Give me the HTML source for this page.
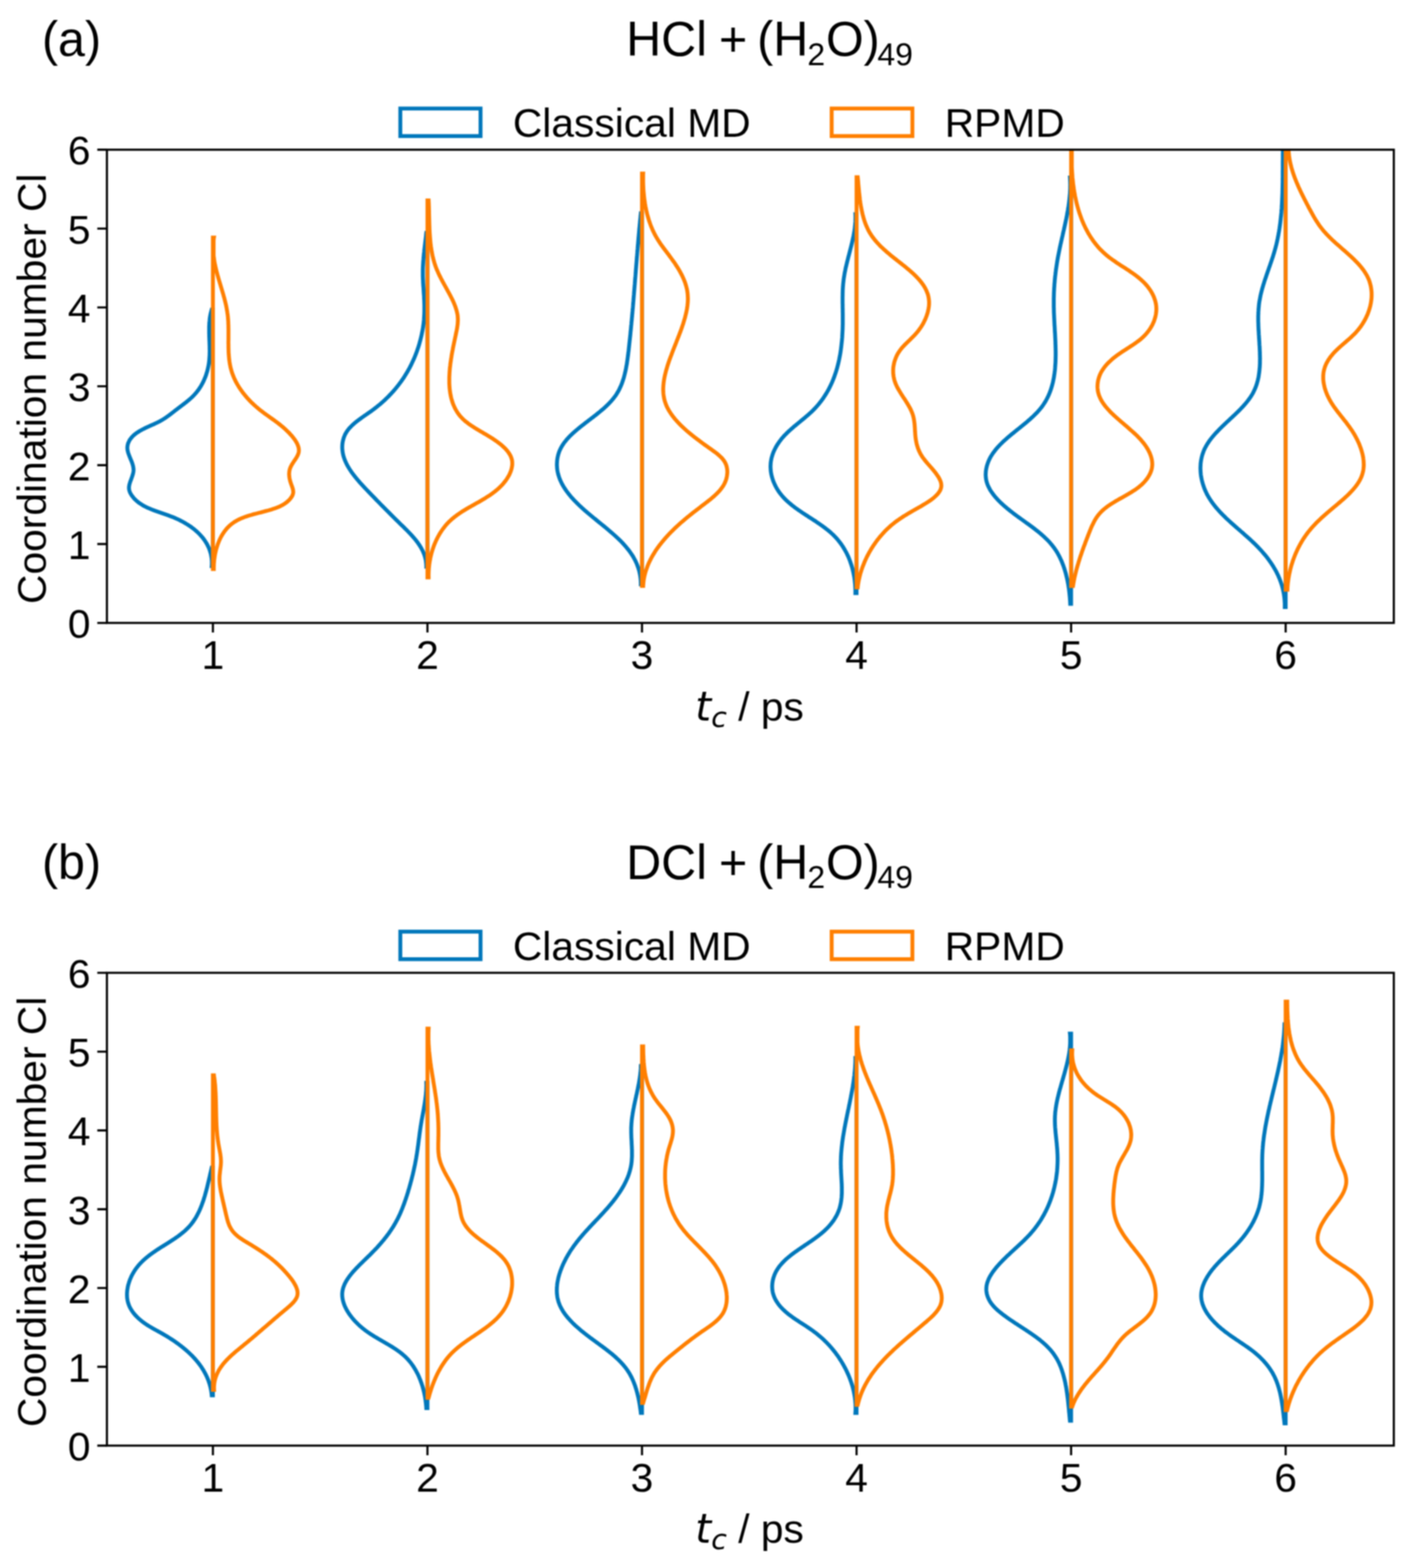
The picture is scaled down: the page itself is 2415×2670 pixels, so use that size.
<!DOCTYPE html>
<html lang="en"><head><meta charset="utf-8"><title>Coordination number Cl</title>
<style>html,body{margin:0;padding:0;background:#fff}svg{display:block}</style></head>
<body>
<svg xmlns="http://www.w3.org/2000/svg" width="2415" height="2670" viewBox="0 0 2415 2670" font-family='"Liberation Sans", Arial, Helvetica, sans-serif' fill="#000">
<rect width="2415" height="2670" fill="#fff"/>
<defs>
<filter id="soft" x="0" y="0" width="2415" height="2670" filterUnits="userSpaceOnUse" color-interpolation-filters="sRGB"><feGaussianBlur stdDeviation="0.8"/></filter>
<clipPath id="clipa"><rect x="182.1" y="254.9" width="2191.7" height="805.8"/></clipPath>
<clipPath id="clipb"><rect x="182.1" y="1656.5" width="2191.7" height="805.1"/></clipPath>
</defs>
<g filter="url(#soft)">
<rect width="2415" height="2670" fill="#fff"/>
<g clip-path="url(#clipa)" fill="none" stroke-width="6.6" stroke-linejoin="miter" stroke-miterlimit="4">
<path stroke="#0077BB" d="M362.6,527.0L360.6,527.0L360.2,528.4L359.8,529.9L359.4,531.3L359.0,532.7L358.7,534.1L358.4,535.6L358.1,537.0L357.9,538.5L357.6,539.9L357.4,541.3L357.2,542.8L357.1,544.2L356.9,545.7L356.8,547.1L356.6,548.6L356.5,550.0L356.4,551.5L356.4,553.0L356.3,554.4L356.2,555.9L356.2,557.3L356.2,558.8L356.2,560.3L356.2,561.7L356.2,563.2L356.2,564.7L356.2,566.1L356.2,567.6L356.3,569.1L356.3,570.5L356.3,572.0L356.4,573.5L356.4,574.9L356.5,576.4L356.5,577.9L356.6,579.3L356.7,580.8L356.7,582.3L356.8,583.7L356.8,585.2L356.9,586.7L356.9,588.1L357.0,589.6L357.0,591.1L357.0,592.5L357.0,594.0L357.1,595.5L357.1,596.9L357.1,598.4L357.1,599.9L357.0,601.3L357.0,602.8L357.0,604.2L356.9,605.7L356.8,607.1L356.7,608.6L356.6,610.0L356.5,611.5L356.4,612.9L356.2,614.4L356.1,615.8L355.9,617.3L355.7,618.7L355.5,620.1L355.2,621.6L355.0,623.0L354.7,624.4L354.4,625.8L354.1,627.3L353.8,628.7L353.4,630.1L353.1,631.5L352.7,632.9L352.3,634.3L351.8,635.6L351.4,637.0L351.0,638.4L350.5,639.8L350.0,641.1L349.5,642.5L348.9,643.8L348.4,645.1L347.8,646.5L347.2,647.8L346.6,649.1L346.0,650.4L345.3,651.7L344.7,653.0L344.0,654.2L343.3,655.5L342.6,656.7L341.8,658.0L341.0,659.2L340.3,660.4L339.5,661.6L338.6,662.8L337.8,664.0L336.9,665.2L336.0,666.3L335.1,667.5L334.2,668.6L333.3,669.7L332.3,670.8L331.3,671.9L330.3,673.0L329.3,674.0L328.2,675.1L327.2,676.1L326.1,677.1L325.0,678.1L323.9,679.1L322.8,680.1L321.6,681.1L320.5,682.0L319.3,683.0L318.2,683.9L317.0,684.9L315.8,685.8L314.6,686.7L313.5,687.6L312.3,688.5L311.1,689.4L309.9,690.3L308.8,691.2L307.6,692.1L306.4,692.9L305.3,693.8L304.1,694.7L303.0,695.5L301.9,696.4L300.7,697.3L299.6,698.1L298.5,699.0L297.4,699.8L296.3,700.7L295.3,701.5L294.2,702.4L293.1,703.2L292.0,704.0L291.0,704.9L289.9,705.7L288.8,706.5L287.7,707.3L286.6,708.1L285.5,708.9L284.4,709.7L283.3,710.5L282.2,711.2L281.0,712.0L279.9,712.8L278.7,713.5L277.5,714.2L276.3,715.0L275.1,715.7L273.8,716.4L272.6,717.1L271.3,717.8L270.0,718.4L268.6,719.1L267.3,719.8L265.9,720.4L264.5,721.1L263.2,721.7L261.8,722.4L260.4,723.0L258.9,723.6L257.5,724.3L256.1,724.9L254.7,725.5L253.2,726.2L251.8,726.8L250.4,727.5L249.0,728.1L247.6,728.8L246.2,729.5L244.8,730.2L243.4,730.9L242.0,731.6L240.7,732.3L239.4,733.0L238.1,733.8L236.8,734.6L235.5,735.4L234.3,736.2L233.0,737.0L231.9,737.9L230.7,738.7L229.6,739.6L228.5,740.5L227.4,741.5L226.4,742.5L225.4,743.5L224.5,744.5L223.6,745.6L222.7,746.7L221.9,747.8L221.1,748.9L220.4,750.1L219.8,751.4L219.2,752.6L218.6,753.9L218.1,755.2L217.7,756.5L217.4,757.8L217.2,759.2L217.0,760.5L216.9,761.8L216.9,763.2L217.0,764.5L217.1,765.9L217.4,767.3L217.7,768.6L218.0,770.0L218.4,771.3L218.9,772.7L219.4,774.1L219.9,775.4L220.4,776.8L221.0,778.2L221.6,779.6L222.1,781.0L222.7,782.4L223.3,783.7L223.8,785.1L224.4,786.5L224.9,787.9L225.4,789.3L225.8,790.7L226.2,792.1L226.6,793.6L226.9,795.0L227.1,796.4L227.3,797.8L227.4,799.3L227.4,800.7L227.3,802.1L227.1,803.6L226.9,805.0L226.5,806.5L226.2,807.9L225.7,809.3L225.3,810.8L224.8,812.2L224.3,813.7L223.7,815.1L223.2,816.6L222.7,818.0L222.1,819.4L221.6,820.9L221.2,822.3L220.8,823.7L220.4,825.1L220.1,826.5L219.9,827.9L219.7,829.2L219.7,830.6L219.7,832.0L219.9,833.3L220.1,834.6L220.5,835.9L220.9,837.2L221.4,838.5L222.0,839.7L222.7,841.0L223.4,842.2L224.2,843.3L225.0,844.5L225.8,845.6L226.7,846.7L227.5,847.7L228.4,848.8L229.4,849.8L230.3,850.7L231.3,851.7L232.3,852.6L233.3,853.5L234.4,854.3L235.4,855.2L236.5,856.0L237.6,856.8L238.8,857.6L239.9,858.3L241.1,859.1L242.2,859.8L243.4,860.5L244.7,861.2L245.9,861.8L247.1,862.5L248.4,863.1L249.7,863.8L251.0,864.4L252.3,865.0L253.6,865.5L254.9,866.1L256.3,866.7L257.6,867.2L259.0,867.8L260.4,868.3L261.7,868.8L263.1,869.4L264.5,869.9L265.9,870.4L267.3,870.9L268.8,871.4L270.2,871.9L271.6,872.4L273.1,872.9L274.5,873.4L275.9,873.9L277.4,874.4L278.8,874.9L280.3,875.4L281.7,875.9L283.2,876.4L284.6,876.9L286.1,877.4L287.5,878.0L289.0,878.5L290.4,879.1L291.9,879.6L293.3,880.2L294.8,880.7L296.2,881.3L297.6,881.9L299.0,882.5L300.5,883.2L301.9,883.8L303.3,884.4L304.7,885.1L306.1,885.8L307.4,886.5L308.8,887.2L310.2,887.9L311.5,888.6L312.9,889.4L314.2,890.1L315.5,890.9L316.8,891.7L318.1,892.5L319.4,893.3L320.7,894.1L322.0,894.9L323.2,895.8L324.5,896.6L325.7,897.5L326.9,898.4L328.1,899.3L329.3,900.2L330.5,901.1L331.6,902.1L332.7,903.0L333.9,904.0L335.0,905.0L336.0,905.9L337.1,906.9L338.2,908.0L339.2,909.0L340.2,910.0L341.2,911.1L342.2,912.2L343.1,913.2L344.1,914.3L345.0,915.4L345.9,916.6L346.7,917.7L347.6,918.8L348.4,920.0L349.2,921.2L350.0,922.4L350.7,923.6L351.5,924.8L352.2,926.0L352.9,927.2L353.5,928.5L354.1,929.8L354.8,931.0L355.3,932.3L355.9,933.6L356.4,934.9L356.9,936.3L357.4,937.6L357.8,939.0L358.2,940.3L358.6,941.7L359.0,943.1L359.3,944.5L359.6,945.9L359.8,947.4L360.1,948.8L360.3,950.3L360.5,951.8L360.6,953.2L360.7,954.7L360.8,956.3L360.8,957.8L360.8,959.3L360.8,960.9L360.7,962.4L360.6,964.0L362.6,964.0Z"/>
<path stroke="#FF7F00" d="M362.6,404.5L364.4,404.5L364.1,406.3L363.9,408.2L363.8,410.0L363.8,411.8L363.8,413.6L363.8,415.4L363.8,417.2L363.8,419.0L363.8,420.8L363.8,422.6L363.8,424.4L363.8,426.1L363.8,427.9L363.8,429.7L363.8,431.4L363.8,433.2L363.8,434.9L364.0,436.7L364.2,438.4L364.4,440.1L364.7,441.9L364.9,443.6L365.2,445.3L365.5,447.0L365.8,448.7L366.2,450.4L366.5,452.1L366.9,453.8L367.3,455.5L367.7,457.2L368.1,458.9L368.5,460.6L368.9,462.3L369.3,464.0L369.8,465.7L370.2,467.4L370.7,469.1L371.2,470.7L371.6,472.4L372.1,474.1L372.6,475.8L373.1,477.4L373.6,479.1L374.1,480.8L374.6,482.5L375.1,484.1L375.6,485.8L376.1,487.5L376.6,489.2L377.1,490.8L377.6,492.5L378.1,494.2L378.6,495.9L379.1,497.5L379.6,499.2L380.1,500.9L380.6,502.6L381.0,504.3L381.5,505.9L382.0,507.6L382.4,509.3L382.8,511.0L383.3,512.7L383.7,514.4L384.1,516.1L384.5,517.8L384.9,519.5L385.2,521.2L385.6,522.9L385.9,524.6L386.2,526.3L386.5,528.1L386.8,529.8L387.1,531.5L387.3,533.2L387.6,535.0L387.8,536.7L388.0,538.5L388.2,540.2L388.3,542.0L388.4,543.7L388.6,545.5L388.7,547.3L388.8,549.0L388.8,550.8L388.9,552.6L389.0,554.3L389.0,556.1L389.0,557.9L389.1,559.7L389.1,561.5L389.1,563.3L389.1,565.0L389.1,566.8L389.1,568.6L389.1,570.4L389.1,572.2L389.1,574.0L389.1,575.8L389.1,577.5L389.1,579.3L389.0,581.1L389.0,582.9L389.0,584.7L389.1,586.5L389.1,588.2L389.1,590.0L389.1,591.8L389.2,593.6L389.2,595.3L389.3,597.1L389.3,598.9L389.4,600.6L389.5,602.4L389.6,604.1L389.8,605.9L389.9,607.6L390.1,609.3L390.2,611.1L390.4,612.8L390.7,614.5L390.9,616.2L391.2,617.9L391.4,619.6L391.8,621.3L392.1,623.0L392.4,624.7L392.8,626.4L393.3,628.0L393.7,629.7L394.2,631.4L394.7,633.0L395.2,634.6L395.8,636.3L396.4,637.9L397.0,639.5L397.6,641.1L398.3,642.7L399.0,644.3L399.7,645.8L400.5,647.4L401.2,649.0L402.0,650.5L402.9,652.0L403.7,653.6L404.6,655.1L405.5,656.6L406.4,658.1L407.3,659.6L408.3,661.0L409.2,662.5L410.2,663.9L411.2,665.4L412.3,666.8L413.3,668.2L414.4,669.6L415.5,671.0L416.6,672.3L417.7,673.7L418.8,675.0L420.0,676.4L421.1,677.7L422.3,679.0L423.5,680.3L424.7,681.6L425.9,682.8L427.1,684.1L428.4,685.3L429.6,686.5L430.9,687.7L432.1,688.9L433.4,690.1L434.7,691.2L436.0,692.4L437.3,693.5L438.6,694.6L439.9,695.7L441.2,696.8L442.5,697.9L443.8,698.9L445.2,699.9L446.5,701.0L447.9,702.0L449.2,703.0L450.5,704.0L451.9,704.9L453.2,705.9L454.6,706.9L456.0,707.9L457.3,708.8L458.7,709.8L460.0,710.8L461.4,711.7L462.8,712.7L464.1,713.7L465.5,714.6L466.9,715.6L468.2,716.6L469.6,717.6L470.9,718.6L472.3,719.6L473.6,720.7L475.0,721.7L476.3,722.8L477.7,723.8L479.0,724.9L480.3,726.0L481.7,727.1L483.0,728.3L484.3,729.4L485.6,730.6L486.9,731.8L488.2,733.1L489.5,734.3L490.8,735.6L492.1,736.9L493.4,738.3L494.6,739.7L495.9,741.1L497.2,742.5L498.4,744.0L499.6,745.5L500.7,747.0L501.9,748.5L502.9,750.1L503.9,751.7L504.9,753.3L505.8,754.9L506.5,756.5L507.2,758.1L507.8,759.8L508.3,761.4L508.7,763.0L508.9,764.7L509.0,766.3L509.0,767.9L508.8,769.5L508.5,771.1L508.0,772.7L507.4,774.3L506.7,775.9L505.8,777.4L505.0,779.0L504.0,780.5L503.0,782.1L502.0,783.6L500.9,785.2L499.9,786.7L498.9,788.3L497.9,789.8L496.9,791.4L496.1,792.9L495.3,794.5L494.6,796.0L494.0,797.6L493.5,799.2L493.1,800.8L492.8,802.4L492.6,804.0L492.5,805.6L492.4,807.2L492.5,808.9L492.6,810.5L492.8,812.1L493.0,813.8L493.3,815.4L493.7,817.1L494.1,818.8L494.6,820.4L495.1,822.1L495.7,823.8L496.3,825.5L496.9,827.2L497.5,828.9L498.1,830.5L498.5,832.2L499.0,833.8L499.2,835.5L499.4,837.0L499.4,838.6L499.2,840.1L498.8,841.6L498.3,843.0L497.7,844.4L496.9,845.7L496.0,847.0L495.1,848.3L494.2,849.5L493.1,850.7L492.1,851.8L491.0,852.9L489.8,853.9L488.6,854.9L487.4,855.9L486.1,856.8L484.8,857.7L483.5,858.5L482.1,859.4L480.6,860.2L479.2,860.9L477.7,861.7L476.2,862.4L474.6,863.1L473.1,863.7L471.5,864.4L469.9,865.0L468.2,865.6L466.5,866.2L464.8,866.7L463.1,867.3L461.4,867.8L459.7,868.3L457.9,868.9L456.1,869.4L454.4,869.8L452.6,870.3L450.7,870.8L448.9,871.3L447.1,871.7L445.3,872.2L443.5,872.7L441.6,873.1L439.8,873.6L437.9,874.1L436.1,874.6L434.3,875.1L432.4,875.5L430.6,876.0L428.8,876.6L427.0,877.1L425.2,877.6L423.4,878.2L421.6,878.7L419.9,879.3L418.1,879.9L416.4,880.5L414.7,881.2L413.0,881.9L411.3,882.5L409.6,883.3L408.0,884.0L406.4,884.8L404.8,885.6L403.3,886.4L401.8,887.3L400.3,888.2L398.8,889.1L397.4,890.1L396.0,891.1L394.6,892.1L393.3,893.2L392.0,894.3L390.7,895.4L389.5,896.6L388.3,897.8L387.1,899.1L386.0,900.3L384.9,901.6L383.8,903.0L382.8,904.3L381.7,905.7L380.8,907.1L379.8,908.5L378.9,910.0L378.0,911.5L377.1,913.0L376.3,914.5L375.5,916.0L374.7,917.6L374.0,919.2L373.3,920.8L372.6,922.4L372.0,924.0L371.3,925.7L370.7,927.3L370.2,929.0L369.6,930.7L369.1,932.4L368.6,934.1L368.1,935.8L367.7,937.5L367.3,939.2L366.9,941.0L366.5,942.7L366.2,944.5L365.9,946.2L365.6,948.0L365.4,949.7L365.1,951.5L364.9,953.2L364.7,955.0L364.6,956.7L364.4,958.5L364.3,960.2L364.2,962.0L364.2,963.7L364.1,965.5L364.1,967.2L364.1,968.9L362.6,968.9Z"/>
<path stroke="#0077BB" d="M728.0,396.5L726.0,396.5L725.8,398.2L725.6,399.8L725.5,401.5L725.3,403.2L725.1,404.8L724.9,406.5L724.7,408.2L724.5,409.9L724.3,411.5L724.1,413.2L723.9,414.9L723.7,416.6L723.5,418.2L723.3,419.9L723.1,421.6L722.9,423.3L722.7,425.0L722.5,426.6L722.4,428.3L722.2,430.0L722.0,431.7L721.8,433.4L721.7,435.1L721.5,436.7L721.4,438.4L721.2,440.1L721.1,441.8L720.9,443.5L720.8,445.2L720.7,446.8L720.6,448.5L720.5,450.2L720.4,451.9L720.3,453.6L720.2,455.3L720.2,457.0L720.1,458.6L720.1,460.3L720.1,462.0L720.1,463.7L720.1,465.4L720.1,467.1L720.1,468.7L720.1,470.4L720.2,472.1L720.2,473.8L720.3,475.5L720.4,477.1L720.5,478.8L720.5,480.5L720.6,482.2L720.7,483.9L720.8,485.5L720.9,487.2L721.1,488.9L721.2,490.6L721.3,492.3L721.4,493.9L721.5,495.6L721.6,497.3L721.7,499.0L721.8,500.7L722.0,502.3L722.1,504.0L722.2,505.7L722.2,507.4L722.3,509.0L722.4,510.7L722.5,512.4L722.5,514.1L722.6,515.8L722.6,517.4L722.7,519.1L722.7,520.8L722.7,522.5L722.7,524.2L722.7,525.8L722.7,527.5L722.7,529.2L722.7,530.9L722.6,532.6L722.6,534.2L722.5,535.9L722.4,537.6L722.3,539.3L722.2,541.0L722.1,542.6L722.0,544.3L721.8,546.0L721.7,547.7L721.5,549.4L721.3,551.1L721.1,552.8L720.8,554.5L720.6,556.2L720.4,557.8L720.1,559.5L719.8,561.2L719.5,562.9L719.2,564.6L718.8,566.3L718.5,567.9L718.2,569.6L717.8,571.3L717.4,573.0L717.0,574.6L716.6,576.3L716.2,577.9L715.8,579.6L715.3,581.2L714.9,582.8L714.4,584.5L714.0,586.1L713.5,587.7L713.0,589.3L712.5,590.9L712.0,592.5L711.4,594.1L710.9,595.7L710.3,597.3L709.8,598.8L709.2,600.4L708.6,602.0L708.0,603.5L707.4,605.1L706.8,606.6L706.2,608.1L705.5,609.7L704.9,611.2L704.2,612.7L703.5,614.2L702.8,615.7L702.1,617.2L701.4,618.7L700.7,620.2L700.0,621.7L699.2,623.1L698.5,624.6L697.7,626.1L696.9,627.5L696.1,629.0L695.3,630.4L694.5,631.8L693.7,633.3L692.8,634.7L692.0,636.1L691.1,637.5L690.3,638.9L689.4,640.3L688.5,641.7L687.6,643.1L686.7,644.5L685.7,645.8L684.8,647.2L683.9,648.5L682.9,649.9L681.9,651.2L680.9,652.5L679.9,653.9L678.9,655.2L677.9,656.5L676.9,657.8L675.8,659.1L674.8,660.4L673.7,661.7L672.7,663.0L671.6,664.2L670.5,665.5L669.4,666.7L668.2,668.0L667.1,669.2L666.0,670.5L664.8,671.7L663.6,672.9L662.5,674.1L661.3,675.3L660.1,676.5L658.9,677.7L657.6,678.9L656.4,680.1L655.2,681.3L653.9,682.4L652.6,683.6L651.4,684.7L650.1,685.8L648.8,687.0L647.5,688.1L646.1,689.2L644.8,690.3L643.4,691.4L642.1,692.5L640.7,693.6L639.3,694.7L637.9,695.8L636.5,696.8L635.1,697.9L633.7,698.9L632.3,700.0L630.8,701.0L629.4,702.0L627.9,703.0L626.5,704.1L625.0,705.1L623.5,706.1L622.1,707.1L620.6,708.1L619.1,709.1L617.7,710.1L616.2,711.2L614.8,712.2L613.4,713.2L612.0,714.2L610.6,715.3L609.2,716.3L607.8,717.4L606.5,718.4L605.2,719.5L603.9,720.6L602.6,721.7L601.4,722.8L600.1,723.9L599.0,725.0L597.8,726.2L596.7,727.4L595.6,728.5L594.5,729.7L593.5,731.0L592.5,732.2L591.6,733.5L590.7,734.7L589.9,736.1L589.1,737.4L588.3,738.7L587.6,740.1L587.0,741.5L586.4,743.0L585.8,744.4L585.3,745.9L584.9,747.4L584.5,748.9L584.1,750.4L583.8,751.9L583.5,753.5L583.3,755.0L583.1,756.6L583.0,758.1L582.9,759.7L582.9,761.3L582.9,762.9L583.0,764.5L583.1,766.1L583.3,767.6L583.5,769.2L583.7,770.8L584.0,772.4L584.3,773.9L584.7,775.5L585.1,777.0L585.6,778.6L586.1,780.1L586.7,781.7L587.2,783.2L587.9,784.7L588.5,786.2L589.2,787.7L589.9,789.2L590.7,790.7L591.4,792.2L592.3,793.7L593.1,795.2L594.0,796.6L594.9,798.1L595.8,799.6L596.7,801.0L597.7,802.4L598.7,803.9L599.7,805.3L600.8,806.7L601.8,808.1L602.9,809.5L604.0,810.9L605.1,812.3L606.2,813.7L607.4,815.1L608.5,816.5L609.7,817.9L610.9,819.2L612.0,820.6L613.2,821.9L614.4,823.3L615.7,824.6L616.9,825.9L618.1,827.2L619.3,828.6L620.5,829.9L621.8,831.2L623.0,832.5L624.2,833.7L625.4,835.0L626.7,836.3L627.9,837.6L629.1,838.8L630.3,840.1L631.5,841.3L632.7,842.6L633.9,843.8L635.1,845.0L636.2,846.2L637.4,847.4L638.6,848.7L639.8,849.9L640.9,851.1L642.1,852.3L643.3,853.5L644.4,854.6L645.6,855.8L646.7,857.0L647.9,858.2L649.0,859.4L650.2,860.5L651.3,861.7L652.5,862.9L653.6,864.0L654.8,865.2L655.9,866.3L657.1,867.5L658.2,868.7L659.4,869.8L660.5,871.0L661.7,872.1L662.8,873.3L664.0,874.4L665.1,875.6L666.3,876.7L667.4,877.9L668.6,879.0L669.7,880.2L670.9,881.3L672.1,882.5L673.2,883.6L674.4,884.8L675.6,886.0L676.8,887.1L678.0,888.3L679.1,889.5L680.3,890.6L681.5,891.8L682.7,893.0L683.9,894.2L685.2,895.3L686.4,896.5L687.6,897.7L688.8,898.9L690.0,900.1L691.3,901.3L692.5,902.5L693.7,903.8L694.9,905.0L696.1,906.2L697.3,907.5L698.5,908.7L699.7,910.0L700.8,911.2L702.0,912.5L703.1,913.8L704.2,915.1L705.4,916.4L706.5,917.7L707.5,919.0L708.6,920.3L709.6,921.7L710.7,923.0L711.7,924.4L712.6,925.8L713.6,927.2L714.5,928.6L715.4,930.0L716.3,931.4L717.1,932.8L717.9,934.3L718.7,935.8L719.5,937.2L720.2,938.7L720.8,940.3L721.5,941.8L722.1,943.3L722.7,944.9L723.2,946.5L723.7,948.1L724.1,949.7L724.5,951.3L724.9,952.9L725.2,954.6L725.4,956.3L725.6,958.0L725.8,959.7L725.9,961.5L726.0,963.2L726.0,965.0L728.0,965.0Z"/>
<path stroke="#FF7F00" d="M728.0,341.3L730.0,341.3L730.1,343.1L730.2,344.9L730.3,346.7L730.3,348.5L730.4,350.3L730.5,352.1L730.5,354.0L730.6,355.8L730.6,357.7L730.7,359.6L730.7,361.4L730.7,363.3L730.8,365.2L730.8,367.1L730.9,369.0L730.9,370.9L731.0,372.8L731.0,374.7L731.1,376.7L731.1,378.6L731.2,380.5L731.2,382.5L731.3,384.4L731.4,386.4L731.4,388.3L731.5,390.3L731.6,392.2L731.7,394.2L731.8,396.1L731.9,398.1L732.1,400.0L732.2,402.0L732.3,403.9L732.5,405.9L732.7,407.8L732.8,409.7L733.0,411.7L733.2,413.6L733.4,415.6L733.7,417.5L733.9,419.4L734.2,421.3L734.5,423.3L734.8,425.2L735.1,427.1L735.4,429.0L735.8,430.9L736.1,432.7L736.5,434.6L736.9,436.5L737.4,438.4L737.8,440.2L738.3,442.1L738.8,443.9L739.3,445.7L739.8,447.5L740.4,449.3L741.0,451.1L741.6,452.9L742.2,454.7L742.9,456.4L743.6,458.2L744.3,459.9L745.1,461.6L745.8,463.3L746.6,465.1L747.4,466.8L748.2,468.5L749.0,470.2L749.9,471.8L750.7,473.5L751.6,475.2L752.5,476.9L753.4,478.6L754.3,480.3L755.2,481.9L756.1,483.6L757.1,485.3L758.0,487.0L758.9,488.7L759.9,490.4L760.8,492.1L761.8,493.8L762.7,495.6L763.7,497.3L764.6,499.0L765.6,500.8L766.5,502.5L767.4,504.3L768.3,506.1L769.2,507.8L770.1,509.6L771.0,511.4L771.8,513.2L772.6,515.0L773.4,516.8L774.1,518.6L774.8,520.4L775.5,522.2L776.1,524.0L776.7,525.9L777.3,527.7L777.8,529.5L778.2,531.3L778.6,533.1L779.0,534.9L779.3,536.7L779.5,538.5L779.6,540.2L779.7,542.0L779.8,543.8L779.8,545.6L779.7,547.3L779.6,549.1L779.5,550.9L779.3,552.7L779.1,554.5L778.8,556.2L778.6,558.0L778.3,559.8L777.9,561.6L777.6,563.4L777.2,565.2L776.8,567.0L776.5,568.8L776.1,570.7L775.7,572.5L775.3,574.4L774.9,576.2L774.5,578.1L774.1,580.0L773.7,581.9L773.3,583.8L772.9,585.7L772.5,587.6L772.1,589.5L771.7,591.5L771.3,593.4L771.0,595.3L770.6,597.3L770.2,599.2L769.9,601.2L769.5,603.2L769.2,605.1L768.9,607.1L768.6,609.1L768.2,611.0L768.0,613.0L767.7,615.0L767.4,617.0L767.1,619.0L766.9,620.9L766.7,622.9L766.4,624.9L766.2,626.9L766.0,628.8L765.9,630.8L765.7,632.8L765.6,634.7L765.5,636.7L765.4,638.6L765.3,640.6L765.2,642.5L765.2,644.5L765.2,646.4L765.2,648.3L765.2,650.2L765.2,652.2L765.3,654.1L765.4,656.0L765.5,657.8L765.6,659.7L765.8,661.6L766.0,663.4L766.2,665.3L766.5,667.1L766.7,668.9L767.0,670.7L767.4,672.5L767.7,674.3L768.1,676.1L768.5,677.8L769.0,679.6L769.5,681.3L770.0,683.0L770.5,684.7L771.1,686.4L771.7,688.0L772.4,689.7L773.1,691.3L773.8,692.9L774.6,694.5L775.3,696.0L776.2,697.6L777.1,699.1L778.0,700.6L778.9,702.1L779.9,703.5L780.9,705.0L782.0,706.4L783.1,707.8L784.3,709.2L785.5,710.5L786.7,711.8L788.0,713.1L789.3,714.4L790.7,715.6L792.1,716.9L793.6,718.1L795.1,719.2L796.6,720.4L798.1,721.6L799.7,722.7L801.3,723.8L803.0,724.9L804.6,726.0L806.3,727.1L808.0,728.2L809.7,729.3L811.5,730.4L813.2,731.4L815.0,732.5L816.8,733.5L818.6,734.6L820.4,735.7L822.2,736.7L824.0,737.8L825.9,738.9L827.7,739.9L829.5,741.0L831.3,742.1L833.1,743.2L835.0,744.4L836.8,745.5L838.6,746.6L840.3,747.8L842.1,749.0L843.9,750.2L845.6,751.4L847.3,752.6L849.0,753.9L850.6,755.2L852.3,756.4L853.9,757.7L855.4,759.1L856.9,760.4L858.3,761.8L859.8,763.1L861.1,764.5L862.4,765.9L863.6,767.4L864.8,768.8L865.9,770.3L866.9,771.8L867.8,773.3L868.7,774.8L869.5,776.3L870.2,777.9L870.8,779.4L871.3,781.0L871.7,782.6L872.1,784.2L872.3,785.9L872.4,787.5L872.4,789.2L872.4,790.9L872.3,792.6L872.0,794.2L871.7,795.9L871.4,797.6L870.9,799.3L870.4,801.0L869.8,802.7L869.2,804.4L868.5,806.0L867.7,807.7L866.8,809.4L866.0,811.0L865.0,812.6L864.0,814.2L863.0,815.8L861.9,817.4L860.8,818.9L859.6,820.4L858.4,821.9L857.2,823.4L856.0,824.8L854.7,826.2L853.4,827.5L852.0,828.9L850.7,830.2L849.3,831.5L847.9,832.7L846.4,834.0L845.0,835.2L843.5,836.4L842.0,837.6L840.5,838.7L839.0,839.9L837.4,841.0L835.8,842.1L834.3,843.2L832.7,844.2L831.0,845.3L829.4,846.3L827.8,847.3L826.1,848.4L824.5,849.4L822.8,850.4L821.1,851.4L819.5,852.3L817.8,853.3L816.1,854.3L814.4,855.3L812.7,856.2L811.0,857.2L809.3,858.1L807.6,859.1L805.9,860.1L804.2,861.0L802.5,862.0L800.8,863.0L799.1,863.9L797.4,864.9L795.7,865.9L794.0,866.9L792.4,867.9L790.7,868.9L789.1,869.9L787.4,870.9L785.8,872.0L784.2,873.0L782.6,874.1L781.0,875.2L779.5,876.3L777.9,877.4L776.4,878.6L774.9,879.7L773.4,880.9L771.9,882.1L770.4,883.3L769.0,884.5L767.6,885.8L766.2,887.1L764.8,888.4L763.5,889.8L762.2,891.1L760.9,892.5L759.7,893.9L758.4,895.4L757.2,896.9L756.1,898.4L754.9,899.9L753.8,901.4L752.7,903.0L751.6,904.6L750.6,906.2L749.5,907.8L748.5,909.4L747.6,911.1L746.6,912.8L745.7,914.5L744.8,916.2L744.0,917.9L743.1,919.6L742.3,921.4L741.5,923.2L740.8,924.9L740.0,926.7L739.3,928.5L738.6,930.3L738.0,932.2L737.4,934.0L736.7,935.9L736.2,937.7L735.6,939.6L735.1,941.4L734.6,943.3L734.1,945.2L733.7,947.1L733.2,949.0L732.8,950.9L732.5,952.8L732.1,954.7L731.8,956.6L731.5,958.5L731.2,960.4L731.0,962.3L730.8,964.2L730.6,966.1L730.4,968.0L730.3,969.9L730.2,971.8L730.1,973.7L730.0,975.6L730.0,977.5L729.9,979.4L730.0,981.2L730.0,983.1L728.0,983.1Z"/>
<path stroke="#0077BB" d="M1093.4,363.0L1091.4,363.0L1091.2,364.8L1091.0,366.7L1090.8,368.5L1090.7,370.4L1090.5,372.2L1090.3,374.0L1090.1,375.9L1089.9,377.7L1089.8,379.6L1089.6,381.4L1089.4,383.2L1089.3,385.1L1089.1,386.9L1088.9,388.7L1088.7,390.6L1088.6,392.4L1088.4,394.2L1088.3,396.1L1088.1,397.9L1087.9,399.7L1087.8,401.6L1087.6,403.4L1087.4,405.2L1087.3,407.1L1087.1,408.9L1087.0,410.7L1086.8,412.6L1086.7,414.4L1086.5,416.2L1086.3,418.0L1086.2,419.9L1086.0,421.7L1085.9,423.5L1085.7,425.4L1085.6,427.2L1085.4,429.0L1085.3,430.8L1085.1,432.7L1085.0,434.5L1084.8,436.3L1084.7,438.1L1084.5,440.0L1084.4,441.8L1084.3,443.6L1084.1,445.4L1084.0,447.3L1083.8,449.1L1083.7,450.9L1083.5,452.7L1083.4,454.6L1083.2,456.4L1083.1,458.2L1082.9,460.0L1082.8,461.9L1082.7,463.7L1082.5,465.5L1082.4,467.3L1082.2,469.2L1082.1,471.0L1081.9,472.8L1081.8,474.7L1081.6,476.5L1081.5,478.3L1081.4,480.1L1081.2,482.0L1081.1,483.8L1080.9,485.6L1080.8,487.4L1080.6,489.3L1080.5,491.1L1080.3,492.9L1080.2,494.7L1080.0,496.6L1079.9,498.4L1079.7,500.2L1079.6,502.0L1079.4,503.9L1079.3,505.7L1079.1,507.5L1079.0,509.4L1078.8,511.2L1078.7,513.0L1078.5,514.9L1078.4,516.7L1078.2,518.5L1078.1,520.3L1077.9,522.2L1077.8,524.0L1077.6,525.8L1077.4,527.7L1077.3,529.5L1077.1,531.3L1077.0,533.2L1076.8,535.0L1076.6,536.8L1076.5,538.7L1076.3,540.5L1076.1,542.3L1076.0,544.2L1075.8,546.0L1075.6,547.9L1075.4,549.7L1075.3,551.5L1075.1,553.4L1074.9,555.2L1074.7,557.1L1074.6,558.9L1074.4,560.7L1074.2,562.6L1074.0,564.4L1073.8,566.3L1073.7,568.1L1073.5,570.0L1073.3,571.8L1073.1,573.7L1072.9,575.5L1072.7,577.3L1072.5,579.2L1072.3,581.0L1072.1,582.9L1071.9,584.7L1071.7,586.6L1071.5,588.4L1071.3,590.3L1071.1,592.2L1070.9,594.0L1070.7,595.9L1070.5,597.7L1070.2,599.6L1070.0,601.4L1069.8,603.3L1069.6,605.1L1069.3,607.0L1069.1,608.8L1068.8,610.7L1068.6,612.5L1068.3,614.4L1068.0,616.2L1067.8,618.1L1067.5,619.9L1067.2,621.7L1066.8,623.5L1066.5,625.3L1066.2,627.2L1065.8,629.0L1065.4,630.8L1065.1,632.5L1064.6,634.3L1064.2,636.1L1063.8,637.8L1063.3,639.6L1062.9,641.3L1062.4,643.1L1061.9,644.8L1061.3,646.5L1060.8,648.2L1060.2,649.9L1059.6,651.6L1059.0,653.2L1058.3,654.9L1057.7,656.5L1057.0,658.1L1056.2,659.7L1055.5,661.3L1054.7,662.9L1053.9,664.5L1053.1,666.0L1052.2,667.5L1051.3,669.0L1050.4,670.5L1049.5,672.0L1048.5,673.5L1047.4,674.9L1046.4,676.3L1045.3,677.7L1044.2,679.1L1043.1,680.5L1041.9,681.9L1040.7,683.2L1039.5,684.5L1038.3,685.8L1037.0,687.2L1035.8,688.4L1034.5,689.7L1033.1,691.0L1031.8,692.3L1030.4,693.5L1029.1,694.8L1027.7,696.0L1026.3,697.2L1024.8,698.4L1023.4,699.6L1022.0,700.8L1020.5,702.0L1019.0,703.2L1017.5,704.4L1016.0,705.6L1014.5,706.8L1013.0,708.0L1011.5,709.1L1010.0,710.3L1008.5,711.5L1006.9,712.7L1005.4,713.8L1003.9,715.0L1002.3,716.2L1000.8,717.3L999.2,718.5L997.7,719.7L996.2,720.9L994.6,722.1L993.1,723.3L991.6,724.4L990.1,725.6L988.5,726.8L987.0,728.1L985.5,729.3L984.1,730.5L982.6,731.7L981.1,733.0L979.7,734.2L978.2,735.5L976.8,736.8L975.4,738.0L974.0,739.3L972.7,740.6L971.3,741.9L970.0,743.3L968.7,744.6L967.5,746.0L966.2,747.3L965.0,748.7L963.9,750.1L962.7,751.5L961.6,752.9L960.5,754.4L959.5,755.8L958.5,757.3L957.6,758.8L956.7,760.3L955.8,761.8L955.0,763.4L954.2,764.9L953.5,766.5L952.8,768.1L952.2,769.7L951.6,771.4L951.1,773.0L950.6,774.7L950.2,776.4L949.8,778.1L949.5,779.8L949.2,781.5L949.0,783.2L948.8,784.9L948.7,786.7L948.6,788.4L948.5,790.2L948.5,791.9L948.6,793.6L948.7,795.4L948.8,797.1L949.0,798.8L949.2,800.5L949.5,802.2L949.8,803.9L950.2,805.6L950.6,807.3L951.1,809.0L951.6,810.6L952.1,812.3L952.7,813.9L953.3,815.5L953.9,817.1L954.6,818.7L955.4,820.3L956.1,821.9L956.9,823.4L957.7,825.0L958.6,826.5L959.5,828.1L960.4,829.6L961.4,831.1L962.4,832.6L963.4,834.1L964.4,835.6L965.5,837.1L966.6,838.6L967.7,840.0L968.8,841.5L970.0,842.9L971.2,844.3L972.4,845.8L973.6,847.2L974.9,848.6L976.2,850.0L977.5,851.4L978.8,852.8L980.1,854.1L981.4,855.5L982.8,856.8L984.2,858.2L985.5,859.5L986.9,860.9L988.4,862.2L989.8,863.5L991.2,864.8L992.6,866.1L994.1,867.4L995.5,868.7L997.0,870.0L998.5,871.3L999.9,872.5L1001.4,873.8L1002.9,875.0L1004.4,876.3L1005.9,877.5L1007.4,878.8L1008.9,880.0L1010.4,881.3L1011.9,882.5L1013.4,883.7L1014.9,884.9L1016.4,886.2L1017.9,887.4L1019.4,888.6L1020.9,889.8L1022.4,891.0L1023.9,892.3L1025.4,893.5L1026.9,894.7L1028.4,895.9L1029.9,897.1L1031.3,898.3L1032.8,899.5L1034.3,900.8L1035.7,902.0L1037.2,903.2L1038.6,904.4L1040.1,905.7L1041.5,906.9L1042.9,908.1L1044.3,909.4L1045.7,910.6L1047.1,911.9L1048.5,913.1L1049.8,914.4L1051.2,915.6L1052.5,916.9L1053.9,918.2L1055.2,919.5L1056.5,920.7L1057.8,922.0L1059.0,923.3L1060.3,924.6L1061.5,926.0L1062.7,927.3L1063.9,928.6L1065.1,930.0L1066.3,931.3L1067.4,932.7L1068.5,934.1L1069.6,935.5L1070.7,936.8L1071.8,938.3L1072.8,939.7L1073.8,941.1L1074.8,942.5L1075.8,944.0L1076.7,945.5L1077.7,946.9L1078.6,948.4L1079.4,949.9L1080.3,951.5L1081.1,953.0L1081.9,954.5L1082.7,956.1L1083.4,957.7L1084.1,959.3L1084.8,960.9L1085.4,962.5L1086.0,964.2L1086.6,965.8L1087.2,967.5L1087.7,969.2L1088.2,970.9L1088.7,972.7L1089.1,974.4L1089.5,976.2L1089.8,978.0L1090.2,979.8L1090.4,981.6L1090.7,983.5L1090.9,985.3L1091.1,987.2L1091.2,989.1L1091.3,991.1L1091.4,993.0L1091.4,995.0L1093.4,995.0Z"/>
<path stroke="#FF7F00" d="M1093.4,295.6L1095.4,295.6L1095.3,297.6L1095.3,299.6L1095.3,301.6L1095.3,303.6L1095.3,305.7L1095.3,307.7L1095.3,309.8L1095.4,311.8L1095.4,313.9L1095.5,315.9L1095.6,318.0L1095.7,320.1L1095.8,322.2L1095.9,324.3L1096.1,326.4L1096.3,328.4L1096.5,330.5L1096.7,332.6L1096.9,334.7L1097.1,336.8L1097.4,338.9L1097.7,341.0L1098.0,343.1L1098.3,345.2L1098.6,347.3L1099.0,349.4L1099.3,351.5L1099.7,353.6L1100.2,355.7L1100.6,357.7L1101.1,359.8L1101.5,361.9L1102.0,363.9L1102.6,366.0L1103.1,368.0L1103.7,370.0L1104.3,372.0L1104.9,374.1L1105.5,376.1L1106.2,378.0L1106.9,380.0L1107.6,382.0L1108.3,383.9L1109.1,385.9L1109.9,387.8L1110.7,389.7L1111.5,391.6L1112.4,393.5L1113.3,395.4L1114.2,397.2L1115.1,399.0L1116.1,400.9L1117.1,402.7L1118.1,404.4L1119.2,406.2L1120.2,407.9L1121.3,409.7L1122.5,411.4L1123.6,413.1L1124.7,414.8L1125.9,416.5L1127.1,418.2L1128.3,419.8L1129.5,421.5L1130.7,423.2L1132.0,424.8L1133.2,426.5L1134.5,428.1L1135.7,429.8L1137.0,431.5L1138.2,433.1L1139.5,434.8L1140.7,436.5L1142.0,438.2L1143.2,439.9L1144.5,441.6L1145.7,443.3L1146.9,445.0L1148.2,446.7L1149.4,448.5L1150.6,450.3L1151.7,452.1L1152.9,453.9L1154.0,455.7L1155.2,457.5L1156.3,459.4L1157.3,461.2L1158.4,463.1L1159.4,465.0L1160.4,466.9L1161.4,468.8L1162.3,470.7L1163.2,472.6L1164.0,474.5L1164.9,476.4L1165.6,478.4L1166.4,480.3L1167.1,482.2L1167.7,484.2L1168.3,486.1L1168.8,488.0L1169.3,490.0L1169.8,491.9L1170.2,493.8L1170.5,495.7L1170.8,497.7L1171.0,499.6L1171.2,501.5L1171.3,503.5L1171.4,505.4L1171.5,507.3L1171.5,509.3L1171.5,511.2L1171.4,513.1L1171.3,515.1L1171.1,517.0L1170.9,519.0L1170.7,520.9L1170.4,522.9L1170.1,524.9L1169.8,526.8L1169.4,528.8L1169.0,530.8L1168.6,532.8L1168.1,534.8L1167.6,536.8L1167.1,538.8L1166.6,540.8L1166.0,542.9L1165.4,544.9L1164.8,546.9L1164.2,548.9L1163.6,551.0L1162.9,553.0L1162.2,555.0L1161.5,557.1L1160.8,559.1L1160.1,561.2L1159.3,563.2L1158.6,565.3L1157.8,567.3L1157.0,569.4L1156.2,571.4L1155.4,573.5L1154.6,575.5L1153.8,577.6L1153.0,579.6L1152.2,581.7L1151.4,583.8L1150.6,585.8L1149.8,587.9L1148.9,589.9L1148.1,592.0L1147.3,594.1L1146.5,596.1L1145.7,598.2L1144.9,600.2L1144.1,602.3L1143.4,604.3L1142.6,606.4L1141.8,608.4L1141.1,610.4L1140.3,612.5L1139.6,614.5L1138.9,616.6L1138.2,618.6L1137.6,620.6L1136.9,622.6L1136.3,624.7L1135.7,626.7L1135.1,628.7L1134.5,630.7L1134.0,632.7L1133.5,634.7L1133.0,636.7L1132.5,638.7L1132.1,640.6L1131.7,642.6L1131.3,644.6L1131.0,646.5L1130.7,648.5L1130.4,650.4L1130.2,652.4L1130.0,654.3L1129.8,656.3L1129.7,658.2L1129.6,660.1L1129.5,662.0L1129.5,663.9L1129.6,665.8L1129.7,667.7L1129.8,669.5L1130.0,671.4L1130.2,673.2L1130.5,675.1L1130.8,676.9L1131.1,678.7L1131.6,680.6L1132.0,682.4L1132.6,684.2L1133.2,685.9L1133.8,687.7L1134.5,689.5L1135.2,691.2L1136.0,693.0L1136.9,694.7L1137.8,696.4L1138.7,698.1L1139.7,699.8L1140.8,701.5L1141.9,703.2L1143.0,704.9L1144.2,706.5L1145.4,708.2L1146.6,709.8L1147.9,711.4L1149.2,713.1L1150.6,714.7L1152.0,716.3L1153.4,717.8L1154.9,719.4L1156.3,721.0L1157.9,722.5L1159.4,724.1L1161.0,725.6L1162.6,727.1L1164.2,728.6L1165.8,730.1L1167.5,731.6L1169.1,733.1L1170.8,734.6L1172.5,736.0L1174.3,737.5L1176.0,738.9L1177.8,740.3L1179.5,741.8L1181.3,743.2L1183.1,744.6L1184.9,745.9L1186.7,747.3L1188.5,748.7L1190.3,750.0L1192.1,751.4L1193.9,752.7L1195.7,754.1L1197.5,755.4L1199.3,756.7L1201.1,758.0L1202.9,759.3L1204.7,760.5L1206.4,761.8L1208.2,763.1L1210.0,764.3L1211.7,765.5L1213.4,766.8L1215.1,768.0L1216.8,769.2L1218.5,770.4L1220.1,771.7L1221.7,772.9L1223.2,774.2L1224.7,775.5L1226.1,776.8L1227.5,778.1L1228.8,779.4L1230.1,780.8L1231.3,782.2L1232.4,783.7L1233.4,785.2L1234.4,786.7L1235.2,788.3L1236.0,789.9L1236.7,791.6L1237.3,793.4L1237.7,795.2L1238.1,797.0L1238.4,798.9L1238.6,800.8L1238.7,802.8L1238.7,804.8L1238.5,806.8L1238.3,808.8L1238.0,810.8L1237.6,812.8L1237.2,814.8L1236.6,816.8L1235.9,818.7L1235.1,820.6L1234.3,822.5L1233.4,824.3L1232.4,826.1L1231.3,827.9L1230.1,829.6L1228.9,831.3L1227.6,833.0L1226.3,834.7L1224.9,836.3L1223.4,837.8L1221.9,839.4L1220.4,840.9L1218.8,842.4L1217.2,843.9L1215.6,845.4L1213.9,846.8L1212.2,848.3L1210.5,849.7L1208.8,851.1L1207.0,852.4L1205.3,853.8L1203.6,855.1L1201.8,856.5L1200.1,857.8L1198.4,859.1L1196.7,860.4L1195.0,861.7L1193.3,863.0L1191.7,864.3L1190.0,865.6L1188.4,866.8L1186.7,868.1L1185.1,869.4L1183.5,870.6L1181.8,871.9L1180.2,873.1L1178.6,874.4L1177.1,875.7L1175.5,876.9L1173.9,878.2L1172.3,879.5L1170.8,880.7L1169.2,882.0L1167.7,883.3L1166.1,884.6L1164.6,885.9L1163.1,887.2L1161.6,888.5L1160.0,889.8L1158.5,891.1L1157.0,892.5L1155.5,893.9L1154.0,895.2L1152.5,896.6L1151.0,898.0L1149.5,899.4L1148.0,900.9L1146.5,902.3L1145.1,903.8L1143.6,905.2L1142.1,906.7L1140.7,908.2L1139.2,909.7L1137.8,911.3L1136.4,912.8L1134.9,914.4L1133.5,916.0L1132.2,917.5L1130.8,919.1L1129.4,920.8L1128.1,922.4L1126.7,924.0L1125.4,925.7L1124.1,927.4L1122.8,929.0L1121.6,930.7L1120.3,932.4L1119.1,934.2L1117.9,935.9L1116.7,937.6L1115.6,939.4L1114.5,941.2L1113.4,943.0L1112.3,944.8L1111.2,946.6L1110.2,948.4L1109.2,950.2L1108.2,952.1L1107.3,953.9L1106.4,955.8L1105.5,957.7L1104.6,959.6L1103.8,961.5L1103.0,963.4L1102.3,965.4L1101.6,967.3L1100.9,969.3L1100.2,971.2L1099.6,973.2L1099.0,975.2L1098.5,977.2L1098.0,979.2L1097.5,981.2L1097.1,983.3L1096.7,985.3L1096.4,987.4L1096.1,989.4L1095.9,991.5L1095.7,993.6L1095.5,995.7L1095.4,997.8L1093.4,997.8Z"/>
<path stroke="#0077BB" d="M1458.8,364.8L1456.8,364.8L1456.9,366.7L1456.9,368.6L1456.9,370.5L1456.9,372.4L1456.8,374.3L1456.8,376.2L1456.7,378.0L1456.5,379.9L1456.4,381.8L1456.2,383.6L1456.0,385.5L1455.8,387.4L1455.6,389.2L1455.3,391.1L1455.1,392.9L1454.8,394.8L1454.5,396.6L1454.2,398.5L1453.8,400.3L1453.5,402.1L1453.1,404.0L1452.7,405.8L1452.3,407.6L1451.9,409.5L1451.5,411.3L1451.1,413.1L1450.7,414.9L1450.2,416.8L1449.8,418.6L1449.3,420.4L1448.9,422.2L1448.4,424.0L1447.9,425.8L1447.5,427.7L1447.0,429.5L1446.5,431.3L1446.1,433.1L1445.6,434.9L1445.1,436.7L1444.6,438.6L1444.2,440.4L1443.7,442.2L1443.3,444.0L1442.8,445.8L1442.4,447.6L1441.9,449.5L1441.5,451.3L1441.1,453.1L1440.6,454.9L1440.2,456.8L1439.8,458.6L1439.5,460.4L1439.1,462.2L1438.7,464.1L1438.4,465.9L1438.1,467.7L1437.8,469.6L1437.5,471.4L1437.2,473.3L1436.9,475.1L1436.7,477.0L1436.5,478.8L1436.3,480.7L1436.1,482.5L1435.9,484.4L1435.8,486.2L1435.6,488.1L1435.5,490.0L1435.4,491.8L1435.3,493.7L1435.2,495.6L1435.2,497.5L1435.1,499.3L1435.1,501.2L1435.1,503.1L1435.0,505.0L1435.0,506.9L1435.0,508.7L1435.0,510.6L1435.0,512.5L1435.0,514.4L1435.0,516.3L1435.1,518.2L1435.1,520.1L1435.1,522.0L1435.1,523.9L1435.2,525.8L1435.2,527.7L1435.2,529.5L1435.2,531.4L1435.3,533.3L1435.3,535.2L1435.3,537.1L1435.3,539.0L1435.3,540.9L1435.3,542.8L1435.3,544.7L1435.3,546.6L1435.3,548.5L1435.3,550.4L1435.3,552.3L1435.2,554.2L1435.2,556.0L1435.1,557.9L1435.1,559.8L1435.0,561.7L1434.9,563.6L1434.8,565.5L1434.7,567.3L1434.6,569.2L1434.5,571.1L1434.4,573.0L1434.3,574.8L1434.1,576.7L1434.0,578.6L1433.8,580.4L1433.6,582.3L1433.4,584.2L1433.2,586.0L1433.0,587.9L1432.8,589.7L1432.6,591.6L1432.3,593.4L1432.1,595.2L1431.8,597.1L1431.6,598.9L1431.3,600.7L1431.0,602.6L1430.7,604.4L1430.3,606.2L1430.0,608.0L1429.6,609.8L1429.3,611.6L1428.9,613.4L1428.5,615.2L1428.1,617.0L1427.7,618.7L1427.3,620.5L1426.8,622.3L1426.4,624.0L1425.9,625.8L1425.4,627.6L1424.9,629.3L1424.4,631.0L1423.8,632.8L1423.3,634.5L1422.7,636.2L1422.1,637.9L1421.5,639.6L1420.9,641.3L1420.3,643.0L1419.6,644.7L1419.0,646.4L1418.3,648.1L1417.6,649.7L1416.9,651.4L1416.1,653.0L1415.4,654.7L1414.6,656.3L1413.8,657.9L1413.0,659.5L1412.2,661.2L1411.3,662.8L1410.5,664.3L1409.6,665.9L1408.7,667.5L1407.8,669.1L1406.8,670.6L1405.9,672.2L1404.9,673.7L1403.9,675.2L1402.9,676.7L1401.9,678.3L1400.8,679.8L1399.7,681.2L1398.6,682.7L1397.5,684.2L1396.3,685.6L1395.2,687.1L1394.0,688.5L1392.8,690.0L1391.6,691.4L1390.3,692.8L1389.0,694.2L1387.7,695.6L1386.4,696.9L1385.1,698.3L1383.7,699.6L1382.3,701.0L1380.9,702.3L1379.5,703.6L1378.0,704.9L1376.6,706.2L1375.1,707.5L1373.6,708.8L1372.1,710.1L1370.6,711.4L1369.1,712.6L1367.5,713.9L1366.0,715.2L1364.4,716.4L1362.9,717.7L1361.3,719.0L1359.8,720.2L1358.3,721.5L1356.7,722.8L1355.2,724.1L1353.6,725.3L1352.1,726.6L1350.6,727.9L1349.1,729.2L1347.6,730.5L1346.1,731.9L1344.6,733.2L1343.2,734.5L1341.8,735.9L1340.3,737.2L1339.0,738.6L1337.6,740.0L1336.2,741.4L1334.9,742.8L1333.6,744.3L1332.4,745.7L1331.1,747.2L1329.9,748.7L1328.8,750.2L1327.6,751.7L1326.5,753.3L1325.5,754.8L1324.4,756.4L1323.4,758.0L1322.5,759.6L1321.5,761.2L1320.7,762.8L1319.8,764.5L1319.0,766.1L1318.2,767.8L1317.5,769.4L1316.8,771.1L1316.2,772.8L1315.6,774.5L1315.1,776.2L1314.6,777.9L1314.1,779.6L1313.7,781.4L1313.4,783.1L1313.1,784.8L1312.8,786.6L1312.6,788.3L1312.5,790.1L1312.4,791.8L1312.3,793.6L1312.3,795.3L1312.4,797.1L1312.5,798.8L1312.6,800.6L1312.8,802.3L1313.0,804.1L1313.3,805.8L1313.6,807.6L1314.0,809.3L1314.4,811.0L1314.9,812.7L1315.4,814.4L1315.9,816.1L1316.5,817.8L1317.1,819.5L1317.8,821.2L1318.5,822.8L1319.2,824.5L1320.0,826.1L1320.8,827.7L1321.6,829.3L1322.5,830.9L1323.4,832.5L1324.4,834.0L1325.4,835.6L1326.4,837.1L1327.4,838.6L1328.5,840.0L1329.6,841.5L1330.8,842.9L1332.0,844.3L1333.2,845.7L1334.4,847.0L1335.6,848.4L1336.9,849.7L1338.2,851.0L1339.6,852.3L1340.9,853.5L1342.3,854.8L1343.7,856.0L1345.1,857.2L1346.6,858.4L1348.0,859.6L1349.5,860.8L1351.0,862.0L1352.5,863.1L1354.0,864.3L1355.5,865.4L1357.1,866.5L1358.7,867.6L1360.2,868.8L1361.8,869.8L1363.4,870.9L1365.0,872.0L1366.6,873.1L1368.2,874.2L1369.9,875.2L1371.5,876.3L1373.1,877.4L1374.8,878.4L1376.4,879.5L1378.0,880.6L1379.7,881.6L1381.3,882.7L1383.0,883.7L1384.6,884.8L1386.2,885.9L1387.9,886.9L1389.5,888.0L1391.1,889.1L1392.7,890.2L1394.3,891.3L1395.9,892.4L1397.5,893.5L1399.1,894.6L1400.7,895.7L1402.2,896.9L1403.8,898.0L1405.3,899.1L1406.8,900.3L1408.3,901.5L1409.8,902.7L1411.3,903.9L1412.8,905.1L1414.2,906.3L1415.6,907.6L1417.0,908.9L1418.4,910.1L1419.7,911.4L1421.0,912.8L1422.3,914.1L1423.6,915.5L1424.8,916.8L1426.1,918.2L1427.3,919.7L1428.4,921.1L1429.6,922.5L1430.7,924.0L1431.8,925.5L1432.9,927.0L1433.9,928.5L1435.0,930.1L1436.0,931.6L1436.9,933.2L1437.9,934.8L1438.8,936.4L1439.7,938.0L1440.6,939.6L1441.5,941.2L1442.3,942.9L1443.1,944.6L1443.9,946.2L1444.7,947.9L1445.4,949.6L1446.1,951.3L1446.8,953.1L1447.5,954.8L1448.1,956.6L1448.7,958.3L1449.3,960.1L1449.9,961.8L1450.4,963.6L1451.0,965.4L1451.5,967.2L1451.9,969.0L1452.4,970.8L1452.8,972.7L1453.3,974.5L1453.6,976.3L1454.0,978.2L1454.3,980.0L1454.7,981.9L1455.0,983.7L1455.2,985.6L1455.5,987.4L1455.7,989.3L1455.9,991.2L1456.1,993.1L1456.3,994.9L1456.4,996.8L1456.5,998.7L1456.6,1000.6L1456.7,1002.5L1456.8,1004.3L1456.8,1006.2L1456.8,1008.1L1456.8,1010.0L1458.8,1010.0Z"/>
<path stroke="#FF7F00" d="M1458.8,301.7L1460.8,301.7L1461.0,303.7L1461.2,305.7L1461.4,307.8L1461.5,309.8L1461.7,311.9L1461.9,314.0L1462.1,316.1L1462.3,318.2L1462.5,320.3L1462.7,322.4L1462.9,324.5L1463.1,326.7L1463.3,328.8L1463.5,331.0L1463.8,333.1L1464.0,335.3L1464.3,337.4L1464.5,339.6L1464.8,341.7L1465.1,343.9L1465.4,346.0L1465.8,348.2L1466.1,350.3L1466.5,352.4L1466.9,354.6L1467.3,356.7L1467.7,358.8L1468.2,360.9L1468.6,363.0L1469.1,365.1L1469.7,367.2L1470.2,369.2L1470.8,371.3L1471.4,373.3L1472.0,375.3L1472.7,377.3L1473.4,379.3L1474.1,381.3L1474.9,383.2L1475.7,385.1L1476.5,387.0L1477.4,388.9L1478.3,390.8L1479.2,392.6L1480.2,394.4L1481.2,396.2L1482.3,397.9L1483.4,399.6L1484.5,401.3L1485.7,403.0L1486.9,404.7L1488.2,406.3L1489.4,407.9L1490.7,409.5L1492.1,411.1L1493.4,412.7L1494.8,414.2L1496.3,415.7L1497.7,417.3L1499.2,418.8L1500.7,420.3L1502.2,421.7L1503.8,423.2L1505.4,424.7L1507.0,426.1L1508.6,427.5L1510.2,429.0L1511.9,430.4L1513.6,431.8L1515.3,433.2L1517.0,434.7L1518.7,436.1L1520.5,437.5L1522.2,438.9L1524.0,440.3L1525.8,441.7L1527.5,443.1L1529.3,444.5L1531.1,445.9L1532.9,447.3L1534.7,448.7L1536.4,450.1L1538.2,451.5L1540.0,452.9L1541.7,454.3L1543.5,455.8L1545.2,457.2L1546.9,458.6L1548.6,460.1L1550.3,461.5L1552.0,463.0L1553.6,464.4L1555.2,465.9L1556.8,467.4L1558.3,468.9L1559.9,470.4L1561.3,471.9L1562.8,473.4L1564.2,475.0L1565.6,476.5L1566.9,478.1L1568.2,479.7L1569.5,481.3L1570.7,482.9L1571.8,484.5L1573.0,486.1L1574.0,487.8L1575.0,489.5L1576.0,491.2L1576.8,492.9L1577.7,494.7L1578.4,496.4L1579.1,498.2L1579.8,500.0L1580.4,501.8L1580.9,503.7L1581.3,505.5L1581.6,507.4L1581.9,509.3L1582.1,511.3L1582.3,513.3L1582.3,515.2L1582.3,517.3L1582.2,519.3L1582.0,521.4L1581.7,523.4L1581.4,525.5L1581.0,527.6L1580.5,529.7L1580.0,531.8L1579.4,533.9L1578.7,536.0L1578.0,538.1L1577.2,540.2L1576.4,542.2L1575.5,544.3L1574.5,546.3L1573.5,548.4L1572.5,550.4L1571.4,552.4L1570.2,554.3L1569.0,556.3L1567.7,558.2L1566.4,560.0L1565.1,561.9L1563.7,563.7L1562.3,565.4L1560.8,567.1L1559.3,568.8L1557.8,570.4L1556.3,572.0L1554.7,573.6L1553.2,575.2L1551.6,576.7L1550.0,578.3L1548.4,579.8L1546.8,581.3L1545.3,582.8L1543.7,584.3L1542.2,585.8L1540.7,587.3L1539.3,588.9L1537.8,590.4L1536.4,592.0L1535.1,593.6L1533.8,595.2L1532.6,596.9L1531.4,598.6L1530.3,600.3L1529.2,602.0L1528.2,603.8L1527.3,605.6L1526.4,607.5L1525.6,609.4L1524.9,611.3L1524.2,613.2L1523.6,615.1L1523.0,617.1L1522.6,619.0L1522.2,621.0L1521.8,623.0L1521.5,625.0L1521.3,627.0L1521.2,629.0L1521.1,631.0L1521.2,633.1L1521.2,635.1L1521.4,637.1L1521.6,639.1L1521.9,641.1L1522.3,643.1L1522.7,645.1L1523.2,647.1L1523.8,649.1L1524.5,651.0L1525.2,653.0L1526.0,654.9L1526.9,656.8L1527.8,658.7L1528.8,660.6L1529.8,662.5L1530.9,664.3L1532.0,666.2L1533.1,668.1L1534.3,669.9L1535.4,671.8L1536.6,673.6L1537.8,675.5L1539.0,677.3L1540.3,679.2L1541.5,681.0L1542.7,682.9L1543.8,684.8L1545.0,686.6L1546.1,688.5L1547.3,690.4L1548.3,692.3L1549.4,694.2L1550.4,696.1L1551.3,698.0L1552.2,700.0L1553.0,701.9L1553.8,703.9L1554.5,705.9L1555.1,707.9L1555.6,709.9L1556.1,712.0L1556.5,714.0L1556.8,716.1L1557.1,718.2L1557.4,720.3L1557.6,722.4L1557.8,724.5L1557.9,726.6L1558.1,728.7L1558.2,730.9L1558.3,733.0L1558.4,735.1L1558.6,737.2L1558.7,739.3L1558.9,741.3L1559.1,743.4L1559.3,745.5L1559.6,747.5L1559.9,749.5L1560.3,751.5L1560.7,753.5L1561.1,755.5L1561.6,757.5L1562.2,759.4L1562.8,761.3L1563.4,763.3L1564.2,765.2L1564.9,767.1L1565.8,768.9L1566.7,770.8L1567.6,772.6L1568.7,774.5L1569.8,776.3L1570.9,778.1L1572.2,779.9L1573.5,781.6L1574.9,783.4L1576.3,785.2L1577.7,786.9L1579.2,788.7L1580.7,790.4L1582.3,792.1L1583.8,793.9L1585.4,795.6L1586.9,797.4L1588.4,799.2L1589.9,800.9L1591.3,802.7L1592.8,804.5L1594.1,806.3L1595.4,808.1L1596.6,809.8L1597.8,811.6L1598.9,813.4L1599.8,815.1L1600.7,816.9L1601.4,818.6L1602.1,820.3L1602.6,822.0L1602.9,823.7L1603.1,825.4L1603.2,827.0L1603.1,828.7L1602.8,830.3L1602.4,831.8L1601.9,833.4L1601.2,834.9L1600.4,836.4L1599.4,837.9L1598.4,839.4L1597.3,840.8L1596.0,842.2L1594.6,843.6L1593.2,845.0L1591.7,846.4L1590.1,847.8L1588.4,849.1L1586.7,850.4L1584.9,851.7L1583.0,853.0L1581.1,854.3L1579.2,855.5L1577.2,856.8L1575.2,858.0L1573.2,859.2L1571.2,860.4L1569.2,861.6L1567.2,862.8L1565.1,863.9L1563.1,865.1L1561.1,866.2L1559.1,867.3L1557.2,868.4L1555.3,869.5L1553.3,870.6L1551.5,871.7L1549.6,872.8L1547.7,873.9L1545.9,875.0L1544.1,876.1L1542.3,877.2L1540.5,878.3L1538.7,879.4L1537.0,880.5L1535.3,881.7L1533.5,882.8L1531.8,884.0L1530.2,885.1L1528.5,886.3L1526.8,887.5L1525.2,888.7L1523.6,889.9L1522.0,891.2L1520.4,892.5L1518.8,893.8L1517.2,895.1L1515.7,896.5L1514.1,897.9L1512.6,899.3L1511.1,900.7L1509.6,902.2L1508.1,903.6L1506.7,905.1L1505.2,906.7L1503.8,908.2L1502.4,909.8L1501.0,911.4L1499.6,913.0L1498.2,914.6L1496.9,916.3L1495.5,918.0L1494.2,919.6L1492.9,921.4L1491.6,923.1L1490.4,924.8L1489.2,926.6L1487.9,928.4L1486.7,930.2L1485.6,932.0L1484.4,933.8L1483.3,935.7L1482.2,937.6L1481.1,939.4L1480.0,941.3L1479.0,943.2L1478.0,945.1L1477.0,947.1L1476.0,949.0L1475.1,951.0L1474.2,952.9L1473.3,954.9L1472.4,956.9L1471.6,958.9L1470.8,960.9L1470.0,962.9L1469.2,964.9L1468.5,966.9L1467.8,969.0L1467.1,971.0L1466.5,973.1L1465.8,975.1L1465.2,977.2L1464.7,979.3L1464.2,981.3L1463.7,983.4L1463.2,985.5L1462.8,987.6L1462.3,989.6L1462.0,991.7L1461.6,993.8L1461.3,995.9L1461.0,998.0L1460.8,1000.1L1458.8,1000.1Z"/>
<path stroke="#0077BB" d="M1824.2,302.4L1822.2,302.4L1822.3,304.5L1822.4,306.5L1822.5,308.6L1822.6,310.7L1822.6,312.7L1822.7,314.8L1822.6,316.9L1822.6,318.9L1822.6,321.0L1822.5,323.1L1822.4,325.1L1822.3,327.2L1822.2,329.3L1822.0,331.4L1821.8,333.4L1821.6,335.5L1821.4,337.6L1821.2,339.6L1821.0,341.7L1820.7,343.8L1820.5,345.8L1820.2,347.9L1819.9,350.0L1819.6,352.0L1819.2,354.1L1818.9,356.2L1818.6,358.3L1818.2,360.3L1817.8,362.4L1817.5,364.4L1817.1,366.5L1816.7,368.6L1816.3,370.6L1815.9,372.7L1815.4,374.8L1815.0,376.8L1814.6,378.9L1814.1,380.9L1813.7,383.0L1813.2,385.1L1812.8,387.1L1812.3,389.2L1811.9,391.2L1811.4,393.3L1810.9,395.3L1810.5,397.4L1810.0,399.4L1809.6,401.4L1809.1,403.5L1808.6,405.5L1808.2,407.6L1807.7,409.6L1807.3,411.6L1806.8,413.7L1806.3,415.7L1805.9,417.7L1805.5,419.8L1805.0,421.8L1804.6,423.8L1804.2,425.8L1803.8,427.8L1803.4,429.9L1803.0,431.9L1802.6,433.9L1802.2,435.9L1801.8,437.9L1801.5,439.9L1801.1,441.9L1800.8,443.9L1800.4,445.9L1800.1,447.9L1799.8,449.9L1799.5,451.9L1799.2,453.9L1798.9,455.9L1798.6,457.9L1798.3,459.9L1798.1,461.9L1797.8,463.9L1797.6,465.9L1797.4,467.9L1797.1,469.9L1796.9,471.9L1796.7,473.9L1796.5,475.9L1796.3,477.9L1796.2,479.9L1796.0,481.9L1795.8,483.9L1795.7,485.9L1795.6,487.9L1795.4,489.9L1795.3,492.0L1795.2,494.0L1795.1,496.0L1795.0,498.0L1794.9,500.1L1794.9,502.1L1794.8,504.2L1794.8,506.2L1794.7,508.2L1794.7,510.3L1794.7,512.4L1794.7,514.4L1794.7,516.5L1794.7,518.6L1794.7,520.7L1794.7,522.7L1794.8,524.8L1794.8,526.9L1794.9,529.0L1794.9,531.2L1795.0,533.3L1795.1,535.4L1795.2,537.5L1795.3,539.6L1795.4,541.8L1795.5,543.9L1795.6,546.1L1795.7,548.2L1795.8,550.3L1795.9,552.5L1796.0,554.6L1796.2,556.8L1796.3,558.9L1796.4,561.1L1796.5,563.3L1796.6,565.4L1796.8,567.6L1796.9,569.7L1797.0,571.9L1797.1,574.0L1797.2,576.2L1797.3,578.3L1797.4,580.5L1797.5,582.7L1797.5,584.8L1797.6,587.0L1797.7,589.1L1797.7,591.2L1797.8,593.4L1797.8,595.5L1797.9,597.7L1797.9,599.8L1797.9,601.9L1797.9,604.0L1797.9,606.2L1797.8,608.3L1797.8,610.4L1797.7,612.5L1797.7,614.6L1797.6,616.7L1797.5,618.8L1797.3,620.8L1797.2,622.9L1797.0,625.0L1796.9,627.0L1796.7,629.1L1796.5,631.1L1796.2,633.2L1796.0,635.2L1795.7,637.2L1795.4,639.2L1795.1,641.2L1794.8,643.2L1794.4,645.2L1794.0,647.1L1793.6,649.1L1793.2,651.0L1792.7,653.0L1792.2,654.9L1791.7,656.8L1791.1,658.7L1790.6,660.6L1790.0,662.5L1789.3,664.4L1788.7,666.2L1788.0,668.1L1787.2,669.9L1786.5,671.7L1785.7,673.5L1784.9,675.3L1784.0,677.0L1783.1,678.8L1782.2,680.5L1781.2,682.3L1780.2,684.0L1779.2,685.7L1778.1,687.3L1777.0,689.0L1775.9,690.6L1774.7,692.3L1773.5,693.9L1772.2,695.5L1770.9,697.0L1769.6,698.6L1768.2,700.1L1766.8,701.7L1765.4,703.2L1763.9,704.7L1762.4,706.2L1760.9,707.7L1759.4,709.1L1757.8,710.6L1756.2,712.0L1754.6,713.5L1753.0,714.9L1751.3,716.3L1749.7,717.8L1748.0,719.2L1746.3,720.6L1744.6,722.0L1742.9,723.4L1741.2,724.8L1739.5,726.2L1737.7,727.6L1736.0,729.0L1734.3,730.3L1732.6,731.7L1730.8,733.1L1729.1,734.5L1727.4,735.9L1725.7,737.3L1723.9,738.7L1722.2,740.1L1720.5,741.5L1718.9,742.9L1717.2,744.3L1715.5,745.7L1713.9,747.2L1712.3,748.6L1710.7,750.1L1709.1,751.5L1707.6,753.0L1706.0,754.5L1704.5,756.0L1703.0,757.5L1701.6,759.0L1700.2,760.5L1698.8,762.0L1697.4,763.6L1696.1,765.2L1694.8,766.8L1693.6,768.4L1692.4,770.0L1691.2,771.6L1690.1,773.3L1689.0,775.0L1687.9,776.7L1686.9,778.4L1686.0,780.1L1685.1,781.9L1684.3,783.7L1683.5,785.5L1682.8,787.3L1682.1,789.2L1681.5,791.1L1680.9,792.9L1680.4,794.8L1680.0,796.7L1679.6,798.6L1679.3,800.6L1679.0,802.5L1678.9,804.4L1678.8,806.3L1678.7,808.3L1678.8,810.2L1678.9,812.1L1679.1,814.0L1679.4,815.9L1679.7,817.7L1680.1,819.6L1680.7,821.5L1681.2,823.3L1681.9,825.1L1682.6,826.9L1683.5,828.7L1684.3,830.5L1685.3,832.2L1686.2,834.0L1687.3,835.7L1688.4,837.4L1689.6,839.1L1690.8,840.7L1692.0,842.4L1693.3,844.0L1694.6,845.7L1696.0,847.3L1697.4,848.8L1698.9,850.4L1700.3,851.9L1701.8,853.5L1703.4,855.0L1704.9,856.5L1706.5,857.9L1708.0,859.4L1709.6,860.8L1711.2,862.2L1712.9,863.6L1714.5,865.0L1716.1,866.4L1717.8,867.7L1719.5,869.1L1721.1,870.4L1722.8,871.7L1724.5,873.0L1726.2,874.3L1727.9,875.6L1729.6,876.9L1731.3,878.2L1733.0,879.4L1734.8,880.7L1736.5,881.9L1738.2,883.2L1739.9,884.4L1741.7,885.6L1743.4,886.9L1745.1,888.1L1746.8,889.3L1748.5,890.6L1750.2,891.8L1751.9,893.0L1753.6,894.3L1755.3,895.5L1757.0,896.8L1758.7,898.0L1760.3,899.3L1762.0,900.5L1763.6,901.8L1765.3,903.1L1766.9,904.4L1768.5,905.6L1770.1,907.0L1771.7,908.3L1773.2,909.6L1774.8,910.9L1776.3,912.3L1777.8,913.7L1779.3,915.1L1780.8,916.5L1782.2,917.9L1783.7,919.3L1785.1,920.8L1786.5,922.2L1787.8,923.7L1789.2,925.3L1790.5,926.8L1791.8,928.4L1793.0,929.9L1794.2,931.5L1795.5,933.2L1796.6,934.8L1797.8,936.5L1798.9,938.2L1800.0,940.0L1801.0,941.7L1802.0,943.5L1803.0,945.3L1804.0,947.2L1804.9,949.0L1805.8,950.9L1806.7,952.8L1807.6,954.7L1808.4,956.6L1809.2,958.6L1809.9,960.6L1810.7,962.5L1811.4,964.5L1812.1,966.5L1812.8,968.6L1813.4,970.6L1814.0,972.6L1814.6,974.7L1815.2,976.7L1815.7,978.8L1816.2,980.9L1816.7,983.0L1817.2,985.1L1817.7,987.1L1818.1,989.2L1818.5,991.3L1818.9,993.4L1819.3,995.5L1819.6,997.6L1819.9,999.7L1820.3,1001.8L1820.6,1003.9L1820.8,1006.0L1821.1,1008.1L1821.3,1010.1L1821.5,1012.2L1821.7,1014.2L1821.9,1016.3L1822.1,1018.3L1822.2,1020.3L1822.4,1022.3L1822.5,1024.3L1822.6,1026.3L1822.7,1028.3L1824.2,1028.3Z"/>
<path stroke="#FF7F00" d="M1824.2,246.9L1825.7,246.9L1825.6,249.1L1825.5,251.4L1825.4,253.7L1825.4,256.0L1825.4,258.2L1825.4,260.5L1825.4,262.8L1825.4,265.2L1825.4,267.5L1825.4,269.8L1825.4,272.1L1825.4,274.5L1825.4,276.8L1825.4,279.2L1825.4,281.5L1825.4,283.9L1825.5,286.2L1825.6,288.6L1825.8,291.0L1825.9,293.3L1826.1,295.7L1826.2,298.1L1826.4,300.5L1826.6,302.8L1826.9,305.2L1827.1,307.6L1827.3,310.0L1827.6,312.4L1827.9,314.7L1828.2,317.1L1828.6,319.5L1828.9,321.8L1829.3,324.2L1829.6,326.6L1830.1,328.9L1830.5,331.3L1830.9,333.6L1831.4,336.0L1831.9,338.3L1832.4,340.6L1832.9,342.9L1833.4,345.3L1834.0,347.6L1834.6,349.9L1835.2,352.2L1835.9,354.4L1836.5,356.7L1837.2,359.0L1837.9,361.2L1838.6,363.5L1839.4,365.7L1840.2,367.9L1841.0,370.1L1841.8,372.3L1842.6,374.5L1843.5,376.6L1844.4,378.8L1845.3,380.9L1846.3,383.1L1847.3,385.2L1848.3,387.3L1849.3,389.3L1850.4,391.4L1851.5,393.4L1852.6,395.5L1853.7,397.5L1854.9,399.4L1856.1,401.4L1857.3,403.4L1858.6,405.3L1859.9,407.2L1861.2,409.1L1862.5,411.0L1863.9,412.8L1865.3,414.6L1866.7,416.4L1868.2,418.2L1869.7,420.0L1871.2,421.7L1872.8,423.4L1874.4,425.1L1876.0,426.7L1877.7,428.4L1879.4,430.0L1881.1,431.5L1882.8,433.1L1884.6,434.6L1886.5,436.1L1888.3,437.6L1890.2,439.0L1892.1,440.5L1894.0,441.9L1896.0,443.3L1898.0,444.6L1900.0,446.0L1902.0,447.4L1904.0,448.7L1906.0,450.0L1908.1,451.4L1910.1,452.7L1912.1,454.0L1914.2,455.3L1916.2,456.6L1918.3,458.0L1920.3,459.3L1922.3,460.6L1924.4,462.0L1926.4,463.4L1928.4,464.7L1930.3,466.1L1932.3,467.5L1934.2,469.0L1936.1,470.4L1938.0,471.9L1939.9,473.4L1941.7,474.9L1943.5,476.5L1945.2,478.1L1946.9,479.7L1948.6,481.3L1950.2,483.0L1951.8,484.8L1953.3,486.5L1954.8,488.3L1956.2,490.2L1957.6,492.1L1958.9,494.0L1960.2,496.0L1961.4,498.0L1962.5,500.1L1963.5,502.1L1964.5,504.2L1965.4,506.3L1966.2,508.5L1966.9,510.6L1967.6,512.8L1968.1,515.0L1968.6,517.2L1968.9,519.4L1969.2,521.6L1969.3,523.8L1969.4,526.1L1969.3,528.3L1969.2,530.5L1968.9,532.8L1968.6,535.0L1968.2,537.2L1967.7,539.4L1967.1,541.6L1966.4,543.8L1965.7,545.9L1964.9,548.1L1963.9,550.2L1963.0,552.3L1961.9,554.3L1960.8,556.3L1959.6,558.3L1958.3,560.3L1957.0,562.2L1955.6,564.1L1954.2,565.9L1952.7,567.7L1951.1,569.5L1949.5,571.2L1947.8,572.9L1946.1,574.5L1944.4,576.0L1942.6,577.6L1940.7,579.1L1938.9,580.5L1937.0,581.9L1935.0,583.4L1933.1,584.7L1931.1,586.1L1929.1,587.5L1927.1,588.8L1925.0,590.1L1923.0,591.5L1920.9,592.8L1918.8,594.1L1916.8,595.4L1914.7,596.8L1912.6,598.1L1910.5,599.5L1908.5,600.9L1906.5,602.3L1904.4,603.7L1902.4,605.2L1900.4,606.7L1898.5,608.2L1896.5,609.7L1894.6,611.3L1892.8,612.9L1891.0,614.6L1889.2,616.2L1887.5,617.9L1885.8,619.6L1884.2,621.4L1882.7,623.2L1881.2,625.0L1879.8,626.9L1878.5,628.8L1877.2,630.7L1876.0,632.7L1874.9,634.7L1873.9,636.8L1873.0,638.8L1872.2,641.0L1871.5,643.1L1870.9,645.2L1870.3,647.4L1869.9,649.6L1869.6,651.8L1869.3,654.0L1869.2,656.1L1869.1,658.3L1869.2,660.5L1869.4,662.6L1869.6,664.7L1870.0,666.8L1870.4,668.8L1871.0,670.8L1871.6,672.8L1872.4,674.8L1873.2,676.7L1874.1,678.7L1875.1,680.6L1876.1,682.5L1877.2,684.3L1878.4,686.2L1879.7,688.0L1881.0,689.8L1882.4,691.6L1883.9,693.4L1885.4,695.1L1886.9,696.9L1888.5,698.6L1890.2,700.4L1891.8,702.1L1893.6,703.8L1895.3,705.5L1897.1,707.2L1899.0,708.9L1900.8,710.6L1902.7,712.2L1904.6,713.9L1906.5,715.6L1908.4,717.2L1910.4,718.9L1912.3,720.6L1914.3,722.3L1916.2,723.9L1918.2,725.6L1920.1,727.3L1922.1,729.0L1924.0,730.7L1925.9,732.4L1927.9,734.1L1929.7,735.8L1931.6,737.5L1933.5,739.2L1935.3,741.0L1937.1,742.7L1938.8,744.5L1940.5,746.3L1942.2,748.1L1943.8,749.9L1945.4,751.8L1946.9,753.6L1948.4,755.5L1949.8,757.4L1951.2,759.3L1952.5,761.2L1953.7,763.2L1954.9,765.2L1956.0,767.2L1957.0,769.2L1958.0,771.2L1958.8,773.3L1959.6,775.3L1960.3,777.4L1960.9,779.5L1961.4,781.5L1961.8,783.6L1962.1,785.7L1962.3,787.7L1962.4,789.8L1962.4,791.9L1962.2,793.9L1962.0,795.9L1961.6,798.0L1961.1,800.0L1960.5,801.9L1959.8,803.9L1959.0,805.8L1958.0,807.8L1957.0,809.7L1955.9,811.5L1954.7,813.4L1953.5,815.2L1952.1,816.9L1950.7,818.7L1949.2,820.4L1947.7,822.0L1946.0,823.7L1944.4,825.3L1942.6,826.8L1940.8,828.3L1939.0,829.8L1937.1,831.2L1935.2,832.6L1933.2,834.0L1931.2,835.3L1929.2,836.6L1927.1,837.9L1925.0,839.2L1922.9,840.4L1920.8,841.7L1918.6,842.9L1916.5,844.2L1914.3,845.4L1912.2,846.6L1910.0,847.8L1907.8,849.0L1905.7,850.2L1903.5,851.5L1901.4,852.7L1899.3,853.9L1897.2,855.2L1895.1,856.5L1893.1,857.7L1891.0,859.1L1889.0,860.4L1887.1,861.7L1885.2,863.1L1883.3,864.6L1881.5,866.0L1879.7,867.5L1878.0,869.0L1876.3,870.6L1874.7,872.2L1873.2,873.9L1871.7,875.6L1870.3,877.3L1869.0,879.1L1867.7,880.9L1866.5,882.8L1865.3,884.7L1864.2,886.7L1863.1,888.7L1862.1,890.7L1861.1,892.8L1860.1,894.8L1859.1,896.9L1858.2,899.0L1857.3,901.2L1856.5,903.3L1855.6,905.5L1854.7,907.7L1853.9,909.9L1853.0,912.0L1852.2,914.2L1851.3,916.4L1850.5,918.6L1849.7,920.8L1848.8,923.0L1848.0,925.3L1847.2,927.5L1846.3,929.7L1845.5,931.9L1844.7,934.2L1843.9,936.4L1843.1,938.6L1842.3,940.9L1841.6,943.1L1840.8,945.4L1840.0,947.6L1839.3,949.9L1838.6,952.1L1837.9,954.4L1837.1,956.7L1836.5,958.9L1835.8,961.2L1835.1,963.5L1834.5,965.8L1833.8,968.0L1833.2,970.3L1832.6,972.6L1832.1,974.9L1831.5,977.2L1831.0,979.5L1830.4,981.8L1829.9,984.1L1829.5,986.4L1829.0,988.7L1828.6,991.0L1828.2,993.3L1827.8,995.6L1827.4,997.9L1824.2,997.9Z"/>
<path stroke="#0077BB" d="M2189.6,246.9L2185.1,246.9L2185.1,249.1L2185.0,251.3L2185.0,253.4L2184.9,255.6L2184.9,257.8L2184.9,260.0L2184.8,262.2L2184.8,264.4L2184.8,266.6L2184.8,268.8L2184.8,271.0L2184.8,273.2L2184.7,275.4L2184.7,277.6L2184.7,279.8L2184.7,282.0L2184.7,284.2L2184.7,286.4L2184.7,288.6L2184.6,290.8L2184.6,293.0L2184.6,295.2L2184.6,297.4L2184.6,299.6L2184.6,301.8L2184.5,304.0L2184.5,306.2L2184.5,308.4L2184.5,310.6L2184.4,312.8L2184.4,315.1L2184.3,317.3L2184.3,319.5L2184.2,321.7L2184.2,323.9L2184.1,326.1L2184.1,328.3L2184.0,330.5L2183.9,332.7L2183.8,334.9L2183.7,337.1L2183.6,339.3L2183.5,341.5L2183.4,343.7L2183.3,345.9L2183.2,348.1L2183.0,350.3L2182.9,352.5L2182.8,354.7L2182.6,356.9L2182.4,359.1L2182.3,361.2L2182.1,363.4L2181.9,365.6L2181.7,367.8L2181.4,370.0L2181.2,372.2L2181.0,374.3L2180.7,376.5L2180.5,378.7L2180.2,380.9L2179.9,383.0L2179.6,385.2L2179.3,387.4L2179.0,389.5L2178.6,391.7L2178.3,393.8L2177.9,396.0L2177.5,398.1L2177.2,400.3L2176.7,402.4L2176.3,404.6L2175.9,406.7L2175.4,408.8L2175.0,411.0L2174.5,413.1L2174.0,415.2L2173.5,417.3L2172.9,419.4L2172.4,421.6L2171.8,423.7L2171.2,425.8L2170.6,427.9L2170.0,430.0L2169.4,432.1L2168.7,434.2L2168.1,436.3L2167.4,438.3L2166.7,440.4L2166.0,442.5L2165.3,444.6L2164.6,446.7L2163.9,448.7L2163.2,450.8L2162.5,452.9L2161.7,455.0L2161.0,457.0L2160.3,459.1L2159.6,461.2L2158.8,463.3L2158.1,465.3L2157.4,467.4L2156.7,469.5L2156.0,471.6L2155.3,473.7L2154.6,475.7L2153.9,477.8L2153.2,479.9L2152.6,482.0L2151.9,484.1L2151.3,486.2L2150.7,488.3L2150.0,490.4L2149.5,492.5L2148.9,494.6L2148.4,496.7L2147.8,498.9L2147.3,501.0L2146.8,503.1L2146.4,505.3L2146.0,507.4L2145.6,509.6L2145.2,511.7L2144.8,513.9L2144.5,516.0L2144.2,518.2L2144.0,520.4L2143.8,522.6L2143.6,524.8L2143.4,527.0L2143.3,529.2L2143.1,531.4L2143.1,533.6L2143.0,535.9L2142.9,538.1L2142.9,540.3L2142.9,542.5L2142.9,544.8L2142.9,547.0L2143.0,549.3L2143.1,551.5L2143.1,553.8L2143.2,556.0L2143.3,558.3L2143.4,560.5L2143.5,562.8L2143.7,565.0L2143.8,567.3L2143.9,569.5L2144.1,571.8L2144.2,574.0L2144.3,576.3L2144.5,578.5L2144.6,580.8L2144.8,583.0L2144.9,585.3L2145.0,587.5L2145.2,589.7L2145.3,592.0L2145.4,594.2L2145.5,596.4L2145.6,598.6L2145.7,600.9L2145.7,603.1L2145.8,605.3L2145.8,607.5L2145.9,609.6L2145.9,611.8L2145.8,614.0L2145.8,616.2L2145.8,618.3L2145.7,620.5L2145.6,622.6L2145.5,624.8L2145.3,626.9L2145.1,629.0L2144.9,631.1L2144.7,633.2L2144.4,635.3L2144.1,637.3L2143.8,639.4L2143.5,641.5L2143.1,643.5L2142.6,645.5L2142.2,647.5L2141.6,649.5L2141.1,651.5L2140.5,653.5L2139.9,655.5L2139.2,657.4L2138.5,659.3L2137.7,661.3L2136.9,663.2L2136.0,665.0L2135.1,666.9L2134.2,668.8L2133.2,670.6L2132.1,672.4L2131.0,674.2L2129.8,676.0L2128.6,677.8L2127.3,679.5L2126.0,681.3L2124.7,683.0L2123.3,684.7L2121.9,686.5L2120.5,688.1L2119.0,689.8L2117.5,691.5L2115.9,693.2L2114.4,694.8L2112.8,696.5L2111.2,698.1L2109.5,699.8L2107.9,701.4L2106.2,703.0L2104.5,704.7L2102.8,706.3L2101.1,707.9L2099.4,709.5L2097.7,711.1L2095.9,712.7L2094.2,714.4L2092.5,716.0L2090.7,717.6L2089.0,719.2L2087.3,720.8L2085.6,722.4L2083.9,724.1L2082.2,725.7L2080.5,727.3L2078.8,729.0L2077.2,730.6L2075.6,732.2L2074.0,733.9L2072.4,735.6L2070.8,737.2L2069.3,738.9L2067.8,740.6L2066.3,742.3L2064.9,744.0L2063.5,745.8L2062.1,747.5L2060.8,749.3L2059.5,751.0L2058.3,752.8L2057.1,754.6L2055.9,756.4L2054.8,758.3L2053.8,760.1L2052.8,762.0L2051.8,763.8L2050.9,765.8L2050.1,767.7L2049.4,769.6L2048.7,771.6L2048.0,773.5L2047.4,775.5L2046.9,777.5L2046.4,779.6L2046.0,781.6L2045.6,783.6L2045.3,785.7L2045.0,787.7L2044.8,789.8L2044.7,791.9L2044.6,794.0L2044.5,796.1L2044.5,798.1L2044.6,800.2L2044.7,802.3L2044.8,804.4L2045.0,806.5L2045.2,808.6L2045.5,810.7L2045.9,812.8L2046.3,814.8L2046.7,816.9L2047.2,819.0L2047.7,821.0L2048.3,823.1L2048.9,825.1L2049.6,827.1L2050.3,829.2L2051.0,831.2L2051.8,833.1L2052.6,835.1L2053.5,837.0L2054.4,839.0L2055.3,840.9L2056.3,842.8L2057.4,844.7L2058.4,846.5L2059.5,848.3L2060.7,850.1L2061.8,851.9L2063.1,853.7L2064.3,855.5L2065.6,857.2L2066.9,858.9L2068.2,860.7L2069.6,862.4L2070.9,864.0L2072.4,865.7L2073.8,867.4L2075.3,869.0L2076.7,870.6L2078.2,872.3L2079.8,873.9L2081.3,875.5L2082.9,877.0L2084.5,878.6L2086.1,880.2L2087.7,881.8L2089.3,883.3L2091.0,884.9L2092.6,886.4L2094.3,887.9L2096.0,889.5L2097.7,891.0L2099.4,892.5L2101.1,894.0L2102.8,895.5L2104.5,897.1L2106.3,898.6L2108.0,900.1L2109.7,901.6L2111.5,903.1L2113.2,904.6L2114.9,906.1L2116.7,907.6L2118.4,909.1L2120.1,910.7L2121.9,912.2L2123.6,913.7L2125.3,915.2L2127.0,916.8L2128.7,918.3L2130.4,919.9L2132.0,921.4L2133.7,923.0L2135.3,924.5L2137.0,926.1L2138.6,927.7L2140.2,929.3L2141.8,930.9L2143.3,932.5L2144.9,934.2L2146.4,935.8L2147.9,937.4L2149.4,939.1L2150.9,940.8L2152.3,942.5L2153.8,944.2L2155.2,945.9L2156.6,947.6L2157.9,949.3L2159.3,951.1L2160.6,952.8L2161.8,954.6L2163.1,956.4L2164.3,958.2L2165.6,960.0L2166.7,961.8L2167.9,963.6L2169.0,965.4L2170.1,967.3L2171.2,969.2L2172.3,971.1L2173.3,972.9L2174.3,974.8L2175.2,976.8L2176.2,978.7L2177.1,980.6L2177.9,982.6L2178.8,984.6L2179.6,986.6L2180.3,988.6L2181.1,990.6L2181.8,992.6L2182.4,994.6L2183.1,996.7L2183.7,998.8L2184.2,1000.8L2184.8,1002.9L2185.2,1005.0L2185.7,1007.2L2186.1,1009.3L2186.5,1011.5L2186.8,1013.6L2187.1,1015.8L2187.4,1018.0L2187.6,1020.2L2187.8,1022.4L2187.9,1024.7L2188.1,1026.9L2188.1,1029.2L2188.1,1031.5L2188.1,1033.8L2189.6,1033.8Z"/>
<path stroke="#FF7F00" d="M2189.6,246.9L2194.6,246.9L2194.5,249.2L2194.5,251.4L2194.6,253.7L2194.7,255.9L2194.8,258.2L2194.9,260.4L2195.2,262.7L2195.4,264.9L2195.7,267.1L2196.0,269.4L2196.4,271.6L2196.8,273.8L2197.2,276.0L2197.7,278.2L2198.2,280.4L2198.8,282.6L2199.3,284.8L2199.9,287.0L2200.6,289.2L2201.2,291.4L2201.9,293.5L2202.6,295.7L2203.4,297.9L2204.1,300.0L2204.9,302.2L2205.7,304.3L2206.6,306.4L2207.4,308.6L2208.3,310.7L2209.2,312.8L2210.1,314.9L2211.0,317.0L2211.9,319.1L2212.9,321.2L2213.8,323.2L2214.8,325.3L2215.8,327.4L2216.8,329.4L2217.8,331.5L2218.8,333.5L2219.8,335.5L2220.8,337.5L2221.8,339.6L2222.9,341.6L2223.9,343.5L2224.9,345.5L2225.9,347.5L2227.0,349.5L2228.0,351.4L2229.0,353.4L2230.0,355.3L2231.1,357.2L2232.1,359.1L2233.1,361.0L2234.2,362.9L2235.2,364.8L2236.3,366.7L2237.3,368.6L2238.4,370.4L2239.5,372.3L2240.6,374.1L2241.7,375.9L2242.9,377.7L2244.1,379.5L2245.3,381.3L2246.5,383.1L2247.7,384.8L2249.0,386.6L2250.3,388.3L2251.7,390.0L2253.1,391.8L2254.5,393.5L2256.0,395.1L2257.5,396.8L2259.0,398.5L2260.6,400.1L2262.2,401.8L2263.8,403.4L2265.4,405.0L2267.1,406.7L2268.8,408.3L2270.5,409.9L2272.3,411.5L2274.0,413.1L2275.8,414.7L2277.6,416.2L2279.4,417.8L2281.2,419.4L2283.0,421.0L2284.8,422.6L2286.6,424.2L2288.4,425.7L2290.2,427.3L2292.0,428.9L2293.8,430.5L2295.6,432.1L2297.4,433.7L2299.1,435.3L2300.9,436.9L2302.6,438.5L2304.3,440.1L2306.0,441.7L2307.6,443.4L2309.3,445.0L2310.9,446.7L2312.4,448.3L2314.0,450.0L2315.5,451.7L2316.9,453.4L2318.4,455.1L2319.7,456.9L2321.1,458.6L2322.4,460.4L2323.6,462.1L2324.8,463.9L2325.9,465.8L2327.0,467.6L2328.1,469.4L2329.0,471.3L2329.9,473.2L2330.8,475.1L2331.6,477.0L2332.3,479.0L2332.9,481.0L2333.5,483.0L2334.0,485.0L2334.5,487.0L2334.9,489.0L2335.2,491.1L2335.5,493.2L2335.7,495.2L2335.9,497.3L2336.0,499.4L2336.0,501.5L2336.0,503.7L2335.9,505.8L2335.8,507.9L2335.6,510.0L2335.3,512.2L2335.0,514.3L2334.7,516.4L2334.2,518.5L2333.8,520.7L2333.2,522.8L2332.7,524.9L2332.0,527.0L2331.3,529.1L2330.6,531.2L2329.8,533.3L2329.0,535.4L2328.1,537.4L2327.1,539.5L2326.2,541.5L2325.1,543.6L2324.0,545.6L2322.9,547.5L2321.7,549.5L2320.5,551.5L2319.2,553.4L2317.9,555.3L2316.6,557.2L2315.1,559.0L2313.7,560.9L2312.2,562.7L2310.7,564.4L2309.1,566.2L2307.5,567.9L2305.8,569.6L2304.1,571.2L2302.4,572.9L2300.7,574.5L2298.9,576.1L2297.1,577.7L2295.3,579.2L2293.5,580.8L2291.7,582.4L2289.9,583.9L2288.1,585.5L2286.3,587.0L2284.5,588.6L2282.8,590.1L2281.0,591.7L2279.3,593.3L2277.6,594.9L2275.9,596.5L2274.3,598.1L2272.7,599.7L2271.2,601.4L2269.7,603.1L2268.3,604.8L2266.9,606.5L2265.5,608.3L2264.3,610.1L2263.0,611.9L2261.9,613.7L2260.8,615.6L2259.8,617.4L2258.8,619.3L2257.9,621.2L2257.1,623.2L2256.4,625.1L2255.8,627.1L2255.2,629.1L2254.7,631.1L2254.3,633.1L2254.0,635.2L2253.8,637.2L2253.6,639.3L2253.6,641.4L2253.6,643.4L2253.6,645.5L2253.8,647.6L2254.0,649.8L2254.3,651.9L2254.7,654.0L2255.1,656.1L2255.6,658.2L2256.1,660.3L2256.7,662.4L2257.4,664.5L2258.1,666.6L2258.9,668.7L2259.7,670.8L2260.6,672.9L2261.6,674.9L2262.5,676.9L2263.6,679.0L2264.6,681.0L2265.8,683.0L2266.9,684.9L2268.1,686.9L2269.4,688.8L2270.6,690.7L2271.9,692.6L2273.3,694.5L2274.6,696.3L2276.0,698.2L2277.4,700.0L2278.8,701.9L2280.2,703.7L2281.7,705.5L2283.1,707.4L2284.6,709.2L2286.0,711.0L2287.5,712.9L2288.9,714.7L2290.4,716.6L2291.9,718.4L2293.3,720.3L2294.7,722.2L2296.1,724.1L2297.5,726.0L2298.9,727.9L2300.2,729.8L2301.6,731.8L2302.9,733.8L2304.1,735.8L2305.4,737.8L2306.6,739.8L2307.8,741.9L2308.9,743.9L2310.0,746.0L2311.1,748.1L2312.1,750.2L2313.1,752.3L2314.1,754.4L2315.0,756.5L2315.8,758.6L2316.6,760.8L2317.4,762.9L2318.1,765.0L2318.8,767.2L2319.4,769.3L2320.0,771.5L2320.5,773.6L2321.0,775.7L2321.4,777.9L2321.8,780.0L2322.0,782.1L2322.3,784.2L2322.4,786.3L2322.5,788.4L2322.6,790.5L2322.6,792.6L2322.5,794.7L2322.3,796.7L2322.1,798.7L2321.8,800.8L2321.4,802.8L2320.9,804.8L2320.4,806.7L2319.8,808.7L2319.1,810.6L2318.4,812.5L2317.5,814.4L2316.6,816.3L2315.6,818.1L2314.6,819.9L2313.5,821.7L2312.3,823.5L2311.1,825.3L2309.8,827.1L2308.5,828.8L2307.1,830.5L2305.7,832.2L2304.2,833.9L2302.7,835.6L2301.1,837.3L2299.5,838.9L2297.9,840.6L2296.3,842.2L2294.6,843.8L2292.9,845.4L2291.1,847.0L2289.4,848.6L2287.6,850.2L2285.8,851.8L2284.0,853.3L2282.2,854.9L2280.4,856.4L2278.6,857.9L2276.8,859.5L2275.0,861.0L2273.2,862.5L2271.3,864.0L2269.6,865.5L2267.8,867.0L2266.0,868.5L2264.2,870.0L2262.5,871.5L2260.7,873.0L2259.0,874.5L2257.3,876.0L2255.6,877.5L2253.9,879.0L2252.2,880.5L2250.5,882.0L2248.9,883.5L2247.3,885.1L2245.7,886.6L2244.1,888.2L2242.5,889.7L2240.9,891.3L2239.4,892.9L2237.9,894.5L2236.4,896.1L2234.9,897.8L2233.4,899.4L2232.0,901.1L2230.6,902.8L2229.2,904.5L2227.8,906.2L2226.5,908.0L2225.2,909.8L2223.9,911.6L2222.6,913.4L2221.4,915.3L2220.1,917.1L2218.9,919.0L2217.8,920.9L2216.6,922.8L2215.5,924.8L2214.4,926.7L2213.3,928.7L2212.3,930.7L2211.2,932.7L2210.2,934.7L2209.3,936.7L2208.3,938.8L2207.4,940.8L2206.5,942.9L2205.6,945.0L2204.8,947.1L2204.0,949.2L2203.2,951.3L2202.4,953.4L2201.7,955.6L2201.0,957.7L2200.3,959.9L2199.6,962.0L2199.0,964.2L2198.4,966.4L2197.8,968.6L2197.3,970.8L2196.8,973.0L2196.3,975.2L2195.8,977.4L2195.4,979.6L2195.0,981.9L2194.6,984.1L2194.3,986.3L2194.0,988.5L2193.7,990.8L2193.4,993.0L2193.2,995.2L2193.0,997.5L2192.8,999.7L2192.7,1002.0L2192.6,1004.2L2189.6,1004.2Z"/>
</g>
<rect x="182.1" y="254.9" width="2191.7" height="805.8" fill="none" stroke="#000" stroke-width="3.6" stroke-linejoin="miter"/>
<path d="M362.6,1060.7v16.4M728.0,1060.7v16.4M1093.4,1060.7v16.4M1458.8,1060.7v16.4M1824.2,1060.7v16.4M2189.6,1060.7v16.4M182.1,1060.7h-16.4M182.1,926.4h-16.4M182.1,792.1h-16.4M182.1,657.8h-16.4M182.1,523.5h-16.4M182.1,389.2h-16.4M182.1,254.9h-16.4" stroke="#000" stroke-width="3.6" fill="none"/>
<g font-size="69.4">
<text x="362.6" y="1139.4" text-anchor="middle">1</text>
<text x="728.0" y="1139.4" text-anchor="middle">2</text>
<text x="1093.4" y="1139.4" text-anchor="middle">3</text>
<text x="1458.8" y="1139.4" text-anchor="middle">4</text>
<text x="1824.2" y="1139.4" text-anchor="middle">5</text>
<text x="2189.6" y="1139.4" text-anchor="middle">6</text>
<text x="154.0" y="1086.1" text-anchor="end">0</text>
<text x="154.0" y="951.8" text-anchor="end">1</text>
<text x="154.0" y="817.5" text-anchor="end">2</text>
<text x="154.0" y="683.2" text-anchor="end">3</text>
<text x="154.0" y="548.9" text-anchor="end">4</text>
<text x="154.0" y="414.6" text-anchor="end">5</text>
<text x="154.0" y="280.3" text-anchor="end">6</text>
<text transform="translate(77.5,662.0) rotate(-90)" text-anchor="middle">Coordination number Cl</text>
<text x="1184.0" y="1226.5"><tspan font-family='"DejaVu Sans", "Liberation Sans", sans-serif' font-style="italic" font-size="69.4">t</tspan><tspan font-family='"DejaVu Sans", "Liberation Sans", sans-serif' font-style="italic" font-size="48.58" dy="11.0">c</tspan><tspan dy="-11.0"> / ps</tspan></text>
<rect x="681.8" y="184.8" width="136.6" height="46.9" fill="none" stroke="#0077BB" stroke-width="6.6"/>
<text x="873.5" y="233.0">Classical MD</text>
<rect x="1416.4" y="184.8" width="137.5" height="46.9" fill="none" stroke="#FF7F00" stroke-width="6.6"/>
<text x="1609.0" y="233.0">RPMD</text>
</g>
<g font-size="82.5">
<text x="71.4" y="95.0">(a)</text>
<text y="95.0"><tspan x="1066.5">HCl</tspan><tspan x="1201.5"> + </tspan><tspan x="1289.6">(H</tspan><tspan x="1375.0" dy="15.7" font-size="54.45">2</tspan><tspan x="1406.7" dy="-15.7">O)</tspan><tspan x="1494.3" dy="15.7" font-size="54.45">49</tspan></text>
</g>
<g clip-path="url(#clipb)" fill="none" stroke-width="6.6" stroke-linejoin="miter" stroke-miterlimit="4">
<path stroke="#0077BB" d="M362.6,1988.1L360.6,1988.1L360.3,1989.3L360.0,1990.5L359.7,1991.8L359.5,1993.0L359.2,1994.2L358.9,1995.5L358.6,1996.7L358.3,1998.0L358.0,1999.2L357.7,2000.5L357.5,2001.7L357.2,2003.0L356.9,2004.2L356.6,2005.5L356.3,2006.7L356.0,2008.0L355.7,2009.3L355.4,2010.5L355.1,2011.8L354.8,2013.1L354.5,2014.3L354.2,2015.6L353.9,2016.8L353.6,2018.1L353.3,2019.4L353.0,2020.6L352.7,2021.9L352.4,2023.2L352.0,2024.4L351.7,2025.7L351.4,2026.9L351.1,2028.2L350.7,2029.5L350.4,2030.7L350.0,2032.0L349.7,2033.2L349.3,2034.4L349.0,2035.7L348.6,2036.9L348.2,2038.2L347.8,2039.4L347.4,2040.6L347.1,2041.9L346.7,2043.1L346.3,2044.3L345.9,2045.5L345.4,2046.7L345.0,2047.9L344.6,2049.1L344.1,2050.3L343.7,2051.5L343.3,2052.7L342.8,2053.9L342.3,2055.0L341.9,2056.2L341.4,2057.4L340.9,2058.5L340.4,2059.7L339.9,2060.8L339.4,2062.0L338.8,2063.1L338.3,2064.2L337.8,2065.3L337.2,2066.4L336.6,2067.5L336.1,2068.6L335.5,2069.7L334.9,2070.8L334.3,2071.8L333.7,2072.9L333.1,2073.9L332.4,2075.0L331.8,2076.0L331.1,2077.0L330.4,2078.0L329.8,2079.0L329.1,2080.0L328.4,2081.0L327.7,2082.0L326.9,2082.9L326.2,2083.9L325.4,2084.8L324.7,2085.7L323.9,2086.7L323.1,2087.6L322.3,2088.5L321.5,2089.3L320.7,2090.2L319.8,2091.1L319.0,2091.9L318.1,2092.8L317.2,2093.6L316.4,2094.4L315.5,2095.3L314.6,2096.1L313.7,2096.9L312.8,2097.7L311.8,2098.4L310.9,2099.2L309.9,2100.0L309.0,2100.7L308.0,2101.5L307.1,2102.2L306.1,2103.0L305.1,2103.7L304.1,2104.5L303.2,2105.2L302.2,2105.9L301.2,2106.6L300.1,2107.3L299.1,2108.0L298.1,2108.7L297.1,2109.4L296.1,2110.1L295.0,2110.8L294.0,2111.5L292.9,2112.1L291.9,2112.8L290.8,2113.5L289.8,2114.2L288.7,2114.8L287.7,2115.5L286.6,2116.2L285.5,2116.9L284.5,2117.5L283.4,2118.2L282.3,2118.9L281.2,2119.6L280.1,2120.2L279.1,2120.9L278.0,2121.6L276.9,2122.3L275.8,2123.0L274.7,2123.6L273.6,2124.3L272.5,2125.0L271.4,2125.7L270.4,2126.4L269.3,2127.1L268.2,2127.8L267.1,2128.6L266.0,2129.3L264.9,2130.0L263.9,2130.7L262.8,2131.5L261.7,2132.2L260.7,2132.9L259.6,2133.7L258.5,2134.4L257.5,2135.2L256.4,2136.0L255.4,2136.8L254.4,2137.5L253.4,2138.3L252.3,2139.1L251.3,2139.9L250.3,2140.8L249.3,2141.6L248.3,2142.4L247.3,2143.3L246.4,2144.1L245.4,2145.0L244.5,2145.9L243.5,2146.7L242.6,2147.6L241.7,2148.5L240.7,2149.5L239.8,2150.4L239.0,2151.3L238.1,2152.3L237.2,2153.2L236.4,2154.2L235.5,2155.2L234.7,2156.2L233.9,2157.2L233.1,2158.2L232.3,2159.3L231.5,2160.3L230.8,2161.4L230.0,2162.5L229.3,2163.5L228.6,2164.6L227.9,2165.8L227.3,2166.9L226.6,2168.0L226.0,2169.2L225.3,2170.3L224.7,2171.5L224.1,2172.7L223.6,2173.8L223.0,2175.0L222.5,2176.2L222.0,2177.4L221.5,2178.6L221.0,2179.9L220.6,2181.1L220.2,2182.3L219.7,2183.5L219.4,2184.8L219.0,2186.0L218.6,2187.2L218.3,2188.5L218.0,2189.7L217.7,2191.0L217.5,2192.2L217.3,2193.5L217.1,2194.7L216.9,2196.0L216.7,2197.2L216.6,2198.4L216.5,2199.7L216.4,2200.9L216.3,2202.2L216.3,2203.4L216.3,2204.6L216.3,2205.8L216.4,2207.1L216.4,2208.3L216.5,2209.5L216.6,2210.7L216.8,2211.9L217.0,2213.0L217.2,2214.2L217.4,2215.4L217.7,2216.5L218.0,2217.7L218.3,2218.8L218.7,2220.0L219.1,2221.1L219.5,2222.2L219.9,2223.3L220.4,2224.4L220.9,2225.4L221.4,2226.5L222.0,2227.6L222.6,2228.6L223.2,2229.6L223.8,2230.7L224.4,2231.7L225.1,2232.7L225.8,2233.7L226.5,2234.7L227.3,2235.6L228.0,2236.6L228.8,2237.5L229.6,2238.5L230.4,2239.4L231.3,2240.3L232.1,2241.2L233.0,2242.1L233.9,2243.0L234.8,2243.9L235.7,2244.7L236.6,2245.6L237.6,2246.4L238.6,2247.3L239.5,2248.1L240.5,2248.9L241.5,2249.7L242.6,2250.5L243.6,2251.3L244.6,2252.0L245.7,2252.8L246.7,2253.6L247.8,2254.3L248.9,2255.0L249.9,2255.7L251.0,2256.4L252.1,2257.1L253.2,2257.8L254.3,2258.5L255.5,2259.2L256.6,2259.8L257.7,2260.5L258.8,2261.1L260.0,2261.8L261.1,2262.4L262.2,2263.1L263.4,2263.7L264.5,2264.3L265.7,2265.0L266.8,2265.6L268.0,2266.2L269.1,2266.9L270.3,2267.5L271.4,2268.1L272.6,2268.8L273.8,2269.4L274.9,2270.1L276.1,2270.7L277.2,2271.4L278.3,2272.1L279.5,2272.7L280.6,2273.4L281.8,2274.1L282.9,2274.7L284.0,2275.4L285.2,2276.1L286.3,2276.8L287.4,2277.5L288.6,2278.2L289.7,2278.9L290.8,2279.7L291.9,2280.4L293.0,2281.1L294.1,2281.8L295.2,2282.6L296.3,2283.3L297.4,2284.1L298.5,2284.8L299.6,2285.6L300.7,2286.4L301.8,2287.1L302.8,2287.9L303.9,2288.7L304.9,2289.5L306.0,2290.3L307.1,2291.1L308.1,2291.9L309.1,2292.7L310.2,2293.5L311.2,2294.3L312.2,2295.1L313.2,2296.0L314.2,2296.8L315.2,2297.6L316.2,2298.5L317.2,2299.3L318.2,2300.2L319.2,2301.1L320.1,2301.9L321.1,2302.8L322.0,2303.7L323.0,2304.6L323.9,2305.5L324.8,2306.4L325.8,2307.3L326.7,2308.2L327.6,2309.1L328.5,2310.0L329.3,2311.0L330.2,2311.9L331.1,2312.8L331.9,2313.8L332.8,2314.8L333.6,2315.7L334.4,2316.7L335.3,2317.7L336.1,2318.6L336.9,2319.6L337.7,2320.6L338.4,2321.6L339.2,2322.6L340.0,2323.6L340.7,2324.6L341.4,2325.7L342.2,2326.7L342.9,2327.7L343.6,2328.8L344.3,2329.8L344.9,2330.9L345.6,2331.9L346.3,2333.0L346.9,2334.1L347.5,2335.2L348.1,2336.2L348.7,2337.3L349.3,2338.4L349.9,2339.5L350.5,2340.7L351.0,2341.8L351.6,2342.9L352.1,2344.0L352.6,2345.2L353.1,2346.3L353.6,2347.5L354.1,2348.7L354.5,2349.8L355.0,2351.0L355.4,2352.2L355.8,2353.4L356.2,2354.6L356.6,2355.8L357.0,2357.0L357.3,2358.2L357.6,2359.4L358.0,2360.7L358.3,2361.9L358.6,2363.1L358.8,2364.4L359.1,2365.7L359.4,2366.9L359.6,2368.2L359.8,2369.5L360.0,2370.8L360.2,2372.1L360.3,2373.4L360.5,2374.7L360.6,2376.0L362.6,2376.0Z"/>
<path stroke="#FF7F00" d="M362.6,1831.1L364.4,1831.1L364.6,1832.7L364.9,1834.4L365.1,1836.0L365.3,1837.6L365.5,1839.2L365.7,1840.9L365.8,1842.5L366.0,1844.1L366.2,1845.8L366.3,1847.4L366.5,1849.0L366.6,1850.7L366.7,1852.3L366.8,1853.9L366.9,1855.6L367.0,1857.2L367.1,1858.9L367.2,1860.5L367.3,1862.1L367.3,1863.8L367.4,1865.4L367.5,1867.1L367.5,1868.7L367.6,1870.4L367.6,1872.0L367.7,1873.6L367.7,1875.3L367.8,1876.9L367.8,1878.6L367.8,1880.2L367.9,1881.9L367.9,1883.5L367.9,1885.2L368.0,1886.8L368.0,1888.4L368.0,1890.1L368.1,1891.7L368.1,1893.4L368.1,1895.0L368.2,1896.7L368.2,1898.3L368.2,1900.0L368.3,1901.6L368.3,1903.2L368.4,1904.9L368.4,1906.5L368.5,1908.2L368.5,1909.8L368.6,1911.5L368.7,1913.1L368.7,1914.7L368.8,1916.4L368.9,1918.0L369.0,1919.6L369.1,1921.3L369.2,1922.9L369.3,1924.6L369.4,1926.2L369.6,1927.8L369.7,1929.5L369.9,1931.1L370.0,1932.7L370.2,1934.3L370.4,1936.0L370.5,1937.6L370.7,1939.2L371.0,1940.8L371.2,1942.5L371.4,1944.1L371.7,1945.7L371.9,1947.3L372.2,1948.9L372.5,1950.6L372.8,1952.2L373.1,1953.8L373.4,1955.4L373.7,1957.0L374.0,1958.6L374.3,1960.2L374.6,1961.8L374.9,1963.5L375.2,1965.1L375.4,1966.7L375.6,1968.3L375.8,1969.9L376.0,1971.5L376.1,1973.2L376.2,1974.8L376.3,1976.4L376.3,1978.0L376.3,1979.7L376.2,1981.3L376.1,1982.9L376.0,1984.6L375.8,1986.2L375.6,1987.9L375.4,1989.5L375.2,1991.1L375.0,1992.8L374.8,1994.4L374.6,1996.1L374.5,1997.7L374.3,1999.4L374.1,2001.0L374.0,2002.6L373.9,2004.3L373.9,2005.9L373.8,2007.5L373.9,2009.2L373.9,2010.8L374.0,2012.4L374.1,2014.0L374.2,2015.7L374.4,2017.3L374.6,2018.9L374.8,2020.5L375.0,2022.1L375.3,2023.7L375.5,2025.3L375.8,2026.9L376.1,2028.6L376.4,2030.2L376.8,2031.8L377.1,2033.4L377.4,2035.0L377.8,2036.6L378.1,2038.1L378.5,2039.7L378.8,2041.3L379.2,2042.9L379.5,2044.5L379.9,2046.1L380.3,2047.7L380.6,2049.3L381.0,2050.9L381.4,2052.5L381.7,2054.1L382.1,2055.7L382.5,2057.3L382.9,2058.9L383.2,2060.5L383.6,2062.1L384.0,2063.7L384.3,2065.4L384.7,2067.0L385.1,2068.6L385.5,2070.2L385.9,2071.8L386.3,2073.5L386.7,2075.1L387.1,2076.7L387.6,2078.2L388.0,2079.8L388.5,2081.4L389.1,2082.9L389.6,2084.4L390.2,2085.9L390.8,2087.4L391.5,2088.8L392.2,2090.2L393.0,2091.6L393.8,2092.9L394.6,2094.2L395.5,2095.5L396.5,2096.8L397.5,2098.0L398.5,2099.1L399.6,2100.3L400.7,2101.4L401.9,2102.5L403.1,2103.5L404.3,2104.6L405.5,2105.6L406.8,2106.6L408.1,2107.5L409.4,2108.5L410.8,2109.4L412.2,2110.3L413.5,2111.2L414.9,2112.1L416.3,2113.0L417.7,2113.8L419.1,2114.7L420.6,2115.6L422.0,2116.4L423.4,2117.3L424.8,2118.1L426.2,2118.9L427.6,2119.8L429.0,2120.6L430.3,2121.5L431.7,2122.3L433.1,2123.2L434.4,2124.0L435.8,2124.9L437.1,2125.7L438.5,2126.6L439.8,2127.4L441.1,2128.3L442.4,2129.2L443.7,2130.0L445.1,2130.9L446.4,2131.8L447.7,2132.7L449.0,2133.6L450.2,2134.5L451.5,2135.4L452.8,2136.3L454.1,2137.2L455.3,2138.1L456.6,2139.1L457.9,2140.0L459.1,2141.0L460.4,2142.0L461.6,2142.9L462.9,2143.9L464.1,2144.9L465.3,2146.0L466.6,2147.0L467.8,2148.0L469.0,2149.1L470.2,2150.1L471.4,2151.2L472.6,2152.3L473.9,2153.4L475.1,2154.6L476.3,2155.7L477.4,2156.9L478.6,2158.0L479.8,2159.2L481.0,2160.4L482.2,2161.7L483.4,2162.9L484.6,2164.2L485.7,2165.4L486.9,2166.7L488.1,2168.1L489.2,2169.4L490.4,2170.8L491.6,2172.1L492.7,2173.5L493.9,2175.0L495.0,2176.4L496.1,2177.8L497.2,2179.3L498.2,2180.7L499.2,2182.2L500.2,2183.7L501.1,2185.2L501.9,2186.7L502.7,2188.1L503.5,2189.6L504.2,2191.1L504.8,2192.6L505.3,2194.0L505.8,2195.5L506.2,2196.9L506.5,2198.4L506.7,2199.8L506.8,2201.2L506.8,2202.6L506.7,2203.9L506.5,2205.3L506.2,2206.6L505.8,2207.9L505.3,2209.2L504.7,2210.4L504.0,2211.7L503.3,2212.9L502.5,2214.1L501.6,2215.3L500.6,2216.5L499.6,2217.7L498.5,2218.8L497.4,2220.0L496.2,2221.1L495.0,2222.3L493.8,2223.4L492.6,2224.5L491.3,2225.6L490.0,2226.7L488.7,2227.8L487.4,2228.9L486.1,2230.0L484.8,2231.1L483.5,2232.2L482.2,2233.3L480.9,2234.3L479.6,2235.4L478.3,2236.5L477.0,2237.6L475.7,2238.7L474.5,2239.7L473.2,2240.8L472.0,2241.9L470.7,2243.0L469.5,2244.0L468.2,2245.1L467.0,2246.2L465.7,2247.2L464.5,2248.3L463.2,2249.4L462.0,2250.4L460.8,2251.5L459.6,2252.6L458.3,2253.6L457.1,2254.7L455.9,2255.7L454.7,2256.8L453.4,2257.9L452.2,2258.9L451.0,2260.0L449.8,2261.0L448.5,2262.1L447.3,2263.1L446.1,2264.2L444.9,2265.2L443.7,2266.3L442.4,2267.3L441.2,2268.4L440.0,2269.5L438.8,2270.5L437.5,2271.6L436.3,2272.6L435.1,2273.7L433.9,2274.7L432.6,2275.8L431.4,2276.8L430.1,2277.9L428.9,2278.9L427.7,2280.0L426.4,2281.0L425.1,2282.1L423.9,2283.1L422.6,2284.2L421.4,2285.2L420.1,2286.3L418.8,2287.3L417.5,2288.4L416.2,2289.4L415.0,2290.5L413.7,2291.5L412.4,2292.6L411.1,2293.6L409.8,2294.7L408.5,2295.8L407.2,2296.8L405.9,2297.9L404.6,2299.0L403.3,2300.0L402.0,2301.1L400.7,2302.2L399.4,2303.3L398.2,2304.4L396.9,2305.5L395.7,2306.6L394.4,2307.7L393.2,2308.9L392.0,2310.0L390.8,2311.1L389.6,2312.3L388.4,2313.5L387.3,2314.6L386.1,2315.8L385.0,2317.0L383.9,2318.2L382.8,2319.4L381.8,2320.6L380.7,2321.9L379.7,2323.1L378.7,2324.4L377.8,2325.7L376.8,2327.0L375.9,2328.3L375.0,2329.6L374.2,2330.9L373.3,2332.3L372.5,2333.6L371.8,2335.0L371.1,2336.4L370.4,2337.8L369.7,2339.3L369.1,2340.7L368.5,2342.2L367.9,2343.7L367.4,2345.2L366.9,2346.7L366.5,2348.2L366.1,2349.8L365.7,2351.4L365.4,2353.0L365.2,2354.6L364.9,2356.3L364.8,2358.0L364.6,2359.7L364.5,2361.4L364.5,2363.1L364.5,2364.9L364.6,2366.7L362.6,2366.7Z"/>
<path stroke="#0077BB" d="M728.0,1843.7L726.0,1843.7L726.0,1845.4L726.1,1847.0L726.1,1848.7L726.0,1850.3L726.0,1852.0L725.9,1853.6L725.9,1855.3L725.8,1856.9L725.7,1858.5L725.5,1860.2L725.4,1861.8L725.3,1863.4L725.1,1865.1L724.9,1866.7L724.7,1868.3L724.5,1870.0L724.3,1871.6L724.1,1873.2L723.9,1874.8L723.6,1876.5L723.4,1878.1L723.1,1879.7L722.9,1881.3L722.6,1882.9L722.3,1884.6L722.0,1886.2L721.8,1887.8L721.5,1889.4L721.2,1891.0L720.9,1892.7L720.6,1894.3L720.3,1895.9L720.0,1897.5L719.7,1899.1L719.4,1900.7L719.1,1902.4L718.8,1904.0L718.5,1905.6L718.2,1907.2L717.9,1908.8L717.7,1910.4L717.4,1912.1L717.1,1913.7L716.9,1915.3L716.6,1916.9L716.3,1918.6L716.1,1920.2L715.9,1921.8L715.6,1923.4L715.4,1925.1L715.2,1926.7L714.9,1928.3L714.7,1930.0L714.5,1931.6L714.3,1933.2L714.1,1934.8L713.9,1936.5L713.7,1938.1L713.4,1939.7L713.2,1941.4L713.0,1943.0L712.8,1944.6L712.6,1946.2L712.4,1947.9L712.2,1949.5L712.0,1951.1L711.7,1952.7L711.5,1954.3L711.3,1956.0L711.1,1957.6L710.8,1959.2L710.6,1960.8L710.3,1962.4L710.1,1964.0L709.8,1965.6L709.6,1967.2L709.3,1968.8L709.0,1970.4L708.8,1972.0L708.5,1973.6L708.2,1975.2L707.9,1976.8L707.6,1978.4L707.3,1980.0L707.0,1981.6L706.7,1983.2L706.3,1984.8L706.0,1986.4L705.7,1987.9L705.3,1989.5L705.0,1991.1L704.6,1992.7L704.3,1994.3L703.9,1995.9L703.5,1997.5L703.2,1999.0L702.8,2000.6L702.4,2002.2L702.0,2003.8L701.6,2005.4L701.2,2007.0L700.8,2008.6L700.4,2010.1L700.0,2011.7L699.5,2013.3L699.1,2014.9L698.7,2016.5L698.2,2018.1L697.8,2019.7L697.3,2021.3L696.9,2022.9L696.4,2024.5L695.9,2026.1L695.4,2027.7L695.0,2029.3L694.5,2030.9L694.0,2032.5L693.5,2034.1L693.0,2035.7L692.5,2037.3L691.9,2038.9L691.4,2040.5L690.9,2042.1L690.3,2043.7L689.8,2045.2L689.2,2046.8L688.7,2048.4L688.1,2050.0L687.5,2051.5L686.9,2053.1L686.3,2054.7L685.7,2056.2L685.1,2057.8L684.5,2059.3L683.9,2060.8L683.2,2062.3L682.6,2063.9L681.9,2065.4L681.3,2066.8L680.6,2068.3L679.9,2069.8L679.2,2071.3L678.5,2072.7L677.8,2074.2L677.1,2075.6L676.3,2077.0L675.6,2078.4L674.8,2079.8L674.1,2081.2L673.3,2082.6L672.5,2084.0L671.7,2085.3L670.9,2086.7L670.1,2088.0L669.3,2089.4L668.4,2090.7L667.6,2092.0L666.7,2093.3L665.9,2094.6L665.0,2095.9L664.1,2097.2L663.2,2098.5L662.3,2099.8L661.4,2101.1L660.4,2102.3L659.5,2103.6L658.6,2104.8L657.6,2106.1L656.6,2107.3L655.6,2108.6L654.7,2109.8L653.7,2111.1L652.6,2112.3L651.6,2113.5L650.6,2114.7L649.5,2116.0L648.5,2117.2L647.4,2118.4L646.4,2119.6L645.3,2120.8L644.2,2122.0L643.1,2123.3L642.0,2124.5L640.8,2125.7L639.7,2126.9L638.5,2128.1L637.4,2129.3L636.2,2130.5L635.0,2131.7L633.8,2132.9L632.6,2134.2L631.4,2135.4L630.2,2136.6L629.0,2137.8L627.7,2139.0L626.5,2140.2L625.2,2141.5L623.9,2142.7L622.7,2143.9L621.4,2145.2L620.1,2146.4L618.8,2147.6L617.6,2148.9L616.3,2150.1L615.0,2151.4L613.7,2152.6L612.5,2153.9L611.2,2155.1L610.0,2156.4L608.8,2157.7L607.5,2158.9L606.3,2160.2L605.1,2161.5L604.0,2162.7L602.8,2164.0L601.6,2165.3L600.5,2166.6L599.4,2167.9L598.3,2169.2L597.3,2170.5L596.3,2171.8L595.3,2173.1L594.3,2174.4L593.3,2175.8L592.4,2177.1L591.6,2178.4L590.7,2179.7L589.9,2181.1L589.1,2182.4L588.4,2183.8L587.7,2185.1L587.0,2186.5L586.4,2187.9L585.9,2189.2L585.3,2190.6L584.8,2192.0L584.4,2193.4L584.0,2194.8L583.7,2196.2L583.4,2197.6L583.2,2199.0L583.0,2200.4L582.9,2201.8L582.8,2203.2L582.8,2204.7L582.9,2206.1L582.9,2207.5L583.1,2209.0L583.3,2210.4L583.5,2211.9L583.8,2213.3L584.1,2214.8L584.5,2216.2L584.9,2217.7L585.4,2219.1L585.9,2220.6L586.4,2222.0L587.0,2223.4L587.6,2224.9L588.3,2226.3L589.0,2227.7L589.7,2229.2L590.5,2230.6L591.3,2232.0L592.1,2233.4L593.0,2234.8L593.9,2236.2L594.8,2237.5L595.8,2238.9L596.8,2240.3L597.8,2241.6L598.9,2243.0L599.9,2244.3L601.0,2245.6L602.2,2246.9L603.3,2248.2L604.5,2249.5L605.6,2250.7L606.9,2252.0L608.1,2253.2L609.3,2254.4L610.6,2255.6L611.9,2256.8L613.1,2258.0L614.5,2259.1L615.8,2260.3L617.1,2261.4L618.4,2262.4L619.8,2263.5L621.2,2264.6L622.5,2265.6L623.9,2266.6L625.3,2267.6L626.7,2268.6L628.1,2269.6L629.5,2270.5L630.9,2271.5L632.4,2272.4L633.8,2273.3L635.2,2274.2L636.7,2275.1L638.1,2276.0L639.6,2276.9L641.0,2277.7L642.5,2278.6L643.9,2279.5L645.4,2280.3L646.8,2281.2L648.3,2282.0L649.7,2282.8L651.2,2283.7L652.6,2284.5L654.1,2285.4L655.5,2286.2L657.0,2287.0L658.4,2287.9L659.8,2288.7L661.2,2289.5L662.7,2290.4L664.1,2291.2L665.5,2292.1L666.9,2292.9L668.3,2293.8L669.6,2294.7L671.0,2295.5L672.4,2296.4L673.7,2297.3L675.1,2298.2L676.4,2299.1L677.7,2300.1L679.0,2301.0L680.3,2301.9L681.6,2302.9L682.8,2303.9L684.1,2304.9L685.3,2305.9L686.5,2306.9L687.7,2308.0L688.9,2309.0L690.1,2310.1L691.2,2311.2L692.3,2312.3L693.5,2313.5L694.5,2314.7L695.6,2315.8L696.7,2317.1L697.7,2318.3L698.7,2319.5L699.7,2320.8L700.7,2322.1L701.6,2323.4L702.6,2324.7L703.5,2326.0L704.4,2327.4L705.2,2328.7L706.1,2330.1L706.9,2331.5L707.8,2332.9L708.6,2334.4L709.3,2335.8L710.1,2337.3L710.9,2338.7L711.6,2340.2L712.3,2341.7L713.0,2343.2L713.7,2344.7L714.3,2346.2L714.9,2347.8L715.6,2349.3L716.2,2350.9L716.7,2352.4L717.3,2354.0L717.9,2355.6L718.4,2357.2L718.9,2358.7L719.4,2360.3L719.9,2361.9L720.3,2363.6L720.8,2365.2L721.2,2366.8L721.6,2368.4L722.0,2370.0L722.4,2371.6L722.7,2373.3L723.0,2374.9L723.4,2376.5L723.7,2378.2L724.0,2379.8L724.2,2381.4L724.5,2383.0L724.7,2384.7L724.9,2386.3L725.1,2387.9L725.3,2389.5L725.5,2391.2L725.6,2392.8L725.8,2394.4L725.9,2396.0L726.0,2397.6L728.0,2397.6Z"/>
<path stroke="#FF7F00" d="M728.0,1751.6L730.0,1751.6L729.9,1753.4L729.8,1755.3L729.8,1757.1L729.7,1759.0L729.7,1760.8L729.7,1762.6L729.7,1764.5L729.7,1766.3L729.7,1768.1L729.7,1770.0L729.8,1771.8L729.9,1773.6L729.9,1775.4L730.0,1777.3L730.1,1779.1L730.2,1780.9L730.4,1782.7L730.5,1784.5L730.6,1786.4L730.8,1788.2L730.9,1790.0L731.1,1791.8L731.3,1793.6L731.5,1795.5L731.7,1797.3L731.9,1799.1L732.1,1800.9L732.3,1802.7L732.5,1804.5L732.7,1806.3L733.0,1808.1L733.2,1809.9L733.5,1811.8L733.7,1813.6L734.0,1815.4L734.2,1817.2L734.5,1819.0L734.8,1820.8L735.1,1822.6L735.3,1824.4L735.6,1826.2L735.9,1828.0L736.2,1829.8L736.5,1831.6L736.8,1833.4L737.1,1835.2L737.4,1837.0L737.7,1838.8L737.9,1840.6L738.2,1842.4L738.5,1844.2L738.8,1846.0L739.1,1847.8L739.4,1849.6L739.7,1851.4L740.0,1853.2L740.3,1855.0L740.6,1856.8L740.8,1858.6L741.1,1860.4L741.4,1862.2L741.7,1864.1L741.9,1865.9L742.2,1867.7L742.5,1869.5L742.7,1871.3L743.0,1873.1L743.2,1874.9L743.4,1876.7L743.7,1878.5L743.9,1880.3L744.1,1882.1L744.3,1883.9L744.5,1885.7L744.7,1887.5L744.9,1889.3L745.1,1891.1L745.2,1892.9L745.4,1894.7L745.5,1896.6L745.7,1898.4L745.8,1900.2L745.9,1902.0L746.0,1903.8L746.1,1905.6L746.2,1907.4L746.3,1909.2L746.4,1911.1L746.5,1912.9L746.5,1914.7L746.6,1916.5L746.6,1918.3L746.7,1920.2L746.7,1922.0L746.7,1923.8L746.7,1925.6L746.7,1927.5L746.7,1929.3L746.7,1931.1L746.7,1932.9L746.7,1934.8L746.6,1936.6L746.6,1938.5L746.6,1940.3L746.5,1942.1L746.5,1944.0L746.4,1945.8L746.4,1947.6L746.4,1949.5L746.4,1951.3L746.4,1953.1L746.4,1954.9L746.4,1956.8L746.5,1958.6L746.6,1960.4L746.7,1962.2L746.9,1963.9L747.1,1965.7L747.3,1967.5L747.5,1969.2L747.9,1971.0L748.2,1972.7L748.6,1974.4L749.1,1976.1L749.6,1977.8L750.1,1979.5L750.7,1981.2L751.3,1982.9L752.0,1984.5L752.7,1986.2L753.4,1987.8L754.1,1989.5L754.9,1991.1L755.7,1992.7L756.5,1994.4L757.3,1996.0L758.2,1997.6L759.0,1999.2L759.9,2000.8L760.8,2002.4L761.7,2004.0L762.6,2005.6L763.5,2007.3L764.5,2008.9L765.4,2010.5L766.3,2012.1L767.2,2013.7L768.1,2015.3L769.0,2016.9L769.9,2018.6L770.7,2020.2L771.6,2021.8L772.4,2023.5L773.3,2025.1L774.1,2026.8L774.8,2028.5L775.6,2030.1L776.3,2031.8L777.0,2033.5L777.7,2035.2L778.3,2036.9L778.9,2038.7L779.4,2040.4L779.9,2042.2L780.4,2043.9L780.8,2045.7L781.2,2047.5L781.6,2049.3L781.9,2051.1L782.3,2052.9L782.6,2054.7L782.9,2056.5L783.2,2058.3L783.5,2060.1L783.8,2061.9L784.1,2063.7L784.4,2065.5L784.8,2067.2L785.2,2069.0L785.6,2070.7L786.0,2072.4L786.5,2074.1L787.1,2075.8L787.7,2077.4L788.3,2079.0L789.1,2080.6L789.8,2082.1L790.7,2083.6L791.6,2085.1L792.5,2086.6L793.5,2088.0L794.5,2089.4L795.6,2090.8L796.7,2092.2L797.9,2093.5L799.1,2094.9L800.3,2096.2L801.6,2097.5L802.9,2098.8L804.3,2100.0L805.7,2101.3L807.1,2102.5L808.5,2103.7L810.0,2104.9L811.5,2106.1L813.0,2107.3L814.5,2108.5L816.0,2109.7L817.6,2110.8L819.1,2112.0L820.7,2113.2L822.3,2114.3L823.9,2115.4L825.5,2116.6L827.1,2117.7L828.6,2118.9L830.2,2120.0L831.8,2121.2L833.4,2122.3L835.0,2123.5L836.6,2124.6L838.1,2125.8L839.7,2127.0L841.2,2128.1L842.7,2129.3L844.2,2130.5L845.7,2131.7L847.1,2132.9L848.5,2134.2L849.9,2135.4L851.3,2136.7L852.6,2138.0L853.9,2139.2L855.2,2140.6L856.4,2141.9L857.6,2143.2L858.8,2144.6L859.9,2146.0L860.9,2147.4L861.9,2148.8L862.9,2150.3L863.8,2151.8L864.7,2153.3L865.5,2154.8L866.3,2156.4L867.0,2157.9L867.6,2159.5L868.3,2161.1L868.8,2162.8L869.4,2164.4L869.9,2166.1L870.3,2167.8L870.7,2169.4L871.0,2171.1L871.3,2172.9L871.6,2174.6L871.8,2176.3L872.0,2178.1L872.1,2179.8L872.2,2181.6L872.2,2183.3L872.2,2185.1L872.2,2186.8L872.1,2188.6L872.0,2190.4L871.8,2192.2L871.6,2193.9L871.3,2195.7L871.1,2197.5L870.7,2199.2L870.4,2201.0L870.0,2202.7L869.5,2204.5L869.1,2206.2L868.6,2208.0L868.0,2209.7L867.4,2211.4L866.8,2213.1L866.2,2214.8L865.5,2216.5L864.8,2218.1L864.0,2219.7L863.3,2221.4L862.4,2223.0L861.6,2224.6L860.7,2226.1L859.8,2227.7L858.9,2229.2L857.9,2230.7L856.9,2232.2L855.8,2233.6L854.8,2235.1L853.7,2236.5L852.6,2237.9L851.4,2239.2L850.3,2240.6L849.1,2241.9L847.8,2243.2L846.6,2244.5L845.3,2245.8L844.1,2247.0L842.8,2248.2L841.4,2249.5L840.1,2250.7L838.7,2251.8L837.3,2253.0L835.9,2254.2L834.5,2255.3L833.1,2256.5L831.7,2257.6L830.2,2258.7L828.7,2259.8L827.3,2260.9L825.8,2262.0L824.3,2263.1L822.8,2264.1L821.2,2265.2L819.7,2266.3L818.2,2267.3L816.7,2268.4L815.1,2269.4L813.6,2270.5L812.0,2271.5L810.5,2272.6L808.9,2273.6L807.4,2274.7L805.8,2275.7L804.2,2276.8L802.7,2277.8L801.1,2278.9L799.6,2279.9L798.0,2281.0L796.5,2282.0L795.0,2283.1L793.4,2284.2L791.9,2285.3L790.4,2286.4L788.9,2287.5L787.4,2288.6L785.9,2289.7L784.5,2290.8L783.0,2292.0L781.6,2293.1L780.1,2294.3L778.7,2295.5L777.3,2296.7L775.9,2297.9L774.6,2299.1L773.2,2300.4L771.9,2301.7L770.6,2302.9L769.3,2304.2L768.0,2305.5L766.7,2306.9L765.5,2308.2L764.3,2309.6L763.1,2311.0L762.0,2312.4L760.8,2313.9L759.7,2315.3L758.6,2316.8L757.5,2318.3L756.5,2319.8L755.4,2321.3L754.4,2322.8L753.4,2324.3L752.4,2325.9L751.4,2327.5L750.5,2329.1L749.6,2330.6L748.7,2332.3L747.8,2333.9L746.9,2335.5L746.1,2337.1L745.2,2338.8L744.4,2340.4L743.6,2342.1L742.8,2343.8L742.1,2345.5L741.3,2347.2L740.6,2348.9L739.9,2350.6L739.2,2352.3L738.5,2354.0L737.8,2355.7L737.2,2357.4L736.5,2359.2L735.9,2360.9L735.3,2362.7L734.7,2364.4L734.1,2366.1L733.6,2367.9L733.0,2369.6L732.5,2371.4L732.0,2373.1L731.4,2374.9L731.0,2376.6L730.5,2378.4L730.0,2380.1L728.0,2380.1Z"/>
<path stroke="#0077BB" d="M1093.4,1815.1L1091.4,1815.1L1091.3,1816.8L1091.3,1818.6L1091.2,1820.3L1091.0,1822.0L1090.9,1823.8L1090.7,1825.5L1090.6,1827.2L1090.4,1828.9L1090.2,1830.6L1090.0,1832.4L1089.7,1834.1L1089.5,1835.8L1089.2,1837.5L1088.9,1839.2L1088.7,1840.9L1088.4,1842.6L1088.1,1844.3L1087.8,1846.0L1087.4,1847.7L1087.1,1849.4L1086.8,1851.1L1086.4,1852.7L1086.1,1854.4L1085.7,1856.1L1085.4,1857.8L1085.0,1859.5L1084.7,1861.2L1084.3,1862.9L1083.9,1864.5L1083.5,1866.2L1083.2,1867.9L1082.8,1869.6L1082.4,1871.3L1082.1,1872.9L1081.7,1874.6L1081.3,1876.3L1081.0,1878.0L1080.6,1879.7L1080.3,1881.4L1079.9,1883.0L1079.6,1884.7L1079.3,1886.4L1078.9,1888.1L1078.6,1889.8L1078.3,1891.5L1078.0,1893.2L1077.7,1894.8L1077.4,1896.5L1077.2,1898.2L1076.9,1899.9L1076.7,1901.6L1076.4,1903.3L1076.2,1905.0L1076.0,1906.7L1075.8,1908.4L1075.7,1910.1L1075.5,1911.8L1075.4,1913.6L1075.3,1915.3L1075.2,1917.0L1075.1,1918.7L1075.0,1920.4L1075.0,1922.2L1075.0,1923.9L1075.0,1925.6L1075.0,1927.4L1075.0,1929.1L1075.1,1930.8L1075.1,1932.6L1075.2,1934.3L1075.2,1936.1L1075.3,1937.8L1075.4,1939.5L1075.5,1941.3L1075.6,1943.0L1075.7,1944.8L1075.7,1946.5L1075.8,1948.2L1075.9,1950.0L1076.0,1951.7L1076.1,1953.4L1076.1,1955.2L1076.2,1956.9L1076.3,1958.6L1076.3,1960.4L1076.3,1962.1L1076.3,1963.8L1076.3,1965.5L1076.3,1967.2L1076.3,1968.9L1076.2,1970.6L1076.1,1972.3L1076.0,1974.0L1075.9,1975.7L1075.8,1977.4L1075.6,1979.1L1075.4,1980.7L1075.2,1982.4L1074.9,1984.1L1074.6,1985.7L1074.3,1987.4L1073.9,1989.0L1073.5,1990.6L1073.1,1992.2L1072.7,1993.9L1072.2,1995.5L1071.7,1997.1L1071.2,1998.7L1070.7,2000.3L1070.1,2001.9L1069.5,2003.4L1068.9,2005.0L1068.2,2006.6L1067.5,2008.1L1066.9,2009.7L1066.1,2011.2L1065.4,2012.7L1064.6,2014.3L1063.9,2015.8L1063.1,2017.3L1062.3,2018.8L1061.4,2020.3L1060.6,2021.8L1059.7,2023.3L1058.8,2024.8L1057.9,2026.2L1057.0,2027.7L1056.0,2029.2L1055.1,2030.6L1054.1,2032.0L1053.1,2033.5L1052.1,2034.9L1051.1,2036.3L1050.1,2037.7L1049.1,2039.1L1048.1,2040.5L1047.0,2041.9L1045.9,2043.3L1044.9,2044.7L1043.8,2046.0L1042.7,2047.4L1041.6,2048.7L1040.5,2050.1L1039.4,2051.4L1038.3,2052.7L1037.1,2054.1L1036.0,2055.4L1034.9,2056.7L1033.7,2058.0L1032.6,2059.3L1031.4,2060.6L1030.3,2061.8L1029.1,2063.1L1028.0,2064.4L1026.8,2065.7L1025.6,2066.9L1024.5,2068.2L1023.3,2069.4L1022.1,2070.7L1020.9,2072.0L1019.8,2073.2L1018.6,2074.5L1017.4,2075.7L1016.2,2077.0L1015.0,2078.2L1013.8,2079.4L1012.7,2080.7L1011.5,2081.9L1010.3,2083.2L1009.1,2084.4L1007.9,2085.7L1006.7,2086.9L1005.6,2088.2L1004.4,2089.4L1003.2,2090.7L1002.1,2092.0L1000.9,2093.2L999.7,2094.5L998.6,2095.8L997.4,2097.1L996.3,2098.3L995.1,2099.6L994.0,2100.9L992.8,2102.2L991.7,2103.5L990.6,2104.8L989.5,2106.1L988.3,2107.5L987.2,2108.8L986.1,2110.1L985.1,2111.5L984.0,2112.9L982.9,2114.2L981.8,2115.6L980.8,2117.0L979.7,2118.4L978.7,2119.8L977.6,2121.2L976.6,2122.6L975.6,2124.1L974.6,2125.5L973.6,2127.0L972.6,2128.5L971.6,2129.9L970.7,2131.4L969.7,2133.0L968.8,2134.5L967.9,2136.0L967.0,2137.5L966.1,2139.1L965.2,2140.7L964.3,2142.2L963.5,2143.8L962.7,2145.4L961.9,2147.0L961.1,2148.6L960.3,2150.2L959.5,2151.8L958.8,2153.4L958.1,2155.1L957.4,2156.7L956.7,2158.3L956.1,2160.0L955.4,2161.6L954.8,2163.3L954.2,2164.9L953.7,2166.6L953.1,2168.2L952.6,2169.9L952.1,2171.6L951.7,2173.2L951.2,2174.9L950.8,2176.5L950.5,2178.2L950.1,2179.9L949.8,2181.5L949.5,2183.2L949.2,2184.8L949.0,2186.5L948.8,2188.1L948.7,2189.8L948.5,2191.4L948.4,2193.0L948.4,2194.7L948.3,2196.3L948.3,2197.9L948.4,2199.5L948.4,2201.1L948.5,2202.7L948.7,2204.3L948.9,2205.9L949.1,2207.5L949.3,2209.0L949.6,2210.6L950.0,2212.1L950.4,2213.7L950.8,2215.2L951.2,2216.7L951.7,2218.2L952.3,2219.7L952.9,2221.2L953.5,2222.7L954.1,2224.1L954.8,2225.6L955.6,2227.0L956.3,2228.5L957.1,2229.9L958.0,2231.3L958.8,2232.7L959.7,2234.1L960.7,2235.5L961.6,2236.8L962.6,2238.2L963.6,2239.5L964.7,2240.9L965.7,2242.2L966.8,2243.5L967.9,2244.8L969.1,2246.1L970.3,2247.4L971.4,2248.7L972.7,2250.0L973.9,2251.3L975.1,2252.5L976.4,2253.8L977.7,2255.0L979.0,2256.3L980.3,2257.5L981.7,2258.7L983.0,2259.9L984.4,2261.1L985.8,2262.3L987.2,2263.5L988.6,2264.7L990.0,2265.9L991.4,2267.1L992.9,2268.2L994.3,2269.4L995.7,2270.5L997.2,2271.7L998.7,2272.8L1000.1,2273.9L1001.6,2275.0L1003.1,2276.2L1004.5,2277.3L1006.0,2278.4L1007.5,2279.5L1009.0,2280.6L1010.4,2281.7L1011.9,2282.7L1013.4,2283.8L1014.9,2284.9L1016.3,2286.0L1017.8,2287.0L1019.2,2288.1L1020.7,2289.2L1022.1,2290.2L1023.6,2291.3L1025.0,2292.3L1026.5,2293.4L1027.9,2294.5L1029.3,2295.5L1030.7,2296.6L1032.1,2297.7L1033.5,2298.7L1034.9,2299.8L1036.3,2300.9L1037.7,2302.0L1039.0,2303.1L1040.4,2304.1L1041.7,2305.2L1043.1,2306.3L1044.4,2307.5L1045.7,2308.6L1047.0,2309.7L1048.2,2310.8L1049.5,2312.0L1050.7,2313.1L1052.0,2314.3L1053.2,2315.4L1054.4,2316.6L1055.6,2317.8L1056.8,2319.0L1057.9,2320.2L1059.0,2321.4L1060.2,2322.7L1061.3,2323.9L1062.3,2325.2L1063.4,2326.5L1064.4,2327.8L1065.5,2329.1L1066.4,2330.4L1067.4,2331.7L1068.4,2333.1L1069.3,2334.5L1070.2,2335.9L1071.1,2337.3L1072.0,2338.7L1072.8,2340.2L1073.6,2341.6L1074.4,2343.1L1075.2,2344.6L1075.9,2346.1L1076.7,2347.6L1077.4,2349.2L1078.1,2350.8L1078.7,2352.3L1079.4,2353.9L1080.0,2355.5L1080.6,2357.1L1081.2,2358.7L1081.8,2360.4L1082.3,2362.0L1082.8,2363.6L1083.4,2365.3L1083.9,2367.0L1084.3,2368.6L1084.8,2370.3L1085.2,2372.0L1085.7,2373.7L1086.1,2375.4L1086.5,2377.1L1086.9,2378.8L1087.3,2380.5L1087.6,2382.2L1088.0,2383.9L1088.3,2385.6L1088.6,2387.3L1088.9,2389.0L1089.2,2390.7L1089.5,2392.4L1089.8,2394.2L1090.0,2395.9L1090.3,2397.6L1090.5,2399.3L1090.8,2401.0L1091.0,2402.6L1091.2,2404.3L1091.4,2406.0L1093.4,2406.0Z"/>
<path stroke="#FF7F00" d="M1093.4,1781.7L1095.4,1781.7L1095.4,1783.5L1095.4,1785.4L1095.5,1787.2L1095.5,1789.1L1095.5,1790.9L1095.6,1792.7L1095.6,1794.5L1095.7,1796.4L1095.8,1798.2L1095.9,1800.0L1095.9,1801.8L1096.0,1803.6L1096.2,1805.4L1096.3,1807.2L1096.4,1809.0L1096.6,1810.8L1096.7,1812.6L1096.9,1814.4L1097.1,1816.1L1097.3,1817.9L1097.5,1819.7L1097.7,1821.4L1098.0,1823.2L1098.3,1824.9L1098.5,1826.7L1098.9,1828.4L1099.2,1830.2L1099.5,1831.9L1099.9,1833.6L1100.3,1835.3L1100.7,1837.0L1101.1,1838.7L1101.6,1840.4L1102.1,1842.1L1102.6,1843.8L1103.1,1845.5L1103.7,1847.1L1104.3,1848.8L1104.9,1850.4L1105.6,1852.1L1106.2,1853.7L1106.9,1855.3L1107.7,1856.9L1108.4,1858.6L1109.2,1860.2L1110.1,1861.7L1110.9,1863.3L1111.8,1864.9L1112.7,1866.5L1113.7,1868.0L1114.7,1869.6L1115.7,1871.1L1116.8,1872.6L1117.9,1874.2L1119.0,1875.7L1120.2,1877.2L1121.3,1878.7L1122.5,1880.2L1123.7,1881.7L1124.9,1883.1L1126.1,1884.6L1127.3,1886.1L1128.5,1887.6L1129.6,1889.1L1130.8,1890.6L1132.0,1892.0L1133.1,1893.5L1134.2,1895.0L1135.3,1896.5L1136.3,1898.0L1137.3,1899.5L1138.3,1901.0L1139.2,1902.5L1140.1,1904.1L1140.9,1905.6L1141.6,1907.1L1142.4,1908.7L1143.0,1910.2L1143.6,1911.8L1144.1,1913.4L1144.6,1915.0L1145.0,1916.6L1145.3,1918.1L1145.6,1919.8L1145.8,1921.4L1146.0,1923.0L1146.1,1924.6L1146.1,1926.2L1146.0,1927.9L1145.9,1929.5L1145.7,1931.2L1145.5,1932.8L1145.2,1934.5L1144.9,1936.2L1144.5,1937.8L1144.1,1939.5L1143.6,1941.2L1143.1,1942.9L1142.6,1944.6L1142.1,1946.3L1141.6,1948.0L1141.0,1949.7L1140.5,1951.4L1140.0,1953.1L1139.4,1954.9L1138.9,1956.6L1138.4,1958.3L1138.0,1960.1L1137.5,1961.8L1137.1,1963.6L1136.7,1965.4L1136.3,1967.1L1135.9,1968.9L1135.6,1970.7L1135.3,1972.4L1134.9,1974.2L1134.7,1976.0L1134.4,1977.8L1134.1,1979.6L1133.9,1981.4L1133.7,1983.2L1133.5,1985.0L1133.3,1986.8L1133.2,1988.6L1133.0,1990.4L1132.9,1992.2L1132.8,1994.0L1132.8,1995.8L1132.7,1997.6L1132.7,1999.4L1132.7,2001.2L1132.7,2003.0L1132.7,2004.8L1132.7,2006.6L1132.8,2008.4L1132.9,2010.2L1133.0,2012.0L1133.1,2013.8L1133.2,2015.5L1133.4,2017.3L1133.6,2019.1L1133.8,2020.9L1134.0,2022.7L1134.3,2024.4L1134.5,2026.2L1134.8,2028.0L1135.1,2029.7L1135.4,2031.5L1135.8,2033.3L1136.1,2035.0L1136.5,2036.7L1136.9,2038.5L1137.3,2040.2L1137.8,2041.9L1138.2,2043.6L1138.7,2045.4L1139.2,2047.1L1139.7,2048.8L1140.3,2050.4L1140.8,2052.1L1141.4,2053.8L1142.0,2055.5L1142.6,2057.1L1143.3,2058.8L1143.9,2060.4L1144.6,2062.0L1145.3,2063.7L1146.0,2065.3L1146.8,2066.9L1147.5,2068.5L1148.3,2070.0L1149.1,2071.6L1149.9,2073.2L1150.7,2074.7L1151.6,2076.3L1152.5,2077.8L1153.4,2079.3L1154.3,2080.8L1155.2,2082.3L1156.2,2083.8L1157.1,2085.2L1158.1,2086.7L1159.2,2088.1L1160.2,2089.5L1161.2,2090.9L1162.3,2092.3L1163.4,2093.7L1164.5,2095.1L1165.6,2096.5L1166.8,2097.8L1167.9,2099.2L1169.1,2100.5L1170.2,2101.8L1171.4,2103.2L1172.6,2104.5L1173.8,2105.8L1175.1,2107.1L1176.3,2108.4L1177.5,2109.7L1178.8,2111.0L1180.0,2112.3L1181.2,2113.5L1182.5,2114.8L1183.8,2116.1L1185.0,2117.4L1186.3,2118.7L1187.6,2119.9L1188.8,2121.2L1190.1,2122.5L1191.4,2123.8L1192.6,2125.1L1193.9,2126.4L1195.2,2127.7L1196.4,2129.0L1197.7,2130.3L1198.9,2131.6L1200.2,2132.9L1201.4,2134.2L1202.6,2135.5L1203.9,2136.9L1205.1,2138.2L1206.3,2139.6L1207.5,2140.9L1208.7,2142.3L1209.8,2143.7L1211.0,2145.1L1212.1,2146.5L1213.3,2147.9L1214.4,2149.4L1215.5,2150.8L1216.6,2152.3L1217.6,2153.7L1218.7,2155.2L1219.7,2156.7L1220.7,2158.3L1221.7,2159.8L1222.7,2161.4L1223.6,2162.9L1224.5,2164.5L1225.4,2166.1L1226.3,2167.8L1227.1,2169.4L1228.0,2171.1L1228.8,2172.8L1229.5,2174.5L1230.3,2176.2L1231.0,2177.9L1231.7,2179.7L1232.3,2181.4L1232.9,2183.2L1233.5,2184.9L1234.1,2186.7L1234.6,2188.5L1235.1,2190.3L1235.5,2192.1L1235.9,2193.8L1236.3,2195.6L1236.6,2197.4L1236.9,2199.2L1237.2,2201.0L1237.4,2202.8L1237.5,2204.5L1237.7,2206.3L1237.8,2208.1L1237.8,2209.8L1237.8,2211.5L1237.7,2213.3L1237.6,2215.0L1237.5,2216.7L1237.3,2218.4L1237.0,2220.0L1236.7,2221.7L1236.4,2223.3L1236.0,2224.9L1235.5,2226.5L1235.0,2228.1L1234.4,2229.6L1233.8,2231.2L1233.1,2232.6L1232.4,2234.1L1231.6,2235.6L1230.8,2237.0L1229.8,2238.3L1228.9,2239.7L1227.9,2241.0L1226.8,2242.3L1225.7,2243.6L1224.5,2244.9L1223.3,2246.1L1222.1,2247.3L1220.8,2248.5L1219.5,2249.7L1218.2,2250.9L1216.8,2252.0L1215.4,2253.2L1214.0,2254.3L1212.5,2255.4L1211.1,2256.5L1209.6,2257.6L1208.1,2258.7L1206.6,2259.7L1205.1,2260.8L1203.5,2261.9L1202.0,2262.9L1200.5,2264.0L1198.9,2265.0L1197.4,2266.1L1195.8,2267.1L1194.3,2268.2L1192.8,2269.3L1191.3,2270.3L1189.8,2271.4L1188.3,2272.5L1186.8,2273.5L1185.3,2274.6L1183.9,2275.7L1182.4,2276.8L1180.9,2277.9L1179.5,2278.9L1178.0,2280.0L1176.6,2281.1L1175.2,2282.2L1173.7,2283.3L1172.3,2284.4L1170.9,2285.5L1169.4,2286.6L1168.0,2287.7L1166.6,2288.8L1165.2,2289.9L1163.8,2291.0L1162.4,2292.2L1161.0,2293.3L1159.6,2294.4L1158.2,2295.5L1156.8,2296.6L1155.4,2297.8L1154.0,2298.9L1152.6,2300.0L1151.2,2301.1L1149.8,2302.3L1148.4,2303.4L1147.0,2304.5L1145.6,2305.7L1144.2,2306.8L1142.8,2308.0L1141.4,2309.1L1140.0,2310.3L1138.7,2311.5L1137.3,2312.6L1136.0,2313.8L1134.6,2315.0L1133.3,2316.2L1132.0,2317.4L1130.7,2318.7L1129.4,2319.9L1128.2,2321.2L1126.9,2322.4L1125.7,2323.7L1124.5,2325.0L1123.3,2326.3L1122.2,2327.6L1121.1,2329.0L1119.9,2330.3L1118.9,2331.7L1117.8,2333.1L1116.8,2334.5L1115.8,2336.0L1114.8,2337.4L1113.9,2338.9L1113.0,2340.4L1112.2,2341.9L1111.3,2343.5L1110.5,2345.0L1109.7,2346.6L1109.0,2348.2L1108.3,2349.8L1107.6,2351.4L1106.9,2353.1L1106.2,2354.7L1105.6,2356.4L1105.0,2358.1L1104.4,2359.8L1103.8,2361.5L1103.2,2363.2L1102.6,2364.9L1102.1,2366.6L1101.5,2368.3L1101.0,2370.1L1100.5,2371.8L1100.0,2373.5L1099.5,2375.2L1099.0,2377.0L1098.5,2378.7L1098.0,2380.4L1097.4,2382.2L1096.9,2383.9L1096.4,2385.6L1095.9,2387.3L1095.4,2389.0L1093.4,2389.0Z"/>
<path stroke="#0077BB" d="M1458.8,1801.6L1456.8,1801.6L1456.8,1803.4L1456.8,1805.2L1456.7,1807.0L1456.7,1808.8L1456.6,1810.6L1456.5,1812.4L1456.4,1814.2L1456.3,1816.0L1456.2,1817.8L1456.1,1819.6L1455.9,1821.4L1455.8,1823.1L1455.6,1824.9L1455.4,1826.7L1455.2,1828.5L1455.1,1830.3L1454.9,1832.0L1454.6,1833.8L1454.4,1835.6L1454.2,1837.3L1454.0,1839.1L1453.7,1840.9L1453.5,1842.6L1453.2,1844.4L1452.9,1846.2L1452.6,1847.9L1452.4,1849.7L1452.1,1851.4L1451.8,1853.2L1451.5,1854.9L1451.2,1856.7L1450.9,1858.5L1450.5,1860.2L1450.2,1862.0L1449.9,1863.7L1449.5,1865.4L1449.2,1867.2L1448.9,1868.9L1448.5,1870.7L1448.2,1872.4L1447.8,1874.2L1447.5,1875.9L1447.1,1877.7L1446.8,1879.4L1446.4,1881.2L1446.0,1882.9L1445.7,1884.6L1445.3,1886.4L1445.0,1888.1L1444.6,1889.9L1444.2,1891.6L1443.9,1893.3L1443.5,1895.1L1443.1,1896.8L1442.8,1898.6L1442.4,1900.3L1442.1,1902.1L1441.7,1903.8L1441.4,1905.5L1441.0,1907.3L1440.7,1909.0L1440.3,1910.8L1440.0,1912.5L1439.6,1914.3L1439.3,1916.0L1439.0,1917.8L1438.6,1919.5L1438.3,1921.2L1438.0,1923.0L1437.7,1924.7L1437.4,1926.5L1437.1,1928.2L1436.8,1930.0L1436.5,1931.7L1436.2,1933.5L1435.9,1935.3L1435.6,1937.0L1435.4,1938.8L1435.1,1940.5L1434.9,1942.3L1434.6,1944.0L1434.4,1945.8L1434.2,1947.6L1434.0,1949.3L1433.8,1951.1L1433.6,1952.9L1433.4,1954.6L1433.2,1956.4L1433.1,1958.2L1432.9,1960.0L1432.8,1961.7L1432.6,1963.5L1432.5,1965.3L1432.4,1967.1L1432.3,1968.9L1432.2,1970.7L1432.2,1972.4L1432.1,1974.2L1432.1,1976.0L1432.0,1977.8L1432.0,1979.6L1432.0,1981.4L1432.0,1983.2L1432.1,1985.0L1432.1,1986.9L1432.1,1988.7L1432.2,1990.5L1432.3,1992.3L1432.4,1994.1L1432.4,1995.9L1432.5,1997.7L1432.6,1999.5L1432.7,2001.4L1432.8,2003.2L1432.9,2005.0L1433.0,2006.8L1433.1,2008.6L1433.2,2010.4L1433.3,2012.2L1433.4,2014.0L1433.5,2015.8L1433.6,2017.6L1433.6,2019.4L1433.7,2021.2L1433.7,2023.0L1433.7,2024.7L1433.7,2026.5L1433.7,2028.3L1433.7,2030.0L1433.7,2031.8L1433.6,2033.6L1433.5,2035.3L1433.4,2037.0L1433.3,2038.8L1433.1,2040.5L1432.9,2042.2L1432.7,2043.9L1432.5,2045.6L1432.2,2047.3L1431.9,2049.0L1431.6,2050.6L1431.2,2052.3L1430.8,2053.9L1430.4,2055.6L1429.9,2057.2L1429.4,2058.8L1428.8,2060.4L1428.2,2062.0L1427.6,2063.6L1426.9,2065.2L1426.2,2066.7L1425.5,2068.3L1424.7,2069.8L1423.9,2071.3L1423.0,2072.8L1422.1,2074.3L1421.2,2075.8L1420.3,2077.2L1419.3,2078.7L1418.2,2080.1L1417.2,2081.5L1416.1,2082.9L1415.0,2084.3L1413.9,2085.7L1412.7,2087.0L1411.5,2088.4L1410.3,2089.7L1409.0,2091.0L1407.7,2092.3L1406.4,2093.5L1405.1,2094.8L1403.8,2096.0L1402.4,2097.3L1401.0,2098.5L1399.6,2099.7L1398.2,2100.8L1396.7,2102.0L1395.3,2103.2L1393.8,2104.3L1392.3,2105.5L1390.8,2106.6L1389.3,2107.7L1387.8,2108.8L1386.3,2109.9L1384.7,2111.0L1383.2,2112.1L1381.6,2113.2L1380.1,2114.3L1378.5,2115.3L1376.9,2116.4L1375.4,2117.5L1373.8,2118.5L1372.2,2119.6L1370.6,2120.6L1369.1,2121.7L1367.5,2122.8L1365.9,2123.8L1364.4,2124.9L1362.8,2125.9L1361.3,2127.0L1359.7,2128.0L1358.2,2129.1L1356.7,2130.2L1355.1,2131.3L1353.6,2132.3L1352.2,2133.4L1350.7,2134.5L1349.2,2135.6L1347.8,2136.7L1346.4,2137.8L1345.0,2139.0L1343.6,2140.1L1342.2,2141.2L1340.9,2142.4L1339.5,2143.6L1338.2,2144.7L1337.0,2145.9L1335.7,2147.1L1334.5,2148.3L1333.3,2149.6L1332.1,2150.8L1331.0,2152.1L1329.9,2153.4L1328.8,2154.6L1327.7,2156.0L1326.7,2157.3L1325.8,2158.6L1324.8,2160.0L1323.9,2161.4L1323.1,2162.8L1322.2,2164.2L1321.4,2165.7L1320.7,2167.2L1320.0,2168.7L1319.3,2170.2L1318.7,2171.7L1318.2,2173.3L1317.6,2174.9L1317.1,2176.5L1316.7,2178.1L1316.3,2179.7L1316.0,2181.4L1315.7,2183.0L1315.5,2184.7L1315.3,2186.4L1315.2,2188.0L1315.1,2189.7L1315.1,2191.4L1315.2,2193.1L1315.3,2194.7L1315.4,2196.4L1315.7,2198.1L1315.9,2199.7L1316.3,2201.4L1316.7,2203.0L1317.2,2204.6L1317.7,2206.2L1318.3,2207.8L1319.0,2209.4L1319.7,2211.0L1320.5,2212.5L1321.3,2214.0L1322.2,2215.5L1323.1,2217.0L1324.1,2218.4L1325.1,2219.9L1326.1,2221.3L1327.2,2222.7L1328.4,2224.1L1329.5,2225.4L1330.7,2226.7L1332.0,2228.0L1333.2,2229.3L1334.5,2230.6L1335.9,2231.8L1337.2,2233.0L1338.6,2234.2L1340.0,2235.4L1341.4,2236.6L1342.8,2237.8L1344.3,2238.9L1345.8,2240.0L1347.3,2241.1L1348.8,2242.2L1350.3,2243.3L1351.8,2244.4L1353.4,2245.4L1354.9,2246.5L1356.5,2247.6L1358.1,2248.6L1359.6,2249.6L1361.2,2250.7L1362.8,2251.7L1364.4,2252.7L1366.0,2253.8L1367.6,2254.8L1369.1,2255.8L1370.7,2256.8L1372.3,2257.8L1373.9,2258.9L1375.4,2259.9L1377.0,2260.9L1378.5,2262.0L1380.0,2263.0L1381.5,2264.1L1383.0,2265.1L1384.5,2266.2L1386.0,2267.3L1387.4,2268.4L1388.9,2269.4L1390.3,2270.5L1391.7,2271.7L1393.1,2272.8L1394.4,2273.9L1395.8,2275.1L1397.2,2276.2L1398.5,2277.4L1399.8,2278.5L1401.1,2279.7L1402.4,2280.9L1403.7,2282.1L1404.9,2283.3L1406.2,2284.5L1407.4,2285.8L1408.6,2287.0L1409.8,2288.3L1411.0,2289.5L1412.2,2290.8L1413.4,2292.1L1414.5,2293.4L1415.7,2294.7L1416.8,2296.0L1417.9,2297.4L1419.0,2298.7L1420.1,2300.1L1421.2,2301.5L1422.3,2302.8L1423.3,2304.2L1424.4,2305.7L1425.4,2307.1L1426.5,2308.5L1427.5,2310.0L1428.5,2311.4L1429.5,2312.9L1430.4,2314.4L1431.4,2315.9L1432.4,2317.4L1433.3,2318.9L1434.2,2320.4L1435.1,2322.0L1436.0,2323.5L1436.9,2325.1L1437.8,2326.7L1438.6,2328.3L1439.5,2329.8L1440.3,2331.4L1441.1,2333.1L1441.9,2334.7L1442.6,2336.3L1443.4,2337.9L1444.1,2339.6L1444.9,2341.2L1445.6,2342.9L1446.3,2344.6L1446.9,2346.2L1447.6,2347.9L1448.2,2349.6L1448.8,2351.3L1449.4,2353.0L1450.0,2354.7L1450.5,2356.4L1451.1,2358.1L1451.6,2359.9L1452.1,2361.6L1452.5,2363.3L1453.0,2365.1L1453.4,2366.8L1453.8,2368.6L1454.2,2370.3L1454.5,2372.1L1454.9,2373.9L1455.2,2375.6L1455.5,2377.4L1455.8,2379.2L1456.0,2380.9L1456.2,2382.7L1456.4,2384.5L1456.6,2386.3L1456.7,2388.1L1456.9,2389.9L1457.0,2391.6L1457.0,2393.4L1457.1,2395.2L1457.1,2397.0L1457.1,2398.8L1457.1,2400.6L1457.0,2402.4L1456.9,2404.2L1456.8,2406.0L1458.8,2406.0Z"/>
<path stroke="#FF7F00" d="M1458.8,1750.0L1460.8,1750.0L1460.6,1752.0L1460.4,1753.9L1460.4,1755.9L1460.4,1757.8L1460.4,1759.8L1460.4,1761.7L1460.4,1763.6L1460.4,1765.5L1460.4,1767.4L1460.4,1769.3L1460.4,1771.2L1460.4,1773.1L1460.4,1774.9L1460.5,1776.8L1460.7,1778.6L1460.9,1780.5L1461.1,1782.3L1461.4,1784.2L1461.7,1786.0L1462.0,1787.8L1462.3,1789.6L1462.7,1791.4L1463.0,1793.2L1463.4,1795.0L1463.8,1796.8L1464.3,1798.6L1464.7,1800.4L1465.2,1802.2L1465.6,1804.0L1466.1,1805.7L1466.7,1807.5L1467.2,1809.2L1467.7,1811.0L1468.3,1812.8L1468.9,1814.5L1469.5,1816.2L1470.1,1818.0L1470.7,1819.7L1471.3,1821.5L1472.0,1823.2L1472.6,1824.9L1473.3,1826.7L1474.0,1828.4L1474.6,1830.1L1475.3,1831.8L1476.0,1833.5L1476.7,1835.3L1477.5,1837.0L1478.2,1838.7L1478.9,1840.4L1479.6,1842.1L1480.4,1843.8L1481.1,1845.6L1481.9,1847.3L1482.6,1849.0L1483.4,1850.7L1484.1,1852.4L1484.9,1854.1L1485.7,1855.8L1486.4,1857.5L1487.2,1859.3L1487.9,1861.0L1488.7,1862.7L1489.5,1864.4L1490.2,1866.1L1491.0,1867.8L1491.7,1869.6L1492.5,1871.3L1493.2,1873.0L1494.0,1874.8L1494.7,1876.5L1495.4,1878.2L1496.2,1880.0L1496.9,1881.7L1497.6,1883.4L1498.3,1885.2L1499.0,1886.9L1499.7,1888.7L1500.4,1890.5L1501.0,1892.2L1501.7,1894.0L1502.3,1895.8L1503.0,1897.5L1503.6,1899.3L1504.2,1901.1L1504.8,1902.9L1505.4,1904.7L1506.0,1906.5L1506.6,1908.3L1507.1,1910.1L1507.7,1911.9L1508.2,1913.7L1508.8,1915.5L1509.3,1917.3L1509.8,1919.1L1510.3,1920.9L1510.8,1922.8L1511.3,1924.6L1511.7,1926.4L1512.2,1928.2L1512.6,1930.1L1513.1,1931.9L1513.5,1933.7L1513.9,1935.6L1514.3,1937.4L1514.7,1939.2L1515.1,1941.1L1515.4,1942.9L1515.8,1944.7L1516.1,1946.6L1516.5,1948.4L1516.8,1950.3L1517.1,1952.1L1517.4,1954.0L1517.7,1955.8L1518.0,1957.7L1518.2,1959.5L1518.5,1961.4L1518.7,1963.2L1519.0,1965.1L1519.2,1966.9L1519.4,1968.8L1519.6,1970.6L1519.7,1972.5L1519.9,1974.3L1520.1,1976.2L1520.2,1978.0L1520.3,1979.9L1520.5,1981.7L1520.6,1983.6L1520.7,1985.4L1520.7,1987.2L1520.8,1989.1L1520.9,1990.9L1520.9,1992.8L1520.9,1994.6L1520.9,1996.5L1520.9,1998.3L1520.9,2000.1L1520.8,2002.0L1520.7,2003.8L1520.6,2005.7L1520.5,2007.5L1520.3,2009.3L1520.2,2011.2L1520.0,2013.0L1519.7,2014.8L1519.5,2016.7L1519.2,2018.5L1518.8,2020.3L1518.5,2022.2L1518.1,2024.0L1517.7,2025.9L1517.3,2027.7L1516.8,2029.5L1516.4,2031.4L1515.9,2033.2L1515.4,2035.0L1514.9,2036.9L1514.5,2038.7L1514.0,2040.5L1513.5,2042.4L1513.0,2044.2L1512.6,2046.0L1512.2,2047.9L1511.8,2049.7L1511.4,2051.5L1511.0,2053.4L1510.7,2055.2L1510.4,2057.0L1510.2,2058.8L1510.0,2060.7L1509.8,2062.5L1509.6,2064.3L1509.5,2066.2L1509.5,2068.0L1509.5,2069.8L1509.5,2071.6L1509.5,2073.4L1509.6,2075.2L1509.8,2077.0L1509.9,2078.8L1510.1,2080.6L1510.4,2082.3L1510.7,2084.1L1511.0,2085.8L1511.4,2087.6L1511.8,2089.3L1512.3,2091.0L1512.8,2092.7L1513.4,2094.4L1514.0,2096.0L1514.6,2097.7L1515.3,2099.3L1516.0,2100.9L1516.8,2102.5L1517.6,2104.1L1518.5,2105.7L1519.4,2107.2L1520.3,2108.7L1521.3,2110.2L1522.4,2111.7L1523.4,2113.2L1524.6,2114.6L1525.7,2116.0L1526.9,2117.5L1528.1,2118.9L1529.4,2120.2L1530.7,2121.6L1532.0,2123.0L1533.3,2124.3L1534.7,2125.7L1536.1,2127.0L1537.5,2128.3L1539.0,2129.6L1540.4,2130.9L1541.9,2132.2L1543.4,2133.5L1544.9,2134.8L1546.4,2136.1L1547.9,2137.3L1549.5,2138.6L1551.0,2139.9L1552.6,2141.1L1554.1,2142.4L1555.7,2143.7L1557.3,2144.9L1558.8,2146.2L1560.4,2147.5L1562.0,2148.7L1563.5,2150.0L1565.1,2151.3L1566.6,2152.5L1568.2,2153.8L1569.7,2155.1L1571.2,2156.4L1572.7,2157.7L1574.2,2159.0L1575.7,2160.3L1577.1,2161.7L1578.5,2163.0L1579.9,2164.4L1581.3,2165.7L1582.7,2167.1L1584.0,2168.5L1585.3,2169.9L1586.6,2171.3L1587.8,2172.7L1589.0,2174.2L1590.2,2175.7L1591.3,2177.1L1592.4,2178.6L1593.5,2180.2L1594.5,2181.7L1595.5,2183.3L1596.4,2184.8L1597.3,2186.5L1598.2,2188.1L1598.9,2189.7L1599.7,2191.4L1600.4,2193.1L1601.0,2194.8L1601.6,2196.5L1602.1,2198.2L1602.5,2199.9L1602.9,2201.7L1603.3,2203.4L1603.5,2205.1L1603.7,2206.8L1603.8,2208.5L1603.9,2210.2L1603.8,2211.9L1603.7,2213.6L1603.5,2215.2L1603.3,2216.9L1602.9,2218.5L1602.5,2220.0L1602.0,2221.6L1601.4,2223.1L1600.7,2224.6L1600.0,2226.1L1599.1,2227.5L1598.3,2229.0L1597.3,2230.4L1596.3,2231.8L1595.3,2233.1L1594.2,2234.5L1593.0,2235.8L1591.9,2237.1L1590.6,2238.5L1589.4,2239.8L1588.1,2241.0L1586.7,2242.3L1585.4,2243.6L1584.0,2244.9L1582.6,2246.1L1581.2,2247.4L1579.8,2248.6L1578.3,2249.9L1576.9,2251.1L1575.4,2252.3L1574.0,2253.6L1572.5,2254.8L1571.1,2256.1L1569.6,2257.3L1568.2,2258.5L1566.7,2259.8L1565.2,2261.0L1563.8,2262.2L1562.3,2263.5L1560.8,2264.7L1559.3,2265.9L1557.9,2267.2L1556.4,2268.4L1554.9,2269.7L1553.5,2270.9L1552.0,2272.1L1550.5,2273.4L1549.0,2274.6L1547.6,2275.9L1546.1,2277.1L1544.6,2278.4L1543.2,2279.6L1541.7,2280.9L1540.3,2282.1L1538.8,2283.4L1537.4,2284.6L1535.9,2285.9L1534.5,2287.2L1533.0,2288.4L1531.6,2289.7L1530.2,2291.0L1528.7,2292.3L1527.3,2293.6L1525.9,2294.9L1524.5,2296.1L1523.1,2297.4L1521.7,2298.7L1520.3,2300.0L1519.0,2301.4L1517.6,2302.7L1516.2,2304.0L1514.9,2305.3L1513.5,2306.6L1512.2,2308.0L1510.8,2309.3L1509.5,2310.7L1508.2,2312.0L1506.9,2313.4L1505.6,2314.7L1504.3,2316.1L1503.1,2317.5L1501.8,2318.9L1500.6,2320.3L1499.3,2321.7L1498.1,2323.1L1496.9,2324.5L1495.7,2325.9L1494.5,2327.3L1493.3,2328.8L1492.2,2330.2L1491.0,2331.7L1489.9,2333.1L1488.8,2334.6L1487.7,2336.1L1486.6,2337.5L1485.5,2339.0L1484.4,2340.5L1483.4,2342.0L1482.4,2343.6L1481.4,2345.1L1480.4,2346.6L1479.4,2348.2L1478.4,2349.7L1477.5,2351.3L1476.6,2352.9L1475.6,2354.5L1474.8,2356.1L1473.9,2357.7L1473.0,2359.3L1472.2,2360.9L1471.4,2362.6L1470.6,2364.2L1469.8,2365.9L1469.1,2367.6L1468.3,2369.2L1467.6,2370.9L1466.9,2372.7L1466.3,2374.4L1465.6,2376.1L1465.0,2377.9L1464.4,2379.6L1463.8,2381.4L1463.2,2383.2L1462.7,2385.0L1462.2,2386.8L1461.7,2388.6L1461.2,2390.5L1460.8,2392.3L1458.8,2392.3Z"/>
<path stroke="#0077BB" d="M1824.2,1760.0L1822.2,1760.0L1822.4,1761.9L1822.5,1763.9L1822.6,1765.8L1822.6,1767.7L1822.6,1769.6L1822.6,1771.6L1822.6,1773.5L1822.6,1775.4L1822.5,1777.3L1822.4,1779.2L1822.3,1781.1L1822.1,1783.0L1821.9,1784.9L1821.7,1786.8L1821.5,1788.7L1821.2,1790.6L1821.0,1792.5L1820.7,1794.4L1820.3,1796.3L1820.0,1798.2L1819.7,1800.0L1819.3,1801.9L1818.9,1803.8L1818.5,1805.7L1818.1,1807.5L1817.7,1809.4L1817.2,1811.3L1816.8,1813.2L1816.3,1815.0L1815.8,1816.9L1815.3,1818.8L1814.8,1820.6L1814.3,1822.5L1813.8,1824.3L1813.3,1826.2L1812.8,1828.1L1812.3,1829.9L1811.7,1831.8L1811.2,1833.6L1810.7,1835.5L1810.1,1837.4L1809.6,1839.2L1809.0,1841.1L1808.5,1842.9L1808.0,1844.8L1807.4,1846.6L1806.9,1848.5L1806.4,1850.3L1805.9,1852.2L1805.3,1854.0L1804.8,1855.9L1804.3,1857.8L1803.8,1859.6L1803.4,1861.5L1802.9,1863.3L1802.4,1865.2L1802.0,1867.0L1801.5,1868.9L1801.1,1870.8L1800.7,1872.6L1800.3,1874.5L1799.9,1876.3L1799.6,1878.2L1799.2,1880.1L1798.9,1881.9L1798.6,1883.8L1798.3,1885.7L1798.0,1887.5L1797.8,1889.4L1797.5,1891.3L1797.3,1893.1L1797.1,1895.0L1797.0,1896.9L1796.9,1898.8L1796.7,1900.6L1796.7,1902.5L1796.6,1904.4L1796.6,1906.3L1796.6,1908.2L1796.6,1910.1L1796.7,1912.0L1796.7,1913.9L1796.8,1915.7L1796.9,1917.6L1797.0,1919.5L1797.2,1921.4L1797.3,1923.3L1797.5,1925.2L1797.6,1927.1L1797.8,1929.1L1798.0,1931.0L1798.2,1932.9L1798.4,1934.8L1798.6,1936.7L1798.8,1938.6L1799.0,1940.5L1799.2,1942.4L1799.4,1944.3L1799.6,1946.2L1799.8,1948.1L1799.9,1950.1L1800.1,1952.0L1800.3,1953.9L1800.4,1955.8L1800.6,1957.7L1800.7,1959.6L1800.8,1961.5L1800.9,1963.5L1801.0,1965.4L1801.1,1967.3L1801.1,1969.2L1801.2,1971.1L1801.2,1973.0L1801.2,1974.9L1801.2,1976.9L1801.1,1978.8L1801.1,1980.7L1801.0,1982.6L1800.9,1984.5L1800.8,1986.4L1800.7,1988.3L1800.6,1990.2L1800.4,1992.1L1800.3,1994.0L1800.1,1995.9L1799.9,1997.8L1799.6,1999.7L1799.4,2001.6L1799.1,2003.4L1798.9,2005.3L1798.6,2007.2L1798.3,2009.1L1797.9,2010.9L1797.6,2012.8L1797.2,2014.7L1796.8,2016.5L1796.4,2018.4L1796.0,2020.2L1795.6,2022.0L1795.1,2023.9L1794.7,2025.7L1794.2,2027.5L1793.7,2029.4L1793.2,2031.2L1792.6,2033.0L1792.1,2034.8L1791.5,2036.6L1790.9,2038.4L1790.3,2040.1L1789.7,2041.9L1789.1,2043.7L1788.4,2045.5L1787.7,2047.2L1787.0,2049.0L1786.3,2050.7L1785.6,2052.4L1784.9,2054.2L1784.1,2055.9L1783.3,2057.6L1782.5,2059.3L1781.7,2061.0L1780.9,2062.7L1780.0,2064.3L1779.1,2066.0L1778.3,2067.7L1777.4,2069.3L1776.4,2070.9L1775.5,2072.6L1774.5,2074.2L1773.6,2075.8L1772.6,2077.4L1771.6,2079.0L1770.5,2080.6L1769.5,2082.1L1768.4,2083.7L1767.4,2085.2L1766.3,2086.8L1765.1,2088.3L1764.0,2089.8L1762.9,2091.3L1761.7,2092.8L1760.5,2094.3L1759.3,2095.7L1758.1,2097.2L1756.8,2098.6L1755.6,2100.0L1754.3,2101.5L1753.0,2102.9L1751.7,2104.3L1750.4,2105.6L1749.1,2107.0L1747.7,2108.4L1746.4,2109.7L1745.0,2111.1L1743.6,2112.5L1742.2,2113.8L1740.8,2115.1L1739.4,2116.5L1738.0,2117.8L1736.5,2119.1L1735.1,2120.5L1733.7,2121.8L1732.2,2123.1L1730.8,2124.5L1729.3,2125.8L1727.9,2127.1L1726.4,2128.5L1724.9,2129.8L1723.5,2131.2L1722.0,2132.5L1720.5,2133.9L1719.1,2135.3L1717.6,2136.7L1716.1,2138.0L1714.7,2139.4L1713.2,2140.8L1711.8,2142.3L1710.3,2143.7L1708.9,2145.1L1707.4,2146.6L1706.0,2148.1L1704.6,2149.5L1703.2,2151.0L1701.8,2152.5L1700.4,2154.1L1699.1,2155.6L1697.7,2157.1L1696.4,2158.7L1695.2,2160.2L1693.9,2161.8L1692.7,2163.4L1691.5,2165.0L1690.4,2166.6L1689.3,2168.2L1688.3,2169.8L1687.3,2171.4L1686.3,2173.0L1685.4,2174.7L1684.6,2176.3L1683.8,2177.9L1683.1,2179.6L1682.5,2181.2L1681.9,2182.9L1681.3,2184.5L1680.9,2186.2L1680.5,2187.9L1680.2,2189.5L1680.0,2191.2L1679.9,2192.8L1679.8,2194.5L1679.8,2196.2L1679.9,2197.8L1680.1,2199.5L1680.3,2201.1L1680.6,2202.7L1681.0,2204.4L1681.5,2206.0L1682.0,2207.6L1682.6,2209.2L1683.2,2210.7L1684.0,2212.3L1684.7,2213.8L1685.6,2215.4L1686.5,2216.9L1687.5,2218.3L1688.5,2219.8L1689.6,2221.2L1690.8,2222.6L1692.0,2224.0L1693.3,2225.4L1694.6,2226.8L1695.9,2228.1L1697.3,2229.4L1698.7,2230.7L1700.2,2232.0L1701.7,2233.2L1703.2,2234.5L1704.7,2235.7L1706.2,2236.9L1707.8,2238.1L1709.4,2239.3L1711.0,2240.5L1712.6,2241.7L1714.2,2242.9L1715.8,2244.0L1717.4,2245.1L1719.0,2246.3L1720.7,2247.4L1722.3,2248.5L1724.0,2249.6L1725.6,2250.7L1727.3,2251.8L1728.9,2252.9L1730.6,2254.0L1732.3,2255.1L1733.9,2256.2L1735.6,2257.3L1737.3,2258.3L1738.9,2259.4L1740.6,2260.5L1742.2,2261.6L1743.9,2262.7L1745.5,2263.7L1747.2,2264.8L1748.8,2265.9L1750.5,2267.0L1752.1,2268.1L1753.7,2269.2L1755.3,2270.3L1756.9,2271.4L1758.5,2272.5L1760.1,2273.6L1761.7,2274.7L1763.3,2275.8L1764.8,2277.0L1766.3,2278.1L1767.9,2279.3L1769.4,2280.4L1770.9,2281.6L1772.3,2282.8L1773.8,2284.0L1775.2,2285.2L1776.7,2286.4L1778.1,2287.7L1779.5,2288.9L1780.8,2290.2L1782.2,2291.5L1783.5,2292.8L1784.8,2294.1L1786.1,2295.4L1787.3,2296.8L1788.6,2298.1L1789.8,2299.5L1790.9,2300.9L1792.1,2302.3L1793.2,2303.8L1794.3,2305.3L1795.4,2306.8L1796.4,2308.3L1797.4,2309.8L1798.4,2311.4L1799.4,2313.0L1800.3,2314.6L1801.2,2316.2L1802.0,2317.8L1802.9,2319.5L1803.7,2321.2L1804.5,2322.9L1805.2,2324.6L1806.0,2326.4L1806.7,2328.2L1807.3,2329.9L1808.0,2331.7L1808.6,2333.5L1809.2,2335.4L1809.8,2337.2L1810.4,2339.1L1810.9,2340.9L1811.4,2342.8L1811.9,2344.7L1812.4,2346.6L1812.9,2348.5L1813.3,2350.4L1813.8,2352.3L1814.2,2354.3L1814.6,2356.2L1814.9,2358.1L1815.3,2360.1L1815.7,2362.1L1816.0,2364.0L1816.3,2366.0L1816.6,2367.9L1816.9,2369.9L1817.2,2371.9L1817.5,2373.8L1817.7,2375.8L1818.0,2377.8L1818.2,2379.7L1818.5,2381.7L1818.7,2383.6L1818.9,2385.6L1819.1,2387.5L1819.3,2389.5L1819.5,2391.4L1819.7,2393.4L1819.9,2395.3L1820.1,2397.2L1820.3,2399.1L1820.5,2401.0L1820.6,2402.9L1820.8,2404.8L1821.0,2406.6L1821.2,2408.5L1821.3,2410.3L1821.5,2412.1L1821.7,2414.0L1821.8,2415.8L1822.0,2417.5L1822.2,2419.3L1824.2,2419.3Z"/>
<path stroke="#FF7F00" d="M1824.2,1788.5L1826.2,1788.5L1826.1,1790.4L1826.0,1792.3L1826.0,1794.3L1826.0,1796.1L1826.1,1798.0L1826.2,1799.9L1826.4,1801.7L1826.6,1803.5L1826.9,1805.4L1827.2,1807.2L1827.5,1808.9L1827.9,1810.7L1828.3,1812.5L1828.8,1814.2L1829.3,1815.9L1829.9,1817.6L1830.5,1819.3L1831.1,1821.0L1831.8,1822.6L1832.5,1824.2L1833.2,1825.9L1834.0,1827.5L1834.8,1829.0L1835.7,1830.6L1836.6,1832.2L1837.5,1833.7L1838.5,1835.2L1839.5,1836.7L1840.5,1838.2L1841.6,1839.6L1842.6,1841.1L1843.8,1842.5L1844.9,1843.9L1846.1,1845.3L1847.3,1846.6L1848.5,1848.0L1849.8,1849.3L1851.1,1850.6L1852.4,1851.9L1853.7,1853.2L1855.1,1854.4L1856.5,1855.6L1857.9,1856.8L1859.3,1858.0L1860.8,1859.2L1862.2,1860.3L1863.7,1861.5L1865.2,1862.6L1866.8,1863.6L1868.3,1864.7L1869.9,1865.8L1871.5,1866.8L1873.1,1867.8L1874.7,1868.8L1876.3,1869.8L1877.9,1870.8L1879.5,1871.8L1881.1,1872.8L1882.8,1873.8L1884.4,1874.8L1886.0,1875.8L1887.6,1876.7L1889.2,1877.8L1890.8,1878.8L1892.3,1879.8L1893.9,1880.8L1895.4,1881.9L1897.0,1882.9L1898.5,1884.0L1900.0,1885.1L1901.4,1886.3L1902.8,1887.4L1904.2,1888.6L1905.6,1889.8L1907.0,1891.1L1908.3,1892.3L1909.5,1893.6L1910.8,1895.0L1912.0,1896.3L1913.1,1897.7L1914.3,1899.1L1915.3,1900.6L1916.4,1902.0L1917.4,1903.5L1918.3,1905.0L1919.2,1906.5L1920.1,1908.1L1920.9,1909.7L1921.7,1911.2L1922.4,1912.8L1923.0,1914.5L1923.6,1916.1L1924.2,1917.7L1924.7,1919.4L1925.1,1921.0L1925.5,1922.7L1925.9,1924.4L1926.1,1926.1L1926.3,1927.8L1926.5,1929.5L1926.6,1931.2L1926.6,1932.9L1926.5,1934.6L1926.4,1936.3L1926.2,1938.1L1926.0,1939.8L1925.7,1941.5L1925.3,1943.2L1924.8,1944.9L1924.3,1946.6L1923.7,1948.3L1923.0,1950.0L1922.3,1951.7L1921.5,1953.4L1920.7,1955.0L1919.9,1956.7L1919.0,1958.4L1918.0,1960.1L1917.1,1961.7L1916.1,1963.4L1915.2,1965.0L1914.2,1966.7L1913.2,1968.3L1912.3,1970.0L1911.3,1971.6L1910.4,1973.3L1909.5,1974.9L1908.6,1976.6L1907.7,1978.2L1906.9,1979.8L1906.1,1981.5L1905.4,1983.1L1904.8,1984.7L1904.1,1986.4L1903.6,1988.0L1903.0,1989.6L1902.5,1991.3L1902.1,1992.9L1901.6,1994.6L1901.2,1996.2L1900.9,1997.9L1900.5,1999.6L1900.2,2001.3L1899.9,2003.0L1899.6,2004.7L1899.4,2006.4L1899.1,2008.2L1898.9,2009.9L1898.6,2011.7L1898.4,2013.5L1898.1,2015.3L1897.9,2017.1L1897.7,2018.9L1897.5,2020.8L1897.3,2022.6L1897.1,2024.5L1896.9,2026.4L1896.7,2028.3L1896.6,2030.2L1896.4,2032.1L1896.3,2034.0L1896.2,2035.9L1896.1,2037.9L1896.0,2039.8L1895.9,2041.7L1895.9,2043.6L1895.9,2045.5L1895.9,2047.4L1895.9,2049.4L1896.0,2051.3L1896.1,2053.2L1896.2,2055.1L1896.4,2056.9L1896.5,2058.8L1896.8,2060.7L1897.0,2062.5L1897.3,2064.3L1897.6,2066.1L1898.0,2067.9L1898.4,2069.7L1898.8,2071.5L1899.3,2073.2L1899.8,2074.9L1900.4,2076.6L1900.9,2078.3L1901.6,2080.0L1902.2,2081.7L1902.9,2083.3L1903.6,2084.9L1904.3,2086.6L1905.1,2088.2L1905.9,2089.8L1906.7,2091.3L1907.6,2092.9L1908.5,2094.5L1909.4,2096.0L1910.3,2097.5L1911.2,2099.1L1912.2,2100.6L1913.1,2102.1L1914.1,2103.6L1915.2,2105.1L1916.2,2106.6L1917.2,2108.0L1918.3,2109.5L1919.4,2111.0L1920.4,2112.4L1921.5,2113.9L1922.6,2115.3L1923.8,2116.8L1924.9,2118.2L1926.0,2119.7L1927.1,2121.1L1928.3,2122.6L1929.4,2124.0L1930.6,2125.4L1931.7,2126.9L1932.8,2128.3L1934.0,2129.7L1935.1,2131.2L1936.3,2132.6L1937.4,2134.1L1938.5,2135.5L1939.7,2137.0L1940.8,2138.4L1941.9,2139.9L1943.0,2141.3L1944.1,2142.8L1945.2,2144.3L1946.2,2145.8L1947.3,2147.3L1948.3,2148.8L1949.3,2150.3L1950.3,2151.8L1951.3,2153.3L1952.3,2154.8L1953.3,2156.4L1954.2,2157.9L1955.1,2159.5L1956.0,2161.1L1956.9,2162.7L1957.7,2164.3L1958.5,2165.9L1959.3,2167.5L1960.0,2169.1L1960.8,2170.8L1961.5,2172.5L1962.2,2174.1L1962.8,2175.8L1963.4,2177.5L1964.0,2179.2L1964.5,2180.9L1965.0,2182.7L1965.5,2184.4L1966.0,2186.1L1966.4,2187.9L1966.7,2189.6L1967.1,2191.3L1967.3,2193.1L1967.6,2194.8L1967.8,2196.6L1968.0,2198.3L1968.1,2200.0L1968.2,2201.8L1968.3,2203.5L1968.3,2205.2L1968.2,2206.9L1968.2,2208.6L1968.0,2210.4L1967.9,2212.0L1967.6,2213.7L1967.4,2215.4L1967.0,2217.1L1966.7,2218.7L1966.3,2220.4L1965.8,2222.0L1965.3,2223.6L1964.7,2225.2L1964.1,2226.8L1963.4,2228.3L1962.7,2229.9L1961.9,2231.4L1961.1,2232.9L1960.2,2234.4L1959.2,2235.8L1958.2,2237.3L1957.1,2238.7L1956.0,2240.0L1954.8,2241.4L1953.6,2242.8L1952.3,2244.1L1951.0,2245.4L1949.6,2246.7L1948.2,2247.9L1946.8,2249.2L1945.3,2250.5L1943.8,2251.7L1942.3,2252.9L1940.8,2254.1L1939.2,2255.3L1937.6,2256.5L1936.1,2257.8L1934.5,2259.0L1932.9,2260.2L1931.3,2261.4L1929.7,2262.6L1928.1,2263.8L1926.6,2265.0L1925.0,2266.2L1923.5,2267.4L1922.0,2268.6L1920.5,2269.9L1919.0,2271.1L1917.6,2272.4L1916.2,2273.7L1914.8,2275.0L1913.5,2276.3L1912.2,2277.7L1910.9,2279.0L1909.7,2280.4L1908.5,2281.7L1907.4,2283.1L1906.2,2284.5L1905.1,2285.9L1904.0,2287.4L1902.9,2288.8L1901.9,2290.2L1900.9,2291.7L1899.8,2293.1L1898.8,2294.6L1897.8,2296.0L1896.8,2297.5L1895.8,2298.9L1894.8,2300.4L1893.8,2301.8L1892.9,2303.3L1891.9,2304.8L1890.9,2306.2L1889.9,2307.7L1888.8,2309.1L1887.8,2310.6L1886.8,2312.0L1885.7,2313.4L1884.6,2314.8L1883.5,2316.2L1882.4,2317.6L1881.3,2319.0L1880.2,2320.4L1879.0,2321.8L1877.9,2323.2L1876.7,2324.6L1875.5,2326.0L1874.4,2327.3L1873.2,2328.7L1872.0,2330.1L1870.8,2331.4L1869.6,2332.8L1868.4,2334.2L1867.1,2335.5L1865.9,2336.9L1864.7,2338.2L1863.5,2339.6L1862.3,2341.0L1861.0,2342.3L1859.8,2343.7L1858.6,2345.1L1857.4,2346.4L1856.2,2347.8L1855.0,2349.2L1853.8,2350.6L1852.6,2352.0L1851.5,2353.4L1850.3,2354.8L1849.2,2356.2L1848.0,2357.6L1846.9,2359.1L1845.8,2360.5L1844.7,2361.9L1843.6,2363.4L1842.5,2364.8L1841.4,2366.3L1840.4,2367.8L1839.4,2369.3L1838.4,2370.8L1837.4,2372.3L1836.4,2373.9L1835.5,2375.4L1834.6,2377.0L1833.7,2378.5L1832.8,2380.1L1831.9,2381.7L1831.1,2383.3L1830.3,2385.0L1829.6,2386.6L1828.8,2388.3L1828.1,2389.9L1827.5,2391.6L1826.8,2393.4L1826.2,2395.1L1824.2,2395.1Z"/>
<path stroke="#0077BB" d="M2189.6,1744.0L2187.6,1744.0L2187.5,1746.0L2187.5,1747.9L2187.4,1749.9L2187.3,1751.8L2187.2,1753.8L2187.1,1755.7L2187.0,1757.7L2186.8,1759.6L2186.7,1761.6L2186.5,1763.5L2186.3,1765.4L2186.1,1767.4L2185.9,1769.3L2185.7,1771.2L2185.5,1773.1L2185.3,1775.1L2185.0,1777.0L2184.8,1778.9L2184.5,1780.8L2184.3,1782.7L2184.0,1784.7L2183.7,1786.6L2183.4,1788.5L2183.1,1790.4L2182.8,1792.3L2182.4,1794.2L2182.1,1796.1L2181.8,1798.0L2181.4,1799.9L2181.1,1801.8L2180.7,1803.7L2180.4,1805.6L2180.0,1807.5L2179.6,1809.4L2179.2,1811.3L2178.8,1813.2L2178.4,1815.1L2178.0,1817.0L2177.6,1818.9L2177.2,1820.8L2176.8,1822.7L2176.4,1824.5L2176.0,1826.4L2175.5,1828.3L2175.1,1830.2L2174.7,1832.1L2174.2,1834.0L2173.8,1835.8L2173.4,1837.7L2172.9,1839.6L2172.5,1841.5L2172.0,1843.4L2171.6,1845.3L2171.1,1847.1L2170.7,1849.0L2170.2,1850.9L2169.8,1852.8L2169.3,1854.7L2168.8,1856.5L2168.4,1858.4L2167.9,1860.3L2167.5,1862.2L2167.0,1864.1L2166.6,1865.9L2166.1,1867.8L2165.7,1869.7L2165.2,1871.6L2164.8,1873.5L2164.3,1875.4L2163.9,1877.2L2163.4,1879.1L2163.0,1881.0L2162.5,1882.9L2162.1,1884.8L2161.7,1886.7L2161.3,1888.6L2160.8,1890.4L2160.4,1892.3L2160.0,1894.2L2159.6,1896.1L2159.2,1898.0L2158.8,1899.9L2158.4,1901.8L2158.0,1903.7L2157.6,1905.6L2157.3,1907.5L2156.9,1909.4L2156.5,1911.3L2156.2,1913.2L2155.8,1915.1L2155.5,1917.0L2155.1,1918.9L2154.8,1920.8L2154.5,1922.7L2154.2,1924.6L2153.9,1926.5L2153.6,1928.4L2153.3,1930.4L2153.0,1932.3L2152.7,1934.2L2152.5,1936.1L2152.2,1938.0L2152.0,1940.0L2151.8,1941.9L2151.5,1943.8L2151.3,1945.8L2151.1,1947.7L2151.0,1949.6L2150.8,1951.6L2150.6,1953.5L2150.5,1955.5L2150.3,1957.4L2150.2,1959.3L2150.1,1961.3L2150.0,1963.2L2149.9,1965.2L2149.8,1967.2L2149.8,1969.1L2149.7,1971.1L2149.7,1973.1L2149.6,1975.0L2149.6,1977.0L2149.6,1979.0L2149.6,1980.9L2149.6,1982.9L2149.6,1984.9L2149.6,1986.9L2149.6,1988.8L2149.6,1990.8L2149.6,1992.8L2149.7,1994.7L2149.7,1996.7L2149.7,1998.7L2149.7,2000.6L2149.7,2002.6L2149.7,2004.6L2149.7,2006.5L2149.7,2008.5L2149.7,2010.4L2149.6,2012.4L2149.6,2014.3L2149.5,2016.3L2149.5,2018.2L2149.4,2020.2L2149.3,2022.1L2149.2,2024.0L2149.1,2025.9L2149.0,2027.9L2148.8,2029.8L2148.6,2031.7L2148.5,2033.6L2148.2,2035.5L2148.0,2037.4L2147.8,2039.2L2147.5,2041.1L2147.2,2043.0L2146.9,2044.8L2146.5,2046.7L2146.1,2048.5L2145.7,2050.4L2145.3,2052.2L2144.8,2054.0L2144.4,2055.8L2143.8,2057.6L2143.3,2059.4L2142.7,2061.2L2142.1,2062.9L2141.5,2064.7L2140.8,2066.5L2140.1,2068.2L2139.4,2069.9L2138.7,2071.7L2137.9,2073.4L2137.2,2075.1L2136.3,2076.8L2135.5,2078.5L2134.7,2080.2L2133.8,2081.8L2132.9,2083.5L2131.9,2085.2L2131.0,2086.8L2130.0,2088.5L2129.0,2090.1L2128.0,2091.7L2126.9,2093.3L2125.8,2094.9L2124.8,2096.5L2123.6,2098.1L2122.5,2099.7L2121.3,2101.3L2120.2,2102.8L2119.0,2104.4L2117.8,2105.9L2116.5,2107.5L2115.3,2109.0L2114.0,2110.5L2112.7,2112.0L2111.4,2113.5L2110.0,2115.0L2108.7,2116.5L2107.3,2118.0L2105.9,2119.4L2104.5,2120.9L2103.1,2122.4L2101.6,2123.8L2100.2,2125.3L2098.7,2126.7L2097.3,2128.1L2095.8,2129.6L2094.4,2131.0L2092.9,2132.4L2091.4,2133.9L2089.9,2135.3L2088.4,2136.7L2087.0,2138.2L2085.5,2139.6L2084.0,2141.0L2082.6,2142.5L2081.1,2143.9L2079.7,2145.4L2078.2,2146.8L2076.8,2148.3L2075.4,2149.8L2074.0,2151.2L2072.6,2152.7L2071.3,2154.2L2069.9,2155.7L2068.6,2157.2L2067.3,2158.8L2066.0,2160.3L2064.8,2161.8L2063.5,2163.4L2062.3,2165.0L2061.1,2166.6L2060.0,2168.2L2058.9,2169.8L2057.8,2171.4L2056.8,2173.1L2055.8,2174.7L2054.8,2176.4L2053.9,2178.1L2053.0,2179.7L2052.1,2181.4L2051.3,2183.1L2050.6,2184.8L2049.9,2186.5L2049.2,2188.2L2048.6,2189.9L2048.0,2191.7L2047.5,2193.4L2047.1,2195.1L2046.7,2196.8L2046.4,2198.5L2046.1,2200.2L2045.9,2201.9L2045.8,2203.6L2045.7,2205.3L2045.7,2207.0L2045.8,2208.7L2045.9,2210.4L2046.1,2212.1L2046.4,2213.8L2046.7,2215.4L2047.1,2217.1L2047.5,2218.7L2048.0,2220.4L2048.6,2222.0L2049.2,2223.6L2049.9,2225.3L2050.6,2226.9L2051.4,2228.5L2052.2,2230.1L2053.0,2231.6L2054.0,2233.2L2054.9,2234.8L2055.9,2236.3L2057.0,2237.9L2058.1,2239.4L2059.2,2240.9L2060.3,2242.4L2061.5,2243.9L2062.8,2245.4L2064.0,2246.9L2065.3,2248.3L2066.7,2249.8L2068.0,2251.2L2069.4,2252.6L2070.8,2254.0L2072.3,2255.4L2073.8,2256.8L2075.2,2258.2L2076.8,2259.5L2078.3,2260.8L2079.8,2262.2L2081.4,2263.5L2083.0,2264.7L2084.6,2266.0L2086.2,2267.3L2087.8,2268.5L2089.4,2269.7L2091.1,2270.9L2092.7,2272.1L2094.4,2273.3L2096.0,2274.5L2097.7,2275.7L2099.4,2276.8L2101.0,2278.0L2102.7,2279.1L2104.4,2280.3L2106.1,2281.4L2107.8,2282.5L2109.5,2283.6L2111.1,2284.8L2112.8,2285.9L2114.5,2287.0L2116.2,2288.2L2117.8,2289.3L2119.5,2290.4L2121.2,2291.6L2122.8,2292.7L2124.4,2293.8L2126.1,2295.0L2127.7,2296.2L2129.3,2297.3L2130.9,2298.5L2132.4,2299.7L2134.0,2300.9L2135.6,2302.1L2137.1,2303.4L2138.6,2304.6L2140.1,2305.9L2141.6,2307.2L2143.0,2308.5L2144.5,2309.8L2145.9,2311.1L2147.3,2312.5L2148.6,2313.8L2150.0,2315.2L2151.3,2316.6L2152.6,2318.0L2153.9,2319.5L2155.2,2320.9L2156.4,2322.4L2157.6,2323.9L2158.8,2325.3L2159.9,2326.9L2161.1,2328.4L2162.2,2329.9L2163.2,2331.5L2164.3,2333.1L2165.3,2334.7L2166.3,2336.3L2167.3,2337.9L2168.2,2339.6L2169.1,2341.3L2170.0,2342.9L2170.8,2344.6L2171.6,2346.4L2172.4,2348.1L2173.1,2349.9L2173.9,2351.6L2174.5,2353.4L2175.2,2355.2L2175.8,2357.0L2176.4,2358.8L2177.0,2360.7L2177.6,2362.5L2178.1,2364.4L2178.6,2366.2L2179.1,2368.1L2179.6,2370.0L2180.1,2371.9L2180.5,2373.8L2180.9,2375.7L2181.3,2377.6L2181.7,2379.5L2182.0,2381.5L2182.4,2383.4L2182.7,2385.3L2183.0,2387.3L2183.4,2389.2L2183.6,2391.1L2183.9,2393.1L2184.2,2395.0L2184.5,2397.0L2184.7,2398.9L2185.0,2400.9L2185.2,2402.8L2185.4,2404.7L2185.7,2406.7L2185.9,2408.6L2186.1,2410.5L2186.3,2412.4L2186.5,2414.3L2186.8,2416.3L2187.0,2418.2L2187.2,2420.0L2187.4,2421.9L2187.6,2423.8L2189.6,2423.8Z"/>
<path stroke="#FF7F00" d="M2189.6,1705.6L2192.3,1705.6L2192.3,1707.6L2192.3,1709.7L2192.4,1711.7L2192.4,1713.8L2192.4,1715.8L2192.5,1717.9L2192.5,1720.0L2192.6,1722.1L2192.7,1724.2L2192.8,1726.3L2192.9,1728.4L2193.0,1730.4L2193.1,1732.5L2193.2,1734.7L2193.4,1736.8L2193.5,1738.9L2193.7,1741.0L2193.9,1743.1L2194.1,1745.2L2194.3,1747.3L2194.5,1749.4L2194.8,1751.5L2195.1,1753.6L2195.4,1755.7L2195.7,1757.8L2196.0,1759.8L2196.4,1761.9L2196.8,1764.0L2197.2,1766.1L2197.6,1768.1L2198.1,1770.2L2198.5,1772.2L2199.0,1774.2L2199.6,1776.3L2200.1,1778.3L2200.7,1780.3L2201.3,1782.3L2202.0,1784.2L2202.6,1786.2L2203.4,1788.2L2204.1,1790.1L2204.9,1792.0L2205.7,1794.0L2206.5,1795.9L2207.4,1797.7L2208.3,1799.6L2209.2,1801.5L2210.2,1803.3L2211.2,1805.1L2212.2,1806.9L2213.3,1808.7L2214.4,1810.4L2215.6,1812.2L2216.8,1813.9L2218.0,1815.6L2219.3,1817.3L2220.5,1819.0L2221.8,1820.7L2223.2,1822.3L2224.5,1824.0L2225.9,1825.6L2227.2,1827.2L2228.6,1828.9L2230.0,1830.5L2231.4,1832.1L2232.8,1833.7L2234.2,1835.3L2235.7,1837.0L2237.1,1838.6L2238.5,1840.2L2239.9,1841.8L2241.3,1843.4L2242.6,1845.1L2244.0,1846.7L2245.4,1848.4L2246.7,1850.0L2248.0,1851.7L2249.3,1853.4L2250.6,1855.1L2251.8,1856.8L2253.0,1858.5L2254.2,1860.2L2255.4,1862.0L2256.5,1863.7L2257.6,1865.5L2258.7,1867.2L2259.7,1869.0L2260.7,1870.8L2261.6,1872.6L2262.5,1874.4L2263.4,1876.3L2264.2,1878.1L2265.0,1880.0L2265.7,1881.9L2266.3,1883.8L2266.9,1885.7L2267.5,1887.6L2268.0,1889.5L2268.5,1891.5L2268.8,1893.4L2269.2,1895.4L2269.4,1897.4L2269.6,1899.4L2269.8,1901.5L2269.9,1903.5L2269.9,1905.6L2269.9,1907.6L2269.9,1909.7L2269.9,1911.8L2269.8,1913.8L2269.7,1915.9L2269.7,1918.0L2269.6,1920.1L2269.6,1922.2L2269.5,1924.3L2269.5,1926.4L2269.6,1928.4L2269.6,1930.5L2269.7,1932.6L2269.9,1934.6L2270.1,1936.7L2270.3,1938.7L2270.6,1940.7L2270.9,1942.8L2271.3,1944.8L2271.7,1946.8L2272.1,1948.8L2272.5,1950.9L2273.0,1952.9L2273.6,1954.9L2274.1,1956.9L2274.7,1958.9L2275.4,1960.9L2276.1,1963.0L2276.8,1965.0L2277.5,1967.0L2278.3,1969.0L2279.1,1971.1L2279.9,1973.1L2280.8,1975.1L2281.7,1977.1L2282.6,1979.2L2283.5,1981.2L2284.4,1983.3L2285.3,1985.3L2286.3,1987.3L2287.1,1989.4L2288.0,1991.4L2288.8,1993.4L2289.6,1995.4L2290.3,1997.4L2290.9,1999.4L2291.5,2001.4L2291.9,2003.4L2292.3,2005.3L2292.6,2007.2L2292.8,2009.1L2292.8,2011.0L2292.8,2012.9L2292.7,2014.8L2292.4,2016.6L2292.1,2018.4L2291.7,2020.2L2291.2,2022.0L2290.7,2023.8L2290.0,2025.6L2289.3,2027.4L2288.6,2029.2L2287.7,2030.9L2286.8,2032.7L2285.9,2034.4L2284.9,2036.1L2283.8,2037.9L2282.7,2039.6L2281.5,2041.3L2280.4,2043.1L2279.2,2044.8L2277.9,2046.5L2276.6,2048.2L2275.3,2050.0L2274.0,2051.7L2272.7,2053.4L2271.4,2055.2L2270.0,2056.9L2268.6,2058.7L2267.3,2060.5L2265.9,2062.2L2264.6,2064.0L2263.3,2065.8L2261.9,2067.6L2260.6,2069.4L2259.4,2071.2L2258.1,2073.1L2256.9,2074.9L2255.7,2076.7L2254.5,2078.6L2253.4,2080.5L2252.3,2082.3L2251.3,2084.2L2250.3,2086.0L2249.4,2087.9L2248.6,2089.8L2247.8,2091.6L2247.0,2093.5L2246.4,2095.3L2245.8,2097.2L2245.3,2099.0L2244.8,2100.8L2244.5,2102.7L2244.2,2104.5L2244.0,2106.3L2243.9,2108.0L2244.0,2109.8L2244.1,2111.5L2244.3,2113.3L2244.7,2115.0L2245.1,2116.7L2245.7,2118.3L2246.4,2120.0L2247.2,2121.6L2248.1,2123.2L2249.1,2124.8L2250.2,2126.3L2251.4,2127.9L2252.7,2129.4L2254.1,2130.9L2255.6,2132.3L2257.1,2133.8L2258.7,2135.2L2260.4,2136.6L2262.1,2138.0L2263.8,2139.4L2265.6,2140.8L2267.5,2142.1L2269.3,2143.4L2271.2,2144.7L2273.2,2146.0L2275.1,2147.3L2277.0,2148.6L2279.0,2149.8L2280.9,2151.1L2282.8,2152.3L2284.7,2153.5L2286.6,2154.7L2288.5,2155.9L2290.4,2157.1L2292.2,2158.3L2294.1,2159.5L2295.9,2160.7L2297.7,2161.9L2299.5,2163.1L2301.3,2164.3L2303.0,2165.6L2304.7,2166.8L2306.4,2168.1L2308.0,2169.4L2309.7,2170.8L2311.3,2172.1L2312.8,2173.5L2314.4,2175.0L2315.9,2176.4L2317.3,2177.9L2318.8,2179.5L2320.2,2181.1L2321.5,2182.7L2322.8,2184.4L2324.1,2186.1L2325.3,2187.9L2326.5,2189.8L2327.6,2191.6L2328.7,2193.5L2329.7,2195.4L2330.6,2197.4L2331.5,2199.4L2332.3,2201.4L2333.0,2203.4L2333.7,2205.4L2334.2,2207.4L2334.7,2209.4L2335.1,2211.4L2335.4,2213.3L2335.6,2215.3L2335.7,2217.3L2335.6,2219.2L2335.5,2221.1L2335.3,2222.9L2334.9,2224.8L2334.5,2226.6L2334.0,2228.4L2333.4,2230.1L2332.6,2231.8L2331.8,2233.5L2331.0,2235.2L2330.0,2236.9L2329.0,2238.5L2327.9,2240.1L2326.7,2241.7L2325.4,2243.2L2324.1,2244.8L2322.8,2246.3L2321.4,2247.8L2319.9,2249.2L2318.4,2250.7L2316.8,2252.1L2315.2,2253.5L2313.6,2254.9L2311.9,2256.3L2310.2,2257.7L2308.5,2259.0L2306.8,2260.4L2305.0,2261.7L2303.3,2263.0L2301.5,2264.3L2299.7,2265.6L2297.9,2266.8L2296.1,2268.1L2294.3,2269.3L2292.5,2270.6L2290.7,2271.8L2289.0,2273.0L2287.2,2274.2L2285.5,2275.4L2283.7,2276.6L2282.0,2277.8L2280.3,2279.0L2278.6,2280.2L2276.9,2281.4L2275.2,2282.6L2273.5,2283.8L2271.9,2285.0L2270.2,2286.2L2268.5,2287.4L2266.9,2288.6L2265.3,2289.9L2263.7,2291.1L2262.1,2292.3L2260.5,2293.6L2258.9,2294.9L2257.3,2296.2L2255.8,2297.5L2254.2,2298.8L2252.7,2300.1L2251.2,2301.5L2249.7,2302.8L2248.2,2304.2L2246.7,2305.7L2245.2,2307.1L2243.7,2308.5L2242.3,2310.0L2240.9,2311.5L2239.4,2313.0L2238.0,2314.6L2236.6,2316.1L2235.3,2317.7L2233.9,2319.3L2232.6,2320.9L2231.2,2322.5L2229.9,2324.1L2228.6,2325.8L2227.3,2327.5L2226.0,2329.1L2224.8,2330.8L2223.6,2332.6L2222.3,2334.3L2221.1,2336.0L2219.9,2337.8L2218.8,2339.6L2217.6,2341.3L2216.5,2343.1L2215.4,2344.9L2214.3,2346.8L2213.2,2348.6L2212.1,2350.4L2211.1,2352.3L2210.1,2354.2L2209.1,2356.1L2208.1,2357.9L2207.1,2359.8L2206.2,2361.7L2205.3,2363.7L2204.4,2365.6L2203.5,2367.5L2202.7,2369.5L2201.8,2371.4L2201.0,2373.4L2200.2,2375.3L2199.5,2377.3L2198.7,2379.3L2198.0,2381.2L2197.3,2383.2L2196.6,2385.2L2196.0,2387.2L2195.3,2389.2L2194.7,2391.2L2194.2,2393.2L2193.6,2395.2L2193.1,2397.3L2192.6,2399.3L2192.1,2401.3L2189.6,2401.3Z"/>
</g>
<rect x="182.1" y="1656.5" width="2191.7" height="805.1" fill="none" stroke="#000" stroke-width="3.6" stroke-linejoin="miter"/>
<path d="M362.6,2461.6v16.4M728.0,2461.6v16.4M1093.4,2461.6v16.4M1458.8,2461.6v16.4M1824.2,2461.6v16.4M2189.6,2461.6v16.4M182.1,2461.6h-16.4M182.1,2327.4h-16.4M182.1,2193.2h-16.4M182.1,2059.1h-16.4M182.1,1924.9h-16.4M182.1,1790.7h-16.4M182.1,1656.5h-16.4" stroke="#000" stroke-width="3.6" fill="none"/>
<g font-size="69.4">
<text x="362.6" y="2540.3" text-anchor="middle">1</text>
<text x="728.0" y="2540.3" text-anchor="middle">2</text>
<text x="1093.4" y="2540.3" text-anchor="middle">3</text>
<text x="1458.8" y="2540.3" text-anchor="middle">4</text>
<text x="1824.2" y="2540.3" text-anchor="middle">5</text>
<text x="2189.6" y="2540.3" text-anchor="middle">6</text>
<text x="154.0" y="2487.0" text-anchor="end">0</text>
<text x="154.0" y="2352.8" text-anchor="end">1</text>
<text x="154.0" y="2218.6" text-anchor="end">2</text>
<text x="154.0" y="2084.5" text-anchor="end">3</text>
<text x="154.0" y="1950.3" text-anchor="end">4</text>
<text x="154.0" y="1816.1" text-anchor="end">5</text>
<text x="154.0" y="1681.9" text-anchor="end">6</text>
<text transform="translate(77.5,2063.6) rotate(-90)" text-anchor="middle">Coordination number Cl</text>
<text x="1184.0" y="2627.4"><tspan font-family='"DejaVu Sans", "Liberation Sans", sans-serif' font-style="italic" font-size="69.4">t</tspan><tspan font-family='"DejaVu Sans", "Liberation Sans", sans-serif' font-style="italic" font-size="48.58" dy="11.0">c</tspan><tspan dy="-11.0"> / ps</tspan></text>
<rect x="681.8" y="1586.4" width="136.6" height="46.9" fill="none" stroke="#0077BB" stroke-width="6.6"/>
<text x="873.5" y="1634.6">Classical MD</text>
<rect x="1416.4" y="1586.4" width="137.5" height="46.9" fill="none" stroke="#FF7F00" stroke-width="6.6"/>
<text x="1609.0" y="1634.6">RPMD</text>
</g>
<g font-size="82.5">
<text x="71.4" y="1496.6">(b)</text>
<text y="1496.6"><tspan x="1066.5">DCl</tspan><tspan x="1201.5"> + </tspan><tspan x="1289.6">(H</tspan><tspan x="1375.0" dy="15.7" font-size="54.45">2</tspan><tspan x="1406.7" dy="-15.7">O)</tspan><tspan x="1494.3" dy="15.7" font-size="54.45">49</tspan></text>
</g>
</g>
</svg>
</body></html>
